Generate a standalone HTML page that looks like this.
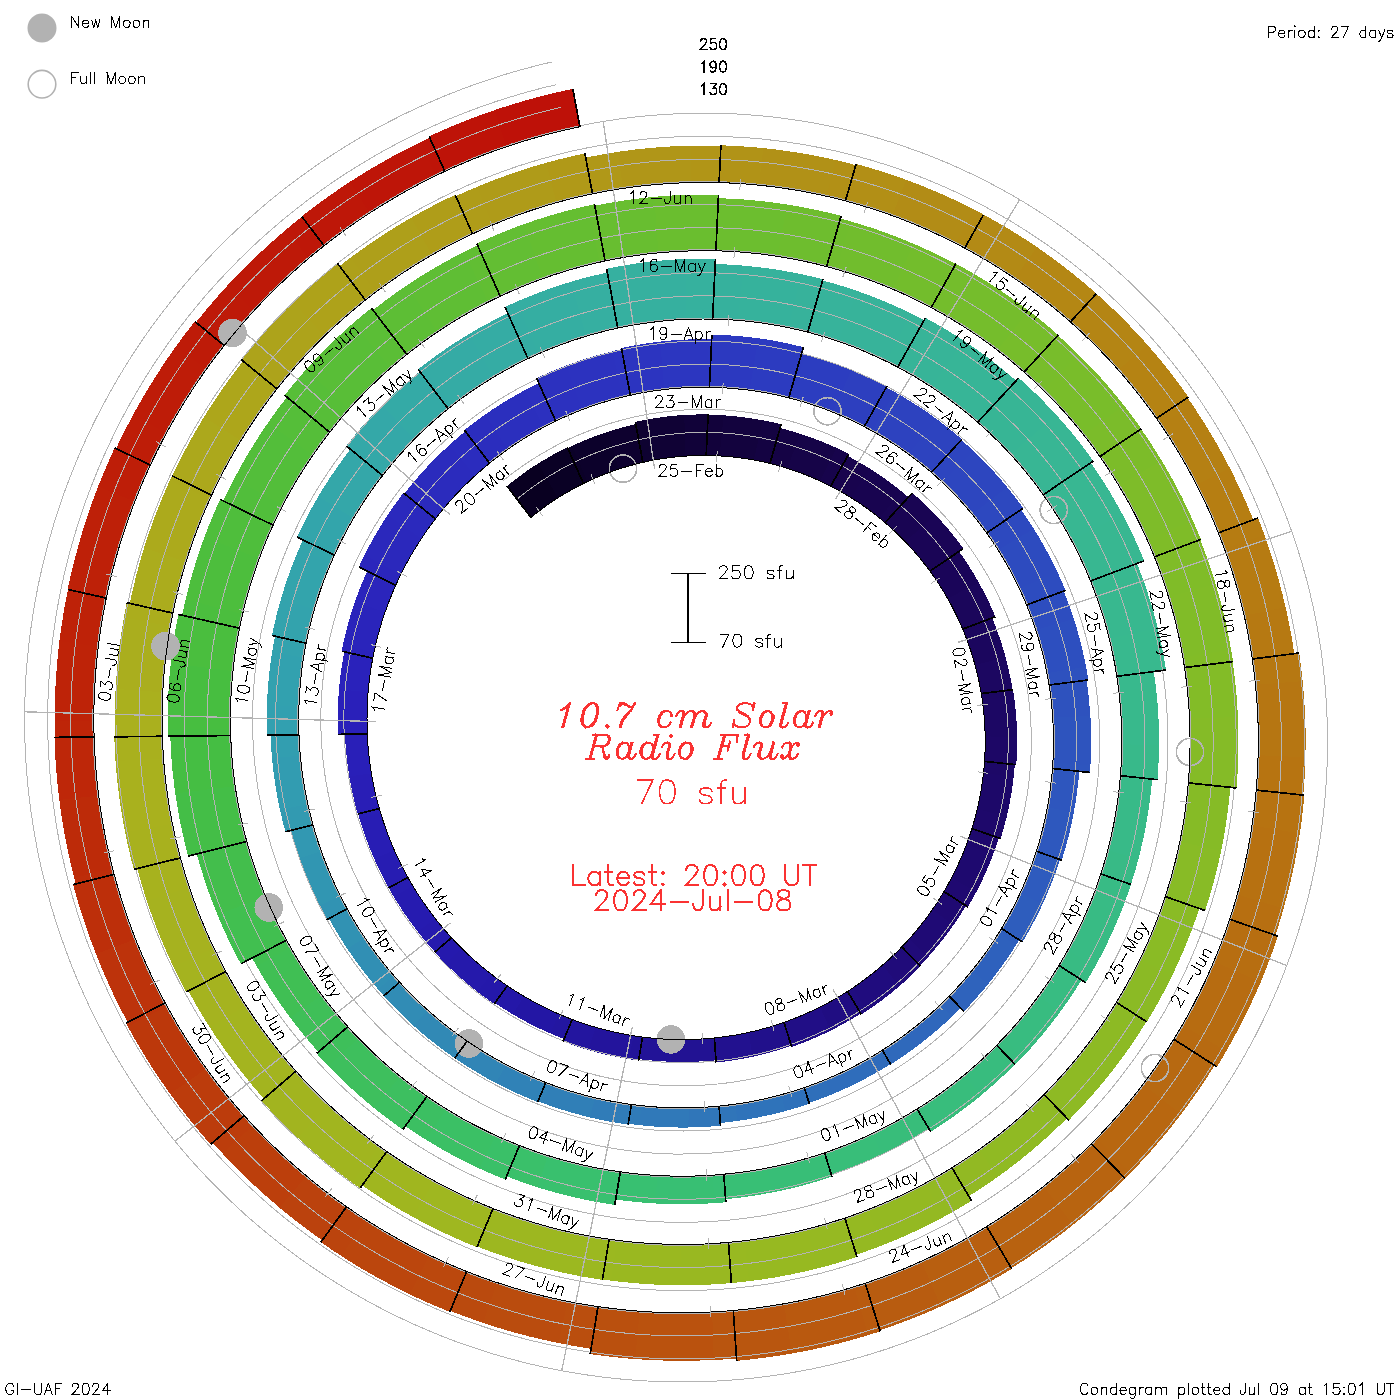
<!DOCTYPE html>
<html><head><meta charset="utf-8"><title>10.7 cm Solar Radio Flux Condegram</title>
<style>
html,body{margin:0;padding:0;background:#fff;}
body{width:1400px;height:1400px;overflow:hidden;font-family:"Liberation Sans",sans-serif;}
svg{display:block;}
text{font-family:"Liberation Sans",sans-serif;}
</style></head><body>
<svg width="1400" height="1400" viewBox="0 0 1400 1400">
<rect width="1400" height="1400" fill="#fff"/>
<g shape-rendering="crispEdges">
<polygon points="531.0,517.5 536.3,513.2 541.7,509.1 547.2,505.1 552.8,501.2 558.5,497.5 538.7,463.2 532.1,467.4 525.6,471.8 519.3,476.4 513.1,481.1 506.9,486.0" fill="#090021"/>
<polygon points="558.0,497.8 562.9,494.8 568.0,491.8 573.1,488.9 578.2,486.2 583.4,483.5 567.3,447.3 561.3,450.3 555.4,453.4 549.6,456.7 543.8,460.1 538.1,463.6" fill="#0a0125"/>
<polygon points="583.4,483.5 585.7,482.4 588.0,481.3 572.9,445.5 570.2,446.8 567.6,448.0" fill="#0b0128"/>
<polygon points="587.4,481.6 593.7,478.7 600.0,476.0 606.4,473.5 612.8,471.1 619.4,468.9 608.8,431.5 601.4,434.0 593.9,436.7 586.6,439.6 579.4,442.6 572.2,445.8" fill="#0c012b"/>
<polygon points="618.8,469.1 624.7,467.2 630.7,465.5 636.8,463.9 642.9,462.4 635.7,424.2 628.7,425.8 621.8,427.6 615.0,429.6 608.1,431.7" fill="#0e012f"/>
<polygon points="642.9,462.4 647.5,461.4 652.2,460.4 646.1,419.7 640.7,420.8 635.3,421.9" fill="#0e0231"/>
<polygon points="651.6,460.5 658.4,459.3 665.3,458.2 672.2,457.3 679.1,456.6 686.1,456.1 685.0,414.9 677.0,415.5 669.1,416.3 661.1,417.3 653.2,418.5 645.4,419.9" fill="#100235"/>
<polygon points="685.4,456.1 692.3,455.7 699.2,455.5 706.2,455.5 708.1,414.4 700.2,414.4 692.2,414.6 684.3,415.0" fill="#110239"/>
<polygon points="706.2,455.5 713.3,455.6 720.3,456.0 724.4,415.4 716.2,415.0 708.1,414.8" fill="#12023b"/>
<polygon points="719.7,455.9 726.7,456.4 733.7,457.1 740.6,457.9 747.6,459.0 754.5,460.2 763.6,420.4 755.6,419.0 747.6,417.8 739.7,416.8 731.6,415.9 723.6,415.3" fill="#13033e"/>
<polygon points="753.9,460.0 759.3,461.1 764.6,462.2 769.9,463.5 781.2,424.3 775.1,422.8 769.0,421.5 762.8,420.3" fill="#140342"/>
<polygon points="769.9,463.5 776.0,465.1 782.1,466.8 788.1,468.6 800.7,433.9 793.9,431.8 787.0,429.8 780.1,428.0" fill="#150345"/>
<polygon points="787.5,468.4 794.2,470.6 800.9,473.0 807.5,475.6 814.0,478.3 820.5,481.2 837.3,448.3 830.0,445.0 822.6,441.9 815.1,439.0 807.6,436.2 800.0,433.7" fill="#160448"/>
<polygon points="819.9,480.9 825.3,483.5 830.7,486.2 848.8,454.0 842.8,450.9 836.6,448.0" fill="#17044c"/>
<polygon points="830.7,486.2 835.9,488.9 841.1,491.8 846.2,494.8 851.2,497.9 870.7,469.2 865.1,465.7 859.3,462.4 853.5,459.1 847.7,456.0" fill="#18044e"/>
<polygon points="850.7,497.5 856.7,501.4 862.6,505.4 868.5,509.5 874.2,513.8 879.8,518.3 902.7,492.3 896.4,487.3 890.0,482.4 883.5,477.7 876.8,473.2 870.1,468.8" fill="#180450"/>
<polygon points="879.3,517.9 882.2,520.2 885.0,522.6 908.5,497.2 905.3,494.5 902.1,491.8" fill="#190552"/>
<polygon points="885.0,522.6 890.4,527.3 895.6,532.2 900.7,537.1 905.7,542.2 936.0,515.4 930.3,509.6 924.5,503.9 918.5,498.3 912.4,492.9" fill="#190553"/>
<polygon points="905.3,541.7 910.2,547.0 915.0,552.4 919.7,557.9 924.2,563.6 928.6,569.3 961.9,546.5 957.0,539.9 951.8,533.4 946.5,527.1 941.1,520.9 935.5,514.9" fill="#1a0556"/>
<polygon points="928.2,568.8 929.1,569.9 929.9,571.1 963.4,548.5 962.5,547.2 961.5,545.9" fill="#1a0557"/>
<polygon points="929.9,571.1 933.8,576.5 937.5,582.0 941.2,587.7 944.6,593.4 948.0,599.2 979.1,583.2 975.4,576.6 971.5,570.2 967.5,563.9 963.3,557.6 958.9,551.5" fill="#1a0559"/>
<polygon points="947.7,598.6 951.0,604.5 954.1,610.6 957.1,616.7 959.9,622.8 962.7,629.1 995.4,616.7 992.4,609.7 989.2,602.8 985.9,595.9 982.4,589.2 978.8,582.5" fill="#1b065b"/>
<polygon points="962.7,629.1 963.1,630.2 963.6,631.4 993.2,620.5 992.7,619.3 992.2,618.0" fill="#1b065d"/>
<polygon points="963.4,630.8 966.1,637.6 968.6,644.4 971.0,651.4 973.1,658.4 975.1,665.5 1005.9,658.4 1003.7,650.5 1001.3,642.7 998.7,635.0 995.9,627.4 993.0,619.9" fill="#1b065e"/>
<polygon points="975.0,664.8 976.8,671.9 978.5,679.1 980.0,686.4 981.3,693.6 1012.6,689.6 1011.2,681.6 1009.5,673.5 1007.7,665.6 1005.7,657.6" fill="#1c0761"/>
<polygon points="981.3,693.6 981.9,697.2 982.4,700.8 1014.2,697.6 1013.6,693.6 1013.0,689.6" fill="#1c0762"/>
<polygon points="982.3,700.2 983.2,707.5 984.0,714.9 984.6,722.2 985.0,729.6 985.2,737.0 1017.1,737.7 1016.9,729.5 1016.5,721.3 1015.9,713.1 1015.1,705.0 1014.1,696.8" fill="#1c0764"/>
<polygon points="985.2,736.4 985.2,742.6 985.1,748.9 984.9,755.1 984.5,761.4 1016.3,764.7 1016.7,757.8 1017.0,750.9 1017.1,743.9 1017.1,737.0" fill="#1d0766"/>
<polygon points="984.5,761.4 984.1,767.4 983.5,773.5 1013.5,777.9 1014.2,771.2 1014.8,764.6" fill="#1d0867"/>
<polygon points="983.5,772.8 982.6,780.2 981.6,787.6 980.3,794.9 978.8,802.3 977.2,809.5 1006.5,817.7 1008.3,809.7 1009.9,801.6 1011.4,793.5 1012.6,785.3 1013.6,777.2" fill="#1d0869"/>
<polygon points="977.3,808.9 975.7,815.5 973.9,822.0 972.0,828.6 1000.6,838.6 1002.8,831.5 1004.8,824.2 1006.6,817.0" fill="#1e086b"/>
<polygon points="972.0,828.6 969.3,836.7 966.4,844.7 992.7,855.7 995.9,846.9 998.8,838.0" fill="#1e086d"/>
<polygon points="966.6,844.1 963.9,851.1 961.0,858.1 958.0,864.9 954.7,871.7 951.3,878.5 976.0,892.6 979.8,885.3 983.3,877.8 986.7,870.3 989.9,862.7 992.9,855.0" fill="#1e096f"/>
<polygon points="951.6,877.9 947.9,884.8 944.0,891.6 967.9,907.0 972.2,899.5 976.3,892.0" fill="#1f0971"/>
<polygon points="944.0,891.6 940.1,897.9 936.1,904.1 932.0,910.2 952.9,925.9 957.4,919.3 961.8,912.6 966.0,905.7" fill="#1f0972"/>
<polygon points="932.4,909.6 928.0,915.8 923.4,921.9 918.7,927.8 913.8,933.7 908.8,939.4 927.6,957.6 933.0,951.4 938.4,945.1 943.5,938.6 948.5,932.0 953.3,925.3" fill="#1f0a75"/>
<polygon points="909.2,938.9 905.6,942.9 901.8,946.9 920.0,965.7 924.1,961.4 928.1,957.1" fill="#200b78"/>
<polygon points="901.8,946.9 897.0,951.7 892.1,956.5 887.1,961.1 882.0,965.6 898.9,986.6 904.5,981.7 909.9,976.7 915.3,971.5 920.5,966.3" fill="#200b7a"/>
<polygon points="882.5,965.2 876.7,970.1 870.7,974.9 864.6,979.6 858.4,984.1 852.0,988.4 866.2,1011.4 873.1,1006.6 879.9,1001.8 886.5,996.7 893.1,991.5 899.4,986.1" fill="#200c7e"/>
<polygon points="852.6,988.0 850.1,989.7 847.6,991.4 861.3,1014.5 864.1,1012.7 866.8,1010.9" fill="#200d80"/>
<polygon points="847.6,991.4 840.7,995.6 833.7,999.7 826.6,1003.7 819.3,1007.4 830.0,1030.9 837.9,1026.8 845.6,1022.6 853.2,1018.2 860.7,1013.5" fill="#200d82"/>
<polygon points="820.0,1007.1 813.0,1010.5 806.0,1013.7 798.9,1016.7 791.7,1019.6 784.4,1022.2 792.1,1046.8 800.0,1043.9 807.8,1040.9 815.5,1037.6 823.2,1034.2 830.7,1030.5" fill="#210e86"/>
<polygon points="785.0,1022.0 784.5,1022.2 784.0,1022.4 791.7,1047.0 792.2,1046.8 792.8,1046.6" fill="#210f89"/>
<polygon points="784.0,1022.4 776.8,1024.8 769.6,1027.0 762.4,1029.0 755.0,1030.9 747.7,1032.6 752.0,1056.9 760.0,1055.0 767.9,1053.0 775.8,1050.8 783.6,1048.4 791.3,1045.9" fill="#21108b"/>
<polygon points="748.4,1032.5 741.6,1033.9 734.9,1035.1 728.1,1036.2 721.3,1037.2 714.4,1038.0 716.1,1062.5 723.5,1061.7 730.9,1060.7 738.2,1059.5 745.5,1058.2 752.8,1056.7" fill="#22118f"/>
<polygon points="714.4,1038.0 712.1,1038.2 709.8,1038.4 711.0,1060.7 713.5,1060.5 715.9,1060.2" fill="#221191"/>
<polygon points="710.5,1038.3 702.7,1039.0 694.9,1039.4 687.0,1039.6 679.2,1039.6 671.3,1039.4 669.7,1061.7 678.2,1061.9 686.6,1061.9 695.0,1061.7 703.4,1061.3 711.8,1060.6" fill="#221293"/>
<polygon points="672.0,1039.5 664.6,1039.1 657.3,1038.6 649.9,1037.9 642.5,1037.1 638.9,1059.1 646.8,1060.0 654.7,1060.8 662.6,1061.4 670.5,1061.7" fill="#221397"/>
<polygon points="642.5,1037.1 637.7,1036.4 632.8,1035.7 628.2,1059.1 633.4,1059.9 638.6,1060.6" fill="#221399"/>
<polygon points="633.6,1035.8 625.8,1034.4 618.0,1032.9 610.3,1031.2 602.6,1029.2 595.0,1027.1 587.5,1049.7 595.7,1052.1 604.0,1054.2 612.3,1056.0 620.6,1057.7 629.0,1059.2" fill="#23149c"/>
<polygon points="595.7,1027.3 587.8,1024.9 580.0,1022.3 572.2,1019.5 563.0,1041.5 571.3,1044.5 579.8,1047.4 588.2,1050.0" fill="#23159f"/>
<polygon points="572.2,1019.5 565.2,1016.7 558.3,1013.8 549.2,1032.9 556.6,1036.0 564.0,1039.0" fill="#2316a1"/>
<polygon points="559.0,1014.1 551.7,1010.9 544.5,1007.4 537.4,1003.8 530.4,1000.0 523.4,996.0 512.0,1013.9 519.4,1018.1 526.9,1022.2 534.5,1026.1 542.2,1029.8 549.9,1033.2" fill="#2316a4"/>
<polygon points="524.1,996.4 518.4,993.0 512.8,989.5 507.3,985.8 494.9,1002.9 500.8,1006.8 506.7,1010.6 512.7,1014.3" fill="#2417a8"/>
<polygon points="507.3,985.8 501.8,982.0 496.3,978.0 490.9,973.9 476.7,991.1 482.4,995.5 488.3,999.7 494.2,1003.9" fill="#2418aa"/>
<polygon points="491.5,974.4 485.2,969.4 479.0,964.2 473.0,958.9 467.0,953.5 461.3,947.8 445.0,963.1 451.1,969.1 457.5,975.0 463.9,980.7 470.5,986.2 477.3,991.6" fill="#2519ab"/>
<polygon points="461.8,948.4 456.6,943.1 451.5,937.7 434.6,952.3 440.0,958.0 445.5,963.7" fill="#2519ad"/>
<polygon points="451.5,937.7 445.8,931.4 440.3,924.8 435.0,918.2 417.2,931.0 422.9,938.2 428.8,945.2 434.9,952.0" fill="#261aae"/>
<polygon points="435.4,918.7 430.5,912.3 425.7,905.7 421.1,899.0 416.7,892.2 412.5,885.3 393.3,895.9 397.8,903.3 402.5,910.6 407.4,917.7 412.5,924.8 417.7,931.7" fill="#261bb0"/>
<polygon points="412.8,885.9 410.4,881.8 408.0,877.6 388.5,887.7 391.1,892.1 393.7,896.6" fill="#271cb1"/>
<polygon points="408.0,877.6 404.3,870.8 400.8,863.8 397.4,856.8 394.1,849.7 373.8,857.8 377.2,865.4 380.8,872.9 384.6,880.3 388.5,887.7" fill="#271cb2"/>
<polygon points="394.5,850.4 391.2,842.9 388.2,835.3 385.4,827.6 382.8,819.8 380.3,812.0 359.1,817.5 361.7,825.9 364.5,834.2 367.5,842.4 370.7,850.5 374.1,858.6" fill="#281db4"/>
<polygon points="380.6,812.7 379.9,810.6 379.3,808.5 358.0,813.8 358.7,816.0 359.4,818.3" fill="#281eb5"/>
<polygon points="379.3,808.5 377.4,801.4 375.6,794.3 374.0,787.1 372.6,779.9 371.3,772.7 349.2,775.6 350.5,783.3 352.1,791.0 353.8,798.7 355.6,806.3 357.7,813.9" fill="#291eb6"/>
<polygon points="371.4,773.4 370.2,765.6 369.2,757.8 368.4,749.9 367.7,742.0 367.3,734.0 345.0,734.3 345.4,742.8 346.1,751.2 347.0,759.6 348.0,768.0 349.3,776.4" fill="#291fb8"/>
<polygon points="367.3,734.0 367.2,733.2 367.2,732.4 338.0,732.6 338.0,733.5 338.0,734.4" fill="#2a20b9"/>
<polygon points="367.2,733.2 367.0,724.9 367.0,716.6 367.1,708.3 367.5,700.0 368.1,691.7 339.1,688.3 338.4,697.3 338.0,706.3 337.8,715.3 337.8,724.4 338.0,733.4" fill="#2a20ba"/>
<polygon points="368.1,692.5 368.7,685.6 369.5,678.7 370.5,671.9 371.5,665.1 372.8,658.2 344.2,651.8 342.9,659.2 341.7,666.7 340.6,674.1 339.8,681.6 339.0,689.1" fill="#2a22bb"/>
<polygon points="372.8,658.2 373.4,654.8 374.2,651.3 343.2,643.6 342.4,647.4 341.6,651.2" fill="#2a23bb"/>
<polygon points="374.0,652.1 375.8,643.9 377.9,635.8 380.1,627.8 382.6,619.8 385.2,611.8 355.4,600.4 352.5,609.1 349.8,617.8 347.3,626.7 345.0,635.5 343.0,644.5" fill="#2a24bb"/>
<polygon points="385.0,612.6 387.4,605.6 390.1,598.8 392.9,591.9 395.8,585.2 367.1,571.2 363.9,578.6 360.8,586.0 357.9,593.6 355.1,601.2" fill="#2b25bc"/>
<polygon points="395.8,585.2 398.4,579.5 401.1,573.9 364.9,554.4 361.8,560.7 358.8,567.1" fill="#2b26bc"/>
<polygon points="400.8,574.6 404.6,567.1 408.6,559.6 412.8,552.3 417.2,545.1 421.8,538.0 388.2,514.2 383.0,522.2 378.1,530.3 373.3,538.5 368.8,546.8 364.5,555.2" fill="#2b28bc"/>
<polygon points="421.3,538.7 425.8,532.0 430.5,525.4 435.4,518.9 403.5,492.8 398.1,500.1 392.8,507.4 387.7,514.9" fill="#2b29bd"/>
<polygon points="435.4,518.9 441.0,511.8 446.8,504.9 417.3,477.9 410.7,485.6 404.4,493.5" fill="#2b2abd"/>
<polygon points="446.3,505.5 451.8,499.1 457.6,492.9 463.5,486.8 469.6,480.8 475.8,475.0 449.9,444.5 442.9,451.0 436.1,457.6 429.4,464.4 423.0,471.4 416.7,478.5" fill="#2b2bbd"/>
<polygon points="475.2,475.5 482.3,469.2 489.6,463.2 465.3,431.3 457.2,438.1 449.2,445.1" fill="#2b2cbe"/>
<polygon points="489.6,463.2 495.8,458.2 502.1,453.5 508.5,448.8 485.7,414.1 478.5,419.3 471.4,424.6 464.4,430.1" fill="#2b2dbe"/>
<polygon points="507.9,449.3 514.9,444.5 522.1,439.8 529.4,435.3 536.8,431.0 544.3,426.9 526.0,389.6 517.6,394.2 509.2,399.0 501.0,404.0 492.9,409.2 485.0,414.6" fill="#2b2fbe"/>
<polygon points="543.6,427.2 549.6,424.1 555.7,421.1 538.8,383.1 532.0,386.5 525.2,390.0" fill="#2c30bf"/>
<polygon points="555.7,421.1 562.3,418.0 569.1,415.0 575.9,412.2 582.7,409.5 567.5,365.1 559.7,368.1 551.9,371.3 544.2,374.7 536.6,378.2" fill="#2c31bf"/>
<polygon points="582.0,409.7 590.1,406.8 598.3,404.0 606.5,401.4 614.8,399.1 623.2,396.9 613.6,351.0 604.0,353.4 594.6,356.0 585.2,358.9 575.9,362.0 566.6,365.4" fill="#2c32bf"/>
<polygon points="622.4,397.1 626.3,396.2 630.3,395.3 621.6,349.1 617.1,350.1 612.7,351.2" fill="#2c33c0"/>
<polygon points="630.3,395.3 638.9,393.5 647.6,391.9 656.3,390.6 665.1,389.5 661.1,341.5 651.1,342.8 641.2,344.3 631.3,346.0 621.4,348.0" fill="#2c34c0"/>
<polygon points="664.3,389.5 672.9,388.6 681.6,388.0 690.3,387.5 699.0,387.3 707.7,387.3 709.7,339.2 699.8,339.2 689.9,339.4 680.0,339.9 670.1,340.6 660.2,341.6" fill="#2c36c0"/>
<polygon points="706.9,387.2 708.2,387.3 709.4,387.3 711.7,339.2 710.3,339.2 708.8,339.2" fill="#2c37c0"/>
<polygon points="709.4,387.3 717.6,387.5 725.8,387.9 734.1,388.6 742.3,389.4 750.5,390.4 759.2,338.4 749.8,337.2 740.3,336.2 730.9,335.5 721.4,334.9 711.9,334.6" fill="#2c39c0"/>
<polygon points="749.7,390.3 757.5,391.4 765.4,392.8 773.2,394.3 781.0,396.0 788.8,397.8 803.4,347.2 794.4,345.0 785.5,343.0 776.4,341.2 767.4,339.6 758.3,338.3" fill="#2c3bc0"/>
<polygon points="788.8,397.8 790.7,398.3 792.6,398.8 806.0,354.3 803.9,353.7 801.7,353.1" fill="#2c3cc0"/>
<polygon points="791.9,398.6 800.3,401.0 808.8,403.5 817.1,406.3 825.4,409.3 833.6,412.5 852.4,369.9 843.1,366.3 833.7,362.8 824.3,359.7 814.7,356.7 805.1,354.0" fill="#2c3dc0"/>
<polygon points="832.9,412.2 840.8,415.5 848.7,419.1 856.5,422.8 864.2,426.7 887.0,386.1 878.3,381.6 869.5,377.4 860.6,373.4 851.6,369.6" fill="#2d3fbf"/>
<polygon points="864.2,426.7 868.5,428.9 872.7,431.3 895.9,392.7 891.1,390.0 886.3,387.4" fill="#2d40bf"/>
<polygon points="872.0,430.9 879.7,435.3 887.3,439.9 894.8,444.7 902.1,449.7 909.3,454.8 937.1,419.4 929.0,413.5 920.7,407.9 912.3,402.5 903.7,397.2 895.1,392.2" fill="#2d42bf"/>
<polygon points="908.7,454.4 914.5,458.7 920.2,463.2 925.8,467.7 931.4,472.4 961.9,439.4 955.7,434.0 949.3,428.9 942.9,423.8 936.4,418.9" fill="#2d43bf"/>
<polygon points="931.4,472.4 937.2,477.6 942.9,482.9 974.3,451.7 967.9,445.8 961.4,439.9" fill="#2d45bf"/>
<polygon points="942.3,482.3 948.7,488.5 954.9,494.9 961.0,501.4 967.0,508.1 972.8,515.0 1007.8,488.0 1001.3,480.2 994.7,472.7 987.8,465.3 980.8,458.1 973.6,451.1" fill="#2d46bf"/>
<polygon points="972.2,514.3 977.1,520.4 981.9,526.6 986.6,532.9 1023.3,508.2 1018.1,501.1 1012.7,494.1 1007.2,487.3" fill="#2d48bf"/>
<polygon points="986.6,532.9 990.7,538.8 994.7,544.7 998.5,550.7 1034.3,529.6 1030.0,522.9 1025.6,516.3 1021.0,509.7" fill="#2d49bf"/>
<polygon points="998.1,550.0 1002.8,557.7 1007.3,565.4 1011.7,573.3 1015.8,581.4 1019.7,589.5 1057.9,573.0 1053.5,563.9 1048.9,555.0 1044.1,546.1 1039.1,537.4 1033.8,528.8" fill="#2d4bbf"/>
<polygon points="1019.4,588.7 1023.1,596.8 1026.6,605.0 1065.5,590.4 1061.6,581.2 1057.5,572.2" fill="#2d4cbf"/>
<polygon points="1026.6,605.0 1029.9,613.5 1033.1,622.1 1036.0,630.8 1074.1,619.7 1070.9,610.1 1067.4,600.5 1063.7,591.1" fill="#2d4dbf"/>
<polygon points="1035.8,630.0 1038.5,638.6 1041.0,647.4 1043.2,656.1 1045.3,665.0 1047.1,673.9 1086.2,667.7 1084.2,657.8 1082.0,647.9 1079.5,638.1 1076.8,628.4 1073.8,618.8" fill="#2d4fbf"/>
<polygon points="1046.9,673.1 1048.0,679.0 1049.0,685.0 1088.3,680.0 1087.3,673.3 1086.1,666.8" fill="#2e51be"/>
<polygon points="1049.0,685.0 1050.3,693.3 1051.3,701.6 1052.1,709.9 1052.7,718.3 1090.4,717.0 1089.7,707.8 1088.9,698.5 1087.8,689.3 1086.4,680.2" fill="#2e52be"/>
<polygon points="1052.7,717.4 1053.2,726.6 1053.4,735.7 1053.5,744.9 1053.3,754.0 1052.8,763.2 1090.4,766.6 1090.9,756.5 1091.1,746.4 1091.1,736.2 1090.9,726.1 1090.4,716.1" fill="#2e54be"/>
<polygon points="1052.9,762.3 1052.7,765.4 1052.5,768.5 1089.9,772.5 1090.2,769.1 1090.4,765.6" fill="#2e55be"/>
<polygon points="1052.5,768.5 1051.8,776.4 1050.9,784.3 1049.9,792.2 1048.7,800.0 1047.3,807.9 1073.6,813.6 1075.1,805.2 1076.4,796.8 1077.5,788.3 1078.5,779.9 1079.2,771.4" fill="#2e56be"/>
<polygon points="1047.5,807.0 1045.7,816.1 1043.7,825.1 1041.4,834.0 1038.9,842.9 1036.2,851.7 1061.6,860.7 1064.5,851.2 1067.2,841.7 1069.7,832.1 1071.8,822.4 1073.8,812.7" fill="#2e58be"/>
<polygon points="1036.5,850.9 1036.4,851.1 1036.4,851.2 1061.8,860.2 1061.8,860.0 1061.9,859.8" fill="#2e59be"/>
<polygon points="1036.4,851.2 1033.5,859.9 1030.4,868.6 1027.0,877.1 1023.5,885.6 1019.7,894.0 1042.1,905.2 1046.1,896.2 1049.9,887.2 1053.5,878.0 1056.9,868.8 1060.0,859.5" fill="#2e5bbe"/>
<polygon points="1020.1,893.2 1016.7,900.4 1013.1,907.6 1009.4,914.6 1005.5,921.6 1001.4,928.5 1022.5,942.0 1026.8,934.6 1031.0,927.2 1035.0,919.7 1038.8,912.1 1042.5,904.4" fill="#2e5dbd"/>
<polygon points="1001.4,928.5 999.7,931.3 998.0,934.0 1015.6,945.8 1017.4,942.9 1019.2,939.9" fill="#2e5fbd"/>
<polygon points="998.5,933.3 993.4,941.2 988.2,948.9 982.8,956.5 977.2,963.9 971.4,971.2 987.4,985.1 993.5,977.3 999.5,969.5 1005.2,961.5 1010.8,953.3 1016.1,945.0" fill="#2e61bd"/>
<polygon points="971.9,970.6 966.5,977.1 960.9,983.6 955.1,989.9 949.2,996.1 963.9,1011.3 970.2,1004.8 976.2,998.1 982.2,991.3 988.0,984.4" fill="#2f63bc"/>
<polygon points="949.2,996.1 944.8,1000.5 940.2,1004.9 951.3,1017.2 956.0,1012.6 960.7,1008.0" fill="#2f65bc"/>
<polygon points="940.9,1004.3 934.0,1010.7 927.0,1017.0 919.8,1023.0 912.5,1028.9 905.0,1034.6 914.5,1048.2 922.3,1042.2 930.0,1036.1 937.5,1029.8 944.8,1023.3 952.0,1016.6" fill="#2f67bc"/>
<polygon points="905.7,1034.1 898.1,1039.6 890.3,1045.0 882.3,1050.1 890.8,1064.4 899.1,1059.0 907.2,1053.4 915.2,1047.6" fill="#2f69bb"/>
<polygon points="882.3,1050.1 874.4,1055.1 866.2,1059.8 873.7,1074.1 882.2,1069.2 890.6,1064.0" fill="#2f6bbb"/>
<polygon points="867.0,1059.3 858.7,1063.9 850.3,1068.2 841.8,1072.4 833.2,1076.3 824.5,1080.0 830.1,1095.1 839.2,1091.3 848.2,1087.2 857.1,1082.9 865.9,1078.4 874.5,1073.6" fill="#2f6dbb"/>
<polygon points="825.3,1079.7 818.3,1082.4 811.3,1085.1 804.3,1087.6 809.1,1103.0 816.4,1100.4 823.7,1097.7 831.0,1094.8" fill="#2f6fba"/>
<polygon points="804.3,1087.6 796.4,1090.2 788.4,1092.6 780.4,1094.9 784.3,1111.4 792.7,1109.0 801.0,1106.5 809.3,1103.7" fill="#2f71ba"/>
<polygon points="781.2,1094.7 772.0,1097.1 762.7,1099.2 753.4,1101.1 744.0,1102.8 734.6,1104.3 736.4,1121.1 746.3,1119.6 756.1,1117.8 765.8,1115.8 775.5,1113.6 785.2,1111.1" fill="#2f73ba"/>
<polygon points="735.4,1104.1 727.3,1105.2 719.1,1106.1 720.3,1123.0 728.8,1122.1 737.3,1121.0" fill="#3075b9"/>
<polygon points="719.1,1106.1 708.7,1107.0 698.3,1107.6 687.8,1107.9 687.5,1127.5 698.5,1127.2 709.5,1126.6 720.5,1125.7" fill="#3076b9"/>
<polygon points="688.7,1107.8 679.1,1107.9 669.5,1107.7 659.9,1107.2 650.3,1106.5 640.8,1105.6 638.1,1125.0 648.1,1126.0 658.2,1126.8 668.3,1127.3 678.4,1127.5 688.4,1127.5" fill="#3079b9"/>
<polygon points="641.7,1105.7 636.5,1105.1 631.4,1104.5 628.2,1123.8 633.6,1124.5 639.0,1125.1" fill="#307bb8"/>
<polygon points="631.4,1104.5 622.0,1103.1 612.7,1101.4 603.5,1099.6 594.2,1097.5 588.9,1117.2 598.7,1119.4 608.4,1121.4 618.2,1123.1 628.1,1124.6" fill="#307cb8"/>
<polygon points="595.1,1097.7 585.7,1095.4 576.4,1092.8 567.2,1090.0 558.0,1086.9 548.9,1083.6 541.2,1102.5 550.8,1106.0 560.4,1109.2 570.2,1112.2 580.0,1114.9 589.8,1117.4" fill="#307fb7"/>
<polygon points="549.7,1083.9 547.8,1083.2 545.8,1082.5 538.0,1101.3 540.0,1102.1 542.1,1102.8" fill="#3081b7"/>
<polygon points="545.8,1082.5 537.6,1079.2 529.5,1075.7 521.4,1072.1 513.4,1068.2 505.5,1064.2 495.1,1082.6 503.5,1086.9 511.9,1091.0 520.4,1094.8 529.0,1098.5 537.7,1102.0" fill="#3082b7"/>
<polygon points="506.3,1064.6 498.2,1060.3 490.3,1055.7 482.5,1051.0 474.8,1046.1 467.2,1041.1 454.7,1058.2 462.7,1063.5 470.9,1068.7 479.1,1073.7 487.5,1078.5 495.9,1083.0" fill="#3185b6"/>
<polygon points="467.2,1041.1 465.9,1040.2 464.7,1039.4 452.1,1056.4 453.4,1057.3 454.7,1058.2" fill="#3187b6"/>
<polygon points="465.4,1039.9 457.5,1034.2 449.7,1028.3 442.0,1022.3 434.5,1016.0 427.2,1009.6 412.6,1024.9 420.3,1031.7 428.2,1038.3 436.3,1044.7 444.5,1050.9 452.9,1056.9" fill="#3189b5"/>
<polygon points="427.8,1010.2 420.5,1003.5 413.4,996.6 406.5,989.5 399.7,982.2 383.6,996.0 390.8,1003.7 398.1,1011.1 405.6,1018.4 413.3,1025.5" fill="#318cb5"/>
<polygon points="399.7,982.2 396.6,978.7 393.5,975.2 377.4,988.4 380.7,992.1 383.9,995.7" fill="#318db4"/>
<polygon points="394.1,975.9 387.8,968.4 381.6,960.7 375.6,952.9 369.9,944.9 364.3,936.8 346.7,947.9 352.5,956.4 358.6,964.8 364.9,973.1 371.4,981.2 378.0,989.1" fill="#318fb4"/>
<polygon points="364.8,937.6 360.2,930.6 355.7,923.4 351.5,916.2 347.3,908.9 328.9,918.4 333.2,926.1 337.7,933.8 342.4,941.3 347.2,948.7" fill="#3192b3"/>
<polygon points="347.3,908.9 343.6,902.0 340.0,894.9 318.7,904.9 322.5,912.3 326.5,919.7" fill="#3193b3"/>
<polygon points="340.4,895.8 336.1,886.9 331.9,877.9 328.1,868.7 324.4,859.5 321.0,850.2 298.7,857.4 302.3,867.3 306.1,877.1 310.2,886.7 314.6,896.3 319.1,905.7" fill="#3196b2"/>
<polygon points="321.3,851.1 318.3,842.4 315.6,833.7 313.0,825.0 290.3,830.6 293.0,839.9 295.9,849.2 299.0,858.3" fill="#3298b2"/>
<polygon points="313.0,825.0 310.2,814.2 307.7,803.3 279.7,808.6 282.4,820.3 285.4,831.8" fill="#329ab1"/>
<polygon points="307.9,804.2 305.9,794.5 304.1,784.6 302.6,774.8 301.3,764.9 300.3,755.0 271.9,756.7 272.9,767.4 274.3,778.0 275.9,788.6 277.8,799.1 279.9,809.6" fill="#329cb1"/>
<polygon points="300.4,755.9 299.5,745.3 299.0,734.8 270.5,735.1 271.1,746.4 271.9,757.7" fill="#329eb0"/>
<polygon points="299.0,734.8 298.7,725.2 298.7,715.5 298.9,705.9 267.1,703.9 266.8,714.3 266.8,724.7 267.0,735.1" fill="#32a0b0"/>
<polygon points="298.9,706.8 299.3,696.8 300.1,686.8 301.0,676.8 302.2,666.8 303.7,656.8 272.3,650.9 270.7,661.7 269.4,672.4 268.3,683.2 267.5,694.1 267.0,704.9" fill="#32a1af"/>
<polygon points="303.6,657.8 304.8,650.5 306.1,643.2 275.0,636.2 273.5,644.0 272.2,651.9" fill="#33a2ae"/>
<polygon points="306.1,643.2 308.0,634.5 310.0,625.8 312.2,617.2 314.6,608.6 281.3,597.9 278.6,607.2 276.2,616.6 274.0,626.0 272.0,635.5" fill="#33a3ad"/>
<polygon points="314.3,609.5 317.3,599.9 320.4,590.3 323.9,580.8 327.5,571.3 331.4,562.0 299.7,547.2 295.4,557.3 291.4,567.6 287.7,577.9 284.2,588.4 281.0,598.9" fill="#33a4ac"/>
<polygon points="331.1,562.8 332.7,559.0 334.4,555.2 303.0,539.8 301.1,544.0 299.3,548.1" fill="#33a5ab"/>
<polygon points="334.4,555.2 338.9,545.6 343.7,536.2 348.7,526.8 354.0,517.6 318.8,495.5 313.0,505.7 307.4,516.0 302.1,526.4 297.1,537.0" fill="#33a5ab"/>
<polygon points="353.5,518.4 358.8,509.7 364.3,501.2 370.0,492.7 375.9,484.4 382.0,476.3 349.9,450.0 343.1,459.0 336.5,468.1 330.2,477.4 324.1,486.8 318.3,496.4" fill="#34a7a9"/>
<polygon points="381.5,477.0 382.0,476.3 382.6,475.6 350.5,449.2 349.8,450.0 349.2,450.8" fill="#34a8a8"/>
<polygon points="382.6,475.6 388.7,467.9 395.0,460.4 401.5,453.0 408.2,445.7 415.1,438.6 382.7,404.7 375.0,412.5 367.5,420.6 360.2,428.8 353.2,437.2 346.3,445.8" fill="#34a8a8"/>
<polygon points="414.4,439.3 420.9,432.9 427.5,426.7 434.3,420.6 441.2,414.6 448.2,408.8 419.8,371.5 411.9,377.9 404.2,384.5 396.6,391.3 389.2,398.3 382.0,405.4" fill="#34aaa6"/>
<polygon points="448.2,408.8 450.4,407.0 452.7,405.3 423.2,365.4 420.6,367.3 418.1,369.3" fill="#35aaa6"/>
<polygon points="451.9,405.9 460.1,399.6 468.4,393.6 476.9,387.7 485.5,382.1 494.3,376.7 470.0,333.5 460.1,339.5 450.4,345.8 440.9,352.3 431.5,359.0 422.3,366.0" fill="#35aba5"/>
<polygon points="493.5,377.2 501.9,372.3 510.5,367.6 519.2,363.0 528.0,358.7 507.8,313.3 497.9,318.2 488.2,323.2 478.5,328.5 469.0,334.0" fill="#35aca4"/>
<polygon points="528.0,358.7 533.6,356.1 539.3,353.5 517.9,301.2 511.4,304.0 505.0,307.0" fill="#35ada3"/>
<polygon points="538.4,353.9 547.9,349.8 557.5,346.0 567.2,342.4 577.0,339.1 586.9,336.0 572.2,281.4 560.9,284.9 549.8,288.6 538.7,292.7 527.7,297.0 516.9,301.6" fill="#35aea2"/>
<polygon points="586.0,336.3 596.5,333.3 607.0,330.6 617.7,328.1 607.3,272.6 595.1,275.3 583.1,278.3 571.2,281.7" fill="#36afa1"/>
<polygon points="617.7,328.1 627.1,326.2 636.6,324.5 628.2,264.7 617.4,266.6 606.6,268.8" fill="#36b0a0"/>
<polygon points="635.6,324.7 645.9,323.1 656.2,321.8 666.6,320.7 677.0,319.9 687.4,319.3 686.6,258.9 674.6,259.5 662.7,260.4 650.8,261.6 638.9,263.1 627.1,264.9" fill="#36b09f"/>
<polygon points="686.4,319.3 695.2,319.1 703.9,319.0 712.6,319.1 715.5,258.7 705.5,258.6 695.5,258.7 685.5,258.9" fill="#36b19e"/>
<polygon points="712.6,319.1 721.3,319.3 730.0,319.8 738.7,320.4 744.7,265.7 734.9,265.0 725.1,264.4 715.2,264.1" fill="#36b19d"/>
<polygon points="737.7,320.3 748.1,321.3 758.5,322.6 768.9,324.1 779.3,325.9 789.6,327.9 802.4,274.4 790.7,272.1 779.0,270.0 767.3,268.3 755.5,266.8 743.7,265.7" fill="#36b29c"/>
<polygon points="788.6,327.7 798.2,329.9 807.7,332.2 822.9,279.3 812.1,276.6 801.3,274.2" fill="#37b29b"/>
<polygon points="807.7,332.2 818.3,335.1 828.8,338.3 839.3,341.8 858.3,291.3 846.5,287.4 834.6,283.8 822.6,280.4" fill="#37b39b"/>
<polygon points="838.4,341.4 848.3,345.0 858.2,348.8 867.9,352.9 877.5,357.2 887.1,361.7 912.2,314.1 901.4,308.9 890.5,304.0 879.5,299.4 868.4,295.0 857.2,291.0" fill="#37b39a"/>
<polygon points="886.2,361.3 892.0,364.2 897.7,367.2 924.1,320.2 917.7,316.8 911.2,313.6" fill="#37b499"/>
<polygon points="897.7,367.2 906.5,371.9 915.2,376.9 923.7,382.1 932.2,387.6 964.5,341.2 954.9,335.0 945.2,329.0 935.4,323.3 925.4,317.9" fill="#37b498"/>
<polygon points="931.4,387.0 940.2,393.0 948.8,399.1 957.3,405.5 965.6,412.1 973.8,418.9 1011.7,376.9 1002.4,369.1 993.0,361.6 983.4,354.3 973.6,347.3 963.6,340.6" fill="#37b597"/>
<polygon points="973.1,418.3 975.4,420.3 977.7,422.3 1016.1,380.7 1013.5,378.4 1010.8,376.2" fill="#37b596"/>
<polygon points="977.7,422.3 984.7,428.6 991.6,435.0 998.3,441.6 1004.9,448.4 1011.4,455.3 1057.1,415.8 1049.7,407.9 1042.2,400.1 1034.5,392.5 1026.7,385.1 1018.7,377.9" fill="#37b595"/>
<polygon points="1010.7,454.6 1017.6,462.3 1024.3,470.2 1030.8,478.2 1037.1,486.4 1043.2,494.8 1093.3,461.0 1086.4,451.5 1079.2,442.0 1071.8,432.8 1064.1,423.8 1056.3,415.0" fill="#38b694"/>
<polygon points="1043.2,494.8 1043.7,495.5 1044.2,496.2 1091.9,464.4 1091.3,463.6 1090.8,462.8" fill="#38b693"/>
<polygon points="1043.7,495.4 1049.7,504.2 1055.6,513.2 1061.2,522.3 1066.6,531.6 1071.8,541.0 1123.1,515.4 1117.2,504.7 1111.1,494.1 1104.8,483.7 1098.1,473.5 1091.3,463.5" fill="#38b792"/>
<polygon points="1071.4,540.2 1075.5,548.1 1079.5,556.2 1083.4,564.4 1087.0,572.6 1090.5,581.0 1144.2,560.8 1140.2,551.3 1136.1,541.9 1131.8,532.6 1127.3,523.5 1122.6,514.4" fill="#38b791"/>
<polygon points="1090.5,581.0 1092.1,585.0 1093.7,589.1 1140.5,572.6 1138.7,568.0 1137.0,563.5" fill="#38b890"/>
<polygon points="1093.3,588.2 1097.1,598.3 1100.6,608.5 1103.8,618.8 1106.8,629.2 1109.5,639.6 1158.0,629.1 1155.0,617.4 1151.7,605.8 1148.1,594.2 1144.3,582.8 1140.1,571.5" fill="#38b88f"/>
<polygon points="1109.2,638.7 1111.4,648.0 1113.4,657.4 1115.2,666.8 1116.8,676.3 1166.0,670.0 1164.3,659.4 1162.3,648.9 1160.1,638.4 1157.7,628.0" fill="#38b98e"/>
<polygon points="1116.8,676.3 1117.9,684.1 1118.9,691.9 1156.1,688.6 1155.0,680.1 1153.8,671.6" fill="#38b98d"/>
<polygon points="1118.8,690.9 1119.9,701.7 1120.8,712.6 1121.4,723.4 1121.7,734.3 1121.7,745.2 1159.0,746.4 1159.0,734.6 1158.7,722.8 1158.1,711.0 1157.2,699.2 1155.9,687.5" fill="#38b98c"/>
<polygon points="1121.7,744.2 1121.5,754.7 1121.1,765.2 1120.4,775.7 1157.5,779.7 1158.3,768.2 1158.8,756.8 1159.0,745.4" fill="#38b98a"/>
<polygon points="1120.4,775.7 1119.3,787.1 1117.9,798.5 1149.5,803.5 1151.0,791.3 1152.1,779.1" fill="#38ba89"/>
<polygon points="1118.1,797.5 1116.5,808.3 1114.7,819.1 1112.5,829.8 1110.2,840.5 1107.5,851.1 1138.2,860.0 1141.0,848.6 1143.6,837.2 1145.9,825.7 1147.9,814.1 1149.6,802.5" fill="#38ba88"/>
<polygon points="1107.8,850.1 1104.5,862.1 1100.8,873.9 1130.9,884.5 1134.9,871.8 1138.4,859.0" fill="#38ba86"/>
<polygon points="1100.8,873.9 1097.6,883.4 1094.2,892.8 1090.6,902.2 1119.9,914.8 1123.8,904.8 1127.5,894.7 1130.9,884.5" fill="#38bb85"/>
<polygon points="1090.9,901.2 1086.7,911.4 1082.2,921.4 1077.5,931.4 1072.5,941.2 1067.3,950.9 1094.8,967.1 1100.5,956.7 1105.8,946.2 1110.9,935.5 1115.7,924.7 1120.3,913.8" fill="#38bb84"/>
<polygon points="1067.8,950.0 1063.4,957.8 1058.9,965.4 1085.8,982.7 1090.6,974.5 1095.4,966.2" fill="#38bb83"/>
<polygon points="1058.9,965.4 1053.9,973.3 1048.8,981.2 1043.6,988.9 1038.1,996.5 1059.4,1012.9 1065.2,1004.9 1070.9,996.7 1076.3,988.4 1081.5,980.0" fill="#38bc82"/>
<polygon points="1038.7,995.7 1032.1,1004.5 1025.2,1013.2 1018.2,1021.7 1010.9,1030.1 1003.4,1038.2 1022.5,1057.2 1030.5,1048.6 1038.2,1039.7 1045.7,1030.7 1053.0,1021.5 1060.1,1012.1" fill="#38bc80"/>
<polygon points="1004.1,1037.5 1000.4,1041.4 996.6,1045.2 1015.3,1064.6 1019.3,1060.5 1023.2,1056.4" fill="#38bc7f"/>
<polygon points="996.6,1045.2 988.7,1053.1 980.5,1060.8 972.1,1068.2 963.6,1075.5 979.9,1096.4 989.0,1088.7 997.9,1080.8 1006.6,1072.7 1015.0,1064.3" fill="#38bc7e"/>
<polygon points="964.4,1074.8 955.7,1081.8 946.9,1088.6 937.8,1095.1 928.7,1101.4 919.3,1107.5 933.0,1130.3 942.9,1123.9 952.6,1117.2 962.2,1110.2 971.6,1103.1 980.8,1095.7" fill="#38bd7c"/>
<polygon points="920.2,1107.0 918.7,1108.0 917.1,1108.9 930.7,1131.8 932.3,1130.7 933.9,1129.7" fill="#38bd7b"/>
<polygon points="917.1,1108.9 908.2,1114.3 899.2,1119.6 890.0,1124.6 880.7,1129.4 871.3,1134.0 880.6,1155.1 890.5,1150.3 900.3,1145.2 910.0,1140.0 919.5,1134.5 928.9,1128.8" fill="#38bd7a"/>
<polygon points="872.2,1133.5 862.9,1137.8 853.4,1141.9 843.9,1145.7 834.3,1149.4 824.6,1152.8 831.4,1174.8 841.7,1171.2 851.8,1167.4 861.8,1163.4 871.8,1159.1 881.6,1154.6" fill="#38be79"/>
<polygon points="824.6,1152.8 822.4,1153.5 820.2,1154.2 827.4,1178.2 829.7,1177.4 832.0,1176.7" fill="#38be78"/>
<polygon points="821.2,1153.9 810.4,1157.3 799.6,1160.4 788.8,1163.2 777.8,1165.8 766.8,1168.1 770.9,1192.7 782.6,1190.3 794.2,1187.7 805.7,1184.7 817.1,1181.4 828.4,1177.9" fill="#38be77"/>
<polygon points="767.8,1167.9 756.9,1169.9 745.9,1171.6 734.9,1173.1 723.8,1174.2 725.6,1199.2 737.2,1198.0 748.9,1196.4 760.5,1194.6 772.0,1192.5" fill="#38bf75"/>
<polygon points="723.8,1174.2 717.9,1174.8 711.9,1175.2 713.1,1203.2 719.4,1202.8 725.8,1202.3" fill="#38bf74"/>
<polygon points="712.9,1175.1 701.7,1175.8 690.4,1176.1 679.1,1176.2 667.7,1175.9 656.4,1175.4 654.1,1203.4 666.1,1204.0 678.2,1204.2 690.2,1204.2 702.2,1203.8 714.2,1203.2" fill="#38bf73"/>
<polygon points="657.5,1175.5 648.1,1174.9 638.8,1174.1 629.5,1173.0 620.3,1171.8 615.7,1199.6 625.5,1200.8 635.4,1201.9 645.3,1202.8 655.2,1203.5" fill="#38c071"/>
<polygon points="620.3,1171.8 610.7,1170.4 601.2,1168.7 594.3,1201.5 604.5,1203.3 614.8,1204.9" fill="#38c070"/>
<polygon points="602.2,1168.9 591.0,1166.7 579.9,1164.3 568.9,1161.5 557.9,1158.5 547.0,1155.2 536.1,1186.9 547.8,1190.4 559.6,1193.7 571.5,1196.7 583.4,1199.3 595.4,1201.7" fill="#39c06e"/>
<polygon points="548.0,1155.5 538.4,1152.4 528.9,1149.0 519.5,1145.5 506.5,1176.3 516.7,1180.2 526.9,1183.8 537.2,1187.2" fill="#3ac06a"/>
<polygon points="519.5,1145.5 507.0,1140.4 494.8,1135.0 478.5,1168.1 491.8,1174.0 505.2,1179.5" fill="#3ac068"/>
<polygon points="495.7,1135.4 485.4,1130.5 475.2,1125.4 465.1,1119.9 455.1,1114.3 445.3,1108.3 425.1,1139.2 435.7,1145.6 446.4,1151.8 457.3,1157.7 468.4,1163.3 479.5,1168.6" fill="#3bc065"/>
<polygon points="446.2,1108.9 436.5,1102.7 427.0,1096.3 405.2,1126.1 415.5,1133.1 426.0,1139.8" fill="#3cbf62"/>
<polygon points="427.0,1096.3 417.6,1089.6 408.4,1082.8 399.4,1075.7 372.8,1107.0 382.6,1114.8 392.6,1122.3 402.7,1129.6" fill="#3dbf60"/>
<polygon points="400.3,1076.3 391.4,1069.0 382.7,1061.4 374.2,1053.6 365.9,1045.6 357.8,1037.4 327.5,1065.2 336.3,1074.2 345.3,1082.9 354.6,1091.4 364.0,1099.7 373.7,1107.7" fill="#3ebf5d"/>
<polygon points="358.6,1038.2 353.2,1032.5 347.9,1026.7 316.6,1053.5 322.4,1059.8 328.3,1066.0" fill="#3ebf5a"/>
<polygon points="347.9,1026.7 340.9,1018.8 334.2,1010.7 327.6,1002.5 321.2,994.2 289.5,1016.6 296.4,1025.7 303.5,1034.6 310.9,1043.4 318.4,1052.0" fill="#3fbf58"/>
<polygon points="321.8,995.0 315.0,985.7 308.4,976.1 302.1,966.4 296.0,956.6 290.1,946.6 255.9,964.9 262.2,975.8 268.8,986.5 275.7,997.0 282.8,1007.4 290.2,1017.6" fill="#40bf54"/>
<polygon points="290.7,947.5 288.6,943.9 286.6,940.2 252.1,958.0 254.3,962.0 256.5,965.9" fill="#41bf52"/>
<polygon points="286.6,940.2 281.9,931.4 277.5,922.6 273.2,913.6 269.1,904.5 265.2,895.3 217.1,913.8 221.4,924.1 225.9,934.2 230.7,944.2 235.6,954.1 240.8,963.9" fill="#41bf50"/>
<polygon points="265.6,896.3 261.2,885.5 257.2,874.6 253.4,863.5 249.9,852.4 246.7,841.2 196.7,853.6 200.2,866.1 204.1,878.5 208.2,890.8 212.7,902.9 217.5,914.9" fill="#43be4c"/>
<polygon points="247.0,842.2 246.9,841.8 246.8,841.4 196.7,853.9 196.8,854.3 197.0,854.8" fill="#43be49"/>
<polygon points="246.8,841.4 243.9,830.3 241.2,819.1 238.9,807.8 236.8,796.5 235.1,785.1 175.1,792.2 177.1,805.1 179.3,817.9 182.0,830.7 184.9,843.4 188.1,856.0" fill="#44be47"/>
<polygon points="235.2,786.1 233.9,776.1 232.7,766.0 231.8,755.8 231.1,745.7 230.7,735.5 170.3,736.2 170.8,747.7 171.5,759.1 172.5,770.6 173.8,782.0 175.2,793.4" fill="#45be43"/>
<polygon points="230.7,735.5 230.6,731.6 230.5,727.7 167.8,727.3 167.8,731.8 168.0,736.2" fill="#46be41"/>
<polygon points="230.5,728.8 230.4,717.1 230.6,705.3 231.1,693.6 232.0,681.8 233.1,670.1 170.9,661.9 169.6,675.2 168.6,688.6 168.0,701.9 167.7,715.2 167.8,728.6" fill="#47be40"/>
<polygon points="232.9,671.2 234.2,660.4 235.7,649.6 237.5,638.9 239.5,628.2 178.3,614.4 176.0,626.5 174.0,638.7 172.2,650.9 170.8,663.1" fill="#4abe3e"/>
<polygon points="239.5,628.2 241.1,620.6 242.8,613.1 185.9,598.2 183.9,606.7 182.1,615.2" fill="#4bbe3e"/>
<polygon points="242.6,614.1 245.4,602.7 248.5,591.3 251.9,579.9 255.6,568.7 259.6,557.5 205.0,535.7 200.4,548.3 196.2,560.9 192.4,573.7 188.8,586.5 185.6,599.4" fill="#4dbe3d"/>
<polygon points="259.3,558.6 263.6,547.3 268.2,536.2 273.1,525.2 220.2,499.4 214.6,511.7 209.4,524.2 204.5,536.9" fill="#4fbe3c"/>
<polygon points="273.1,525.2 278.0,514.7 283.3,504.4 234.8,477.6 228.9,489.2 223.3,500.9" fill="#51be3b"/>
<polygon points="282.8,505.3 288.4,494.9 294.3,484.5 300.4,474.3 306.8,464.3 313.5,454.4 268.7,421.8 261.2,432.9 254.0,444.1 247.1,455.4 240.5,467.0 234.2,478.7" fill="#53be3a"/>
<polygon points="312.8,455.3 318.3,447.5 324.0,439.8 329.8,432.3 287.0,397.1 280.4,405.6 274.1,414.1 268.0,422.8" fill="#55be39"/>
<polygon points="329.8,432.3 336.2,424.2 342.9,416.3 349.7,408.5 307.0,368.5 299.4,377.2 291.9,386.1 284.6,395.2" fill="#57be38"/>
<polygon points="349.0,409.3 357.0,400.5 365.3,391.8 373.8,383.4 382.6,375.2 391.5,367.3 354.1,322.3 344.1,331.2 334.2,340.4 324.7,349.8 315.3,359.5 306.2,369.4" fill="#59be37"/>
<polygon points="390.7,368.0 398.7,361.1 406.8,354.5 371.4,308.0 362.2,315.4 353.2,323.1" fill="#5bbe36"/>
<polygon points="406.8,354.5 417.1,346.5 427.5,338.9 438.2,331.5 408.2,284.5 396.2,292.7 384.5,301.2 373.0,310.1" fill="#5dbe35"/>
<polygon points="437.3,332.1 447.4,325.5 457.6,319.1 468.0,313.0 478.5,307.2 489.2,301.7 465.2,251.3 453.3,257.5 441.5,264.0 429.9,270.7 418.4,277.8 407.2,285.1" fill="#5fbe34"/>
<polygon points="488.2,302.2 494.2,299.2 500.2,296.3 477.6,245.3 470.8,248.5 464.1,251.8" fill="#61be33"/>
<polygon points="500.2,296.3 510.9,291.4 521.7,286.8 532.6,282.4 543.6,278.4 525.5,223.6 513.1,228.1 500.9,233.0 488.8,238.1 476.8,243.5" fill="#63be33"/>
<polygon points="542.6,278.7 554.0,274.8 565.5,271.2 577.2,267.8 588.9,264.7 600.7,262.0 589.5,205.3 576.3,208.4 563.1,211.8 550.1,215.5 537.1,219.6 524.3,224.0" fill="#65be31"/>
<polygon points="599.6,262.2 602.3,261.6 605.1,261.0 594.5,204.3 591.4,204.9 588.3,205.6" fill="#67be31"/>
<polygon points="605.1,261.0 615.9,258.9 626.7,257.0 637.6,255.3 648.5,253.9 659.5,252.8 655.5,196.7 643.3,198.0 631.1,199.5 618.9,201.3 606.8,203.4 594.7,205.8" fill="#68be30"/>
<polygon points="658.4,252.9 669.8,251.9 681.3,251.2 692.8,250.8 704.3,250.7 715.9,250.8 718.5,194.7 705.7,194.5 692.8,194.6 679.9,195.1 667.1,195.8 654.3,196.8" fill="#6abe2f"/>
<polygon points="715.9,250.8 717.5,250.9 719.2,250.9 722.0,198.3 720.2,198.2 718.4,198.2" fill="#6bbe2f"/>
<polygon points="718.0,250.9 730.2,251.4 742.4,252.2 754.6,253.3 766.7,254.8 778.8,256.5 788.1,204.7 774.7,202.7 761.3,201.1 747.8,199.8 734.3,198.8 720.8,198.3" fill="#6cbe2f"/>
<polygon points="777.7,256.4 790.0,258.4 802.2,260.8 814.4,263.5 826.6,266.6 841.1,215.9 827.7,212.5 814.2,209.5 800.6,206.8 786.9,204.5" fill="#6ebd2e"/>
<polygon points="826.6,266.6 832.0,268.0 837.4,269.6 852.3,221.8 846.4,220.1 840.4,218.5" fill="#70bd2d"/>
<polygon points="836.3,269.2 848.1,272.8 859.7,276.6 871.3,280.7 882.7,285.1 894.1,289.8 914.8,244.3 902.3,239.1 889.7,234.2 876.9,229.6 864.1,225.4 851.1,221.5" fill="#71bd2d"/>
<polygon points="893.1,289.4 902.7,293.6 912.3,298.1 921.8,302.8 931.2,307.6 955.7,264.1 945.4,258.6 934.9,253.5 924.4,248.5 913.7,243.8" fill="#73bd2c"/>
<polygon points="931.2,307.6 939.6,312.2 948.0,317.0 974.4,274.1 965.2,268.8 955.9,263.7" fill="#74bd2c"/>
<polygon points="947.0,316.5 957.6,322.8 968.0,329.4 978.2,336.3 988.3,343.4 998.2,350.8 1029.8,311.5 1018.9,303.4 1007.8,295.4 996.5,287.8 985.0,280.5 973.4,273.5" fill="#75bd2c"/>
<polygon points="997.3,350.1 1006.4,357.2 1015.3,364.5 1024.0,372.1 1058.2,335.0 1048.6,326.7 1038.8,318.6 1028.8,310.8" fill="#77bd2b"/>
<polygon points="1024.0,372.1 1034.1,381.3 1044.0,390.7 1079.9,355.9 1069.1,345.5 1057.9,335.3" fill="#78bd2b"/>
<polygon points="1043.2,389.9 1051.9,398.7 1060.4,407.8 1068.7,417.0 1076.7,426.5 1084.6,436.1 1124.5,406.1 1115.9,395.4 1107.1,384.9 1098.0,374.7 1088.6,364.8 1079.0,355.0" fill="#79bd2a"/>
<polygon points="1083.9,435.2 1092.0,445.8 1099.9,456.6 1141.3,428.7 1132.7,416.8 1123.8,405.1" fill="#7bbc2a"/>
<polygon points="1099.9,456.6 1106.6,466.4 1113.0,476.3 1119.3,486.3 1162.3,461.7 1155.5,450.6 1148.4,439.7 1141.0,428.9" fill="#7cbc29"/>
<polygon points="1118.7,485.4 1125.0,496.1 1131.1,507.0 1136.8,518.1 1142.3,529.3 1147.5,540.6 1193.3,521.5 1187.6,509.0 1181.6,496.6 1175.3,484.5 1168.6,472.4 1161.7,460.6" fill="#7ebc29"/>
<polygon points="1147.1,539.6 1150.8,548.2 1154.4,556.9 1200.9,539.4 1196.9,529.9 1192.8,520.4" fill="#7fbc28"/>
<polygon points="1154.4,556.9 1158.4,567.1 1162.1,577.4 1165.6,587.7 1168.9,598.2 1216.0,585.1 1212.4,573.6 1208.6,562.2 1204.5,550.9 1200.2,539.7" fill="#80bc28"/>
<polygon points="1168.6,597.1 1172.1,609.1 1175.3,621.3 1178.2,633.5 1180.7,645.8 1183.0,658.1 1231.3,651.0 1228.9,637.4 1226.1,623.9 1222.9,610.5 1219.4,597.1 1215.6,583.9" fill="#81bc28"/>
<polygon points="1182.8,657.0 1183.7,662.3 1184.5,667.6 1233.0,661.5 1232.1,655.6 1231.1,649.7" fill="#82bc27"/>
<polygon points="1184.5,667.6 1186.3,680.5 1187.7,693.5 1188.8,706.5 1189.6,719.5 1238.0,718.4 1237.2,704.1 1236.1,689.9 1234.5,675.7 1232.6,661.5" fill="#83bc27"/>
<polygon points="1189.5,718.3 1189.9,730.9 1190.0,743.5 1189.8,756.2 1189.3,768.8 1188.4,781.4 1236.6,786.3 1237.6,772.5 1238.2,758.7 1238.5,744.8 1238.4,731.0 1238.0,717.2" fill="#85bb27"/>
<polygon points="1188.5,780.2 1188.4,781.6 1188.3,782.9 1236.5,788.0 1236.6,786.5 1236.7,785.1" fill="#86bb26"/>
<polygon points="1188.3,782.9 1187.1,795.0 1185.7,807.0 1183.9,819.0 1181.9,830.9 1179.6,842.8 1220.8,852.3 1223.4,839.4 1225.6,826.5 1227.5,813.5 1229.1,800.4 1230.4,787.4" fill="#86bb26"/>
<polygon points="1179.8,841.7 1177.4,852.8 1174.7,863.8 1171.8,874.8 1168.7,885.7 1165.2,896.5 1205.2,910.6 1208.9,898.8 1212.3,887.0 1215.5,875.1 1218.4,863.1 1221.1,851.1" fill="#88bb26"/>
<polygon points="1165.2,896.5 1164.2,899.7 1163.1,902.8 1197.1,915.3 1198.2,911.9 1199.4,908.5" fill="#89bb25"/>
<polygon points="1163.5,901.7 1159.3,913.7 1154.7,925.6 1149.9,937.3 1144.7,949.0 1139.3,960.5 1171.4,977.1 1177.3,964.7 1182.8,952.3 1188.0,939.7 1192.9,926.9 1197.5,914.1" fill="#8abb25"/>
<polygon points="1139.8,959.4 1134.3,970.4 1128.6,981.2 1122.6,991.8 1116.4,1002.3 1146.8,1021.9 1153.5,1010.6 1160.0,999.2 1166.1,987.6 1172.0,975.9" fill="#8bba25"/>
<polygon points="1116.4,1002.3 1112.4,1008.6 1108.4,1014.9 1137.9,1035.1 1142.2,1028.4 1146.5,1021.6" fill="#8cba25"/>
<polygon points="1109.0,1013.9 1101.9,1024.5 1094.6,1035.0 1086.9,1045.2 1079.0,1055.3 1070.9,1065.2 1097.6,1088.9 1106.4,1078.3 1114.9,1067.6 1123.1,1056.6 1131.0,1045.4 1138.6,1034.1" fill="#8dba24"/>
<polygon points="1071.6,1064.3 1062.7,1074.6 1053.5,1084.6 1044.0,1094.4 1068.9,1120.2 1079.0,1109.7 1088.9,1098.9 1098.5,1087.9" fill="#8eba24"/>
<polygon points="1044.0,1094.4 1035.7,1102.6 1027.3,1110.5 1049.1,1135.4 1058.1,1126.9 1067.0,1118.2" fill="#8fba24"/>
<polygon points="1028.1,1109.7 1018.6,1118.3 1008.8,1126.7 998.8,1134.8 988.6,1142.6 978.2,1150.2 996.8,1177.6 1007.9,1169.5 1018.8,1161.1 1029.4,1152.5 1039.8,1143.6 1050.0,1134.5" fill="#90ba23"/>
<polygon points="979.2,1149.5 970.2,1155.8 961.2,1161.8 951.9,1167.7 968.8,1196.2 978.6,1189.9 988.3,1183.5 997.8,1176.8" fill="#92b923"/>
<polygon points="951.9,1167.7 942.9,1173.2 933.8,1178.5 924.5,1183.6 942.0,1217.8 952.0,1212.3 961.8,1206.7 971.5,1200.8" fill="#93b923"/>
<polygon points="925.5,1183.0 914.1,1189.0 902.5,1194.7 890.8,1200.1 878.9,1205.2 866.9,1210.1 880.0,1246.2 892.9,1241.1 905.7,1235.6 918.3,1229.8 930.8,1223.7 943.1,1217.2" fill="#94b922"/>
<polygon points="868.0,1209.6 856.5,1214.0 844.9,1218.0 856.3,1254.7 868.8,1250.4 881.2,1245.8" fill="#95b922"/>
<polygon points="844.9,1218.0 832.1,1222.1 819.3,1225.8 806.3,1229.2 815.3,1269.0 829.3,1265.4 843.2,1261.3 857.0,1256.9" fill="#96b922"/>
<polygon points="807.4,1229.0 794.8,1232.0 782.1,1234.7 769.3,1237.0 756.5,1239.1 743.6,1240.8 747.6,1281.4 761.5,1279.5 775.4,1277.4 789.2,1274.8 802.9,1271.9 816.6,1268.7" fill="#97b921"/>
<polygon points="744.8,1240.6 736.7,1241.6 728.5,1242.4 731.4,1283.1 740.1,1282.2 748.9,1281.2" fill="#98b921"/>
<polygon points="728.5,1242.4 716.4,1243.3 704.2,1244.0 692.0,1244.4 679.8,1244.5 678.7,1285.2 691.9,1285.1 705.1,1284.8 718.2,1284.1 731.4,1283.1" fill="#99b821"/>
<polygon points="681.0,1244.5 667.9,1244.3 654.9,1243.7 641.8,1242.9 628.8,1241.7 615.8,1240.1 609.7,1280.5 623.7,1282.1 637.8,1283.4 651.8,1284.4 665.9,1285.0 680.0,1285.2" fill="#9ab820"/>
<polygon points="617.0,1240.3 613.1,1239.8 609.1,1239.2 602.5,1279.5 606.7,1280.1 611.0,1280.6" fill="#9bb820"/>
<polygon points="609.1,1239.2 597.8,1237.5 586.5,1235.5 575.2,1233.2 563.9,1230.7 552.8,1227.9 541.6,1267.5 553.6,1270.5 565.8,1273.3 577.9,1275.7 590.2,1277.9 602.4,1279.8" fill="#9cb820"/>
<polygon points="553.9,1228.2 541.6,1224.9 529.3,1221.2 517.2,1217.3 505.1,1213.0 493.1,1208.5 477.2,1246.5 490.1,1251.4 503.2,1256.0 516.3,1260.3 529.5,1264.2 542.8,1267.8" fill="#9db720"/>
<polygon points="493.1,1208.5 492.3,1208.2 491.5,1207.9 475.2,1246.5 476.1,1246.8 476.9,1247.2" fill="#9eb720"/>
<polygon points="492.7,1208.3 480.5,1203.3 468.4,1198.0 456.5,1192.4 444.8,1186.5 433.1,1180.3 412.1,1216.6 424.7,1223.3 437.4,1229.7 450.3,1235.8 463.3,1241.6 476.4,1247.0" fill="#9fb720"/>
<polygon points="434.2,1180.9 424.5,1175.4 414.9,1169.7 405.4,1163.9 396.0,1157.8 386.8,1151.5 362.1,1185.4 372.1,1192.2 382.2,1198.8 392.4,1205.2 402.8,1211.3 413.3,1217.2" fill="#a0b61f"/>
<polygon points="386.8,1151.5 382.6,1148.6 378.5,1145.6 351.0,1181.8 355.5,1185.0 360.1,1188.2" fill="#a0b61f"/>
<polygon points="379.4,1146.3 368.8,1138.4 358.4,1130.3 348.2,1121.9 338.2,1113.2 328.4,1104.3 296.7,1136.7 307.3,1146.5 318.2,1155.9 329.2,1165.1 340.6,1174.0 352.1,1182.5" fill="#a1b51f"/>
<polygon points="329.3,1105.1 320.7,1096.9 312.3,1088.5 304.0,1079.9 296.0,1071.1 261.6,1100.7 270.3,1110.3 279.2,1119.6 288.3,1128.7 297.6,1137.6" fill="#a2b41f"/>
<polygon points="296.0,1071.1 289.8,1064.1 283.7,1056.9 250.6,1083.3 257.2,1091.0 263.9,1098.7" fill="#a3b41f"/>
<polygon points="284.5,1057.8 276.1,1047.5 268.0,1037.0 260.1,1026.3 252.5,1015.3 245.2,1004.2 209.1,1026.3 217.0,1038.3 225.2,1050.1 233.7,1061.7 242.4,1073.1 251.5,1084.3" fill="#a4b41f"/>
<polygon points="245.9,1005.2 238.9,994.2 232.3,982.9 225.9,971.5 188.3,990.9 195.2,1003.3 202.3,1015.4 209.8,1027.4" fill="#a5b31f"/>
<polygon points="225.9,971.5 219.5,959.4 213.4,947.0 172.8,965.4 179.3,978.8 186.3,992.0" fill="#a5b31f"/>
<polygon points="214.0,948.1 208.3,936.0 203.0,923.7 198.0,911.3 193.3,898.8 189.0,886.1 146.3,899.3 151.0,913.0 156.1,926.6 161.5,940.1 167.3,953.4 173.3,966.6" fill="#a6b21f"/>
<polygon points="189.4,887.3 184.7,872.7 180.5,857.9 137.2,868.7 141.7,884.7 146.7,900.6" fill="#a7b21e"/>
<polygon points="180.5,857.9 177.4,846.2 174.7,834.4 172.2,822.5 124.8,830.9 127.5,843.8 130.5,856.7 133.8,869.5" fill="#a8b11e"/>
<polygon points="172.4,823.8 170.0,810.6 167.8,797.3 166.0,784.0 164.6,770.6 163.5,757.2 115.4,759.6 116.6,774.2 118.2,788.8 120.1,803.4 122.4,817.8 125.1,832.2" fill="#a9b11e"/>
<polygon points="163.5,758.4 162.8,747.4 162.4,736.3 114.3,736.8 114.8,748.9 115.5,761.0" fill="#a9b01e"/>
<polygon points="162.4,736.3 162.1,725.0 162.2,713.7 162.4,702.4 162.9,691.1 115.7,687.6 115.1,699.9 114.9,712.2 114.8,724.5 115.1,736.8" fill="#aab01e"/>
<polygon points="162.8,692.3 163.7,678.9 164.9,665.4 166.4,652.0 168.3,638.6 170.6,625.3 124.2,615.9 121.7,630.4 119.6,645.0 117.9,659.6 116.6,674.3 115.6,688.9" fill="#aaae1e"/>
<polygon points="170.3,626.5 171.6,619.8 172.9,613.1 126.7,602.7 125.3,610.0 123.9,617.2" fill="#abad1d"/>
<polygon points="172.9,613.1 175.8,599.9 179.0,586.8 182.5,573.7 186.4,560.7 144.4,546.7 140.2,560.7 136.4,574.9 132.9,589.1 129.7,603.4" fill="#abac1d"/>
<polygon points="186.0,561.9 190.2,549.0 194.7,536.2 199.6,523.5 204.7,511.0 210.2,498.5 170.3,479.4 164.4,492.8 158.8,506.4 153.5,520.1 148.6,534.0 144.0,548.0" fill="#acaa1c"/>
<polygon points="209.7,499.6 210.7,497.4 211.7,495.2 172.0,475.8 170.8,478.2 169.7,480.6" fill="#aca91c"/>
<polygon points="211.7,495.2 217.2,483.8 222.9,472.6 228.9,461.4 235.1,450.4 241.6,439.6 204.7,415.8 197.7,427.6 190.9,439.4 184.4,451.5 178.2,463.6 172.3,476.0" fill="#aca81c"/>
<polygon points="241.0,440.7 247.7,430.0 254.6,419.5 261.8,409.1 269.3,398.9 277.0,388.9 243.1,361.1 234.7,371.9 226.7,382.9 218.9,394.1 211.3,405.5 204.0,417.0" fill="#ada61b"/>
<polygon points="277.0,388.9 278.6,386.9 280.2,384.9 244.8,355.3 243.0,357.4 241.3,359.6" fill="#ada51b"/>
<polygon points="279.4,385.9 288.1,375.3 297.0,364.9 306.2,354.8 315.7,344.9 325.4,335.3 294.0,301.5 283.4,311.9 273.1,322.7 263.1,333.6 253.4,344.9 243.9,356.3" fill="#ada31b"/>
<polygon points="324.5,336.1 334.4,326.8 344.5,317.6 354.9,308.8 365.4,300.1 337.5,263.4 326.0,272.8 314.7,282.4 303.7,292.3 293.0,302.4" fill="#aea21a"/>
<polygon points="365.4,300.1 371.0,295.8 376.6,291.6 351.6,256.9 345.5,261.5 339.6,266.2" fill="#aea01a"/>
<polygon points="375.6,292.3 386.6,284.2 397.9,276.3 409.4,268.7 421.0,261.4 432.9,254.4 412.4,217.0 399.6,224.5 387.0,232.3 374.6,240.5 362.4,249.0 350.5,257.7" fill="#ae9f1a"/>
<polygon points="431.8,255.1 441.8,249.5 451.9,244.0 462.1,238.8 472.5,233.9 455.2,194.8 444.0,200.2 432.9,205.8 422.0,211.6 411.2,217.7" fill="#af9d19"/>
<polygon points="472.5,233.9 483.0,229.1 493.5,224.5 478.4,186.3 467.0,191.1 455.8,196.2" fill="#af9c19"/>
<polygon points="492.4,225.0 505.2,219.8 518.1,215.0 531.1,210.4 544.3,206.2 557.6,202.4 547.4,162.5 533.1,166.6 518.9,171.1 504.9,176.0 490.9,181.2 477.2,186.8" fill="#af9b19"/>
<polygon points="556.4,202.7 568.3,199.5 580.4,196.5 592.5,193.9 584.9,153.4 571.9,156.3 558.9,159.4 546.0,162.8" fill="#b09918"/>
<polygon points="592.5,193.9 608.2,190.8 624.1,188.3 619.4,151.6 602.5,154.4 585.7,157.6" fill="#b09818"/>
<polygon points="622.8,188.5 636.6,186.6 650.4,185.0 664.2,183.8 678.1,183.0 692.0,182.5 691.9,145.6 677.1,146.1 662.2,147.0 647.5,148.2 632.7,149.8 618.1,151.8" fill="#b09618"/>
<polygon points="690.7,182.6 704.9,182.4 719.1,182.6 720.8,145.7 705.7,145.5 690.5,145.6" fill="#b19517"/>
<polygon points="719.1,182.6 732.8,183.2 746.5,184.0 760.2,185.3 764.8,148.2 750.1,146.9 735.5,145.9 720.9,145.3" fill="#b19317"/>
<polygon points="758.9,185.2 772.8,186.7 786.6,188.6 800.4,190.9 814.1,193.5 827.7,196.5 836.9,160.3 822.3,157.1 807.6,154.3 792.9,151.9 778.2,149.8 763.4,148.1" fill="#b19117"/>
<polygon points="826.5,196.2 836.0,198.5 845.4,200.9 855.8,165.1 845.7,162.5 835.5,160.0" fill="#b29016"/>
<polygon points="845.4,200.9 857.6,204.3 869.6,208.0 881.6,211.9 893.5,216.1 907.5,180.3 894.8,175.7 882.0,171.5 869.1,167.6 856.1,164.0" fill="#b28f16"/>
<polygon points="892.3,215.7 905.4,220.6 918.4,225.9 931.2,231.6 943.9,237.5 956.5,243.8 974.8,210.0 961.4,203.2 947.8,196.8 934.1,190.8 920.2,185.1 906.2,179.8" fill="#b28c16"/>
<polygon points="955.4,243.2 960.0,245.6 964.7,248.1 983.6,214.6 978.6,211.9 973.6,209.3" fill="#b38b15"/>
<polygon points="964.7,248.1 975.2,253.9 985.5,259.9 995.7,266.1 1005.8,272.5 1015.7,279.2 1038.1,247.9 1027.5,240.7 1016.7,233.9 1005.8,227.2 994.8,220.8 983.6,214.6" fill="#b38a15"/>
<polygon points="1014.6,278.4 1026.2,286.5 1037.5,294.9 1048.6,303.6 1059.5,312.5 1070.2,321.7 1096.3,293.5 1084.9,283.6 1073.2,274.0 1061.4,264.7 1049.3,255.8 1036.9,247.1" fill="#b48714"/>
<polygon points="1069.2,320.9 1069.8,321.4 1070.4,321.9 1096.4,293.6 1095.8,293.1 1095.2,292.5" fill="#b48614"/>
<polygon points="1070.4,321.9 1080.6,331.2 1090.6,340.7 1100.3,350.5 1109.8,360.6 1119.1,370.9 1148.5,346.0 1138.6,335.0 1128.4,324.3 1118.0,313.8 1107.4,303.6 1096.4,293.6" fill="#b48514"/>
<polygon points="1118.2,369.9 1126.3,379.3 1134.2,388.8 1141.8,398.5 1149.3,408.4 1156.5,418.5 1188.4,397.0 1180.7,386.2 1172.8,375.6 1164.6,365.2 1156.2,355.0 1147.6,345.0" fill="#b58313"/>
<polygon points="1156.5,418.5 1159.1,422.1 1161.6,425.8 1192.9,405.5 1190.2,401.5 1187.5,397.6" fill="#b58113"/>
<polygon points="1160.8,424.7 1168.7,436.6 1176.2,448.6 1183.5,460.8 1190.4,473.2 1197.0,485.8 1230.6,469.5 1223.5,456.0 1216.2,442.8 1208.5,429.8 1200.4,416.9 1192.1,404.3" fill="#b58013"/>
<polygon points="1196.4,484.6 1202.3,496.5 1208.0,508.5 1213.3,520.6 1218.3,532.9 1253.3,519.7 1247.9,506.6 1242.2,493.7 1236.2,480.9 1230.0,468.2" fill="#b67e12"/>
<polygon points="1218.3,532.9 1221.6,541.3 1224.8,549.8 1264.9,536.2 1261.5,527.0 1258.0,518.0" fill="#b67c12"/>
<polygon points="1224.3,548.6 1229.1,562.0 1233.4,575.6 1237.4,589.3 1241.1,603.1 1244.4,617.0 1285.9,608.5 1282.3,593.5 1278.4,578.7 1274.1,564.0 1269.4,549.4 1264.4,534.9" fill="#b67b12"/>
<polygon points="1244.2,615.7 1247.2,630.1 1249.9,644.5 1252.3,659.0 1294.3,653.6 1291.8,638.0 1288.9,622.5 1285.6,607.1" fill="#b67912"/>
<polygon points="1252.3,659.0 1254.1,672.6 1255.6,686.2 1302.8,682.5 1301.2,667.7 1299.2,653.0" fill="#b67812"/>
<polygon points="1255.5,684.9 1256.7,699.2 1257.6,713.5 1258.2,727.8 1258.3,742.2 1258.1,756.5 1305.4,758.7 1305.6,743.1 1305.5,727.6 1304.9,712.1 1304.0,696.6 1302.7,681.1" fill="#b67612"/>
<polygon points="1258.2,755.2 1257.7,766.8 1257.1,778.5 1256.2,790.1 1303.3,795.1 1304.3,782.5 1305.0,769.9 1305.4,757.3" fill="#b77411"/>
<polygon points="1256.2,790.1 1255.0,802.3 1253.6,814.5 1251.8,826.7 1299.6,834.9 1301.5,821.7 1303.1,808.5 1304.4,795.2" fill="#b77311"/>
<polygon points="1252.0,825.4 1249.7,839.6 1247.0,853.8 1244.0,867.8 1240.6,881.8 1236.9,895.8 1283.2,909.9 1287.3,894.8 1291.0,879.6 1294.4,864.3 1297.3,848.9 1299.8,833.5" fill="#b77111"/>
<polygon points="1237.2,894.5 1233.6,906.9 1229.7,919.2 1275.4,935.3 1279.7,921.9 1283.6,908.5" fill="#b76f11"/>
<polygon points="1229.7,919.2 1224.6,933.8 1219.2,948.3 1213.4,962.6 1260.1,983.4 1266.5,967.8 1272.4,952.1 1277.9,936.2" fill="#b76e11"/>
<polygon points="1213.9,961.4 1208.1,974.6 1202.0,987.7 1195.5,1000.7 1188.8,1013.5 1181.7,1026.1 1225.4,1052.6 1233.2,1038.8 1240.6,1024.9 1247.7,1010.8 1254.3,996.5 1260.7,982.1" fill="#b76c11"/>
<polygon points="1182.3,1024.9 1178.1,1032.1 1173.8,1039.2 1216.9,1066.9 1221.6,1059.1 1226.2,1051.3" fill="#b76a11"/>
<polygon points="1173.8,1039.2 1166.4,1051.0 1158.6,1062.6 1150.6,1074.1 1142.2,1085.3 1180.3,1115.4 1189.3,1103.2 1198.1,1090.8 1206.5,1078.2 1214.6,1065.4" fill="#b76911"/>
<polygon points="1143.0,1084.3 1134.1,1095.7 1124.9,1107.0 1115.4,1118.0 1105.7,1128.8 1095.6,1139.3 1129.6,1173.9 1140.5,1162.5 1151.2,1150.8 1161.5,1138.8 1171.5,1126.7 1181.1,1114.2" fill="#b86710"/>
<polygon points="1096.6,1138.4 1094.0,1141.0 1091.4,1143.6 1125.1,1178.5 1127.9,1175.7 1130.6,1172.8" fill="#b86610"/>
<polygon points="1091.4,1143.6 1082.1,1152.7 1072.5,1161.7 1062.7,1170.4 1052.7,1178.9 1042.5,1187.2 1072.0,1225.7 1083.0,1216.8 1093.9,1207.5 1104.5,1198.1 1114.9,1188.4 1125.1,1178.5" fill="#b86410"/>
<polygon points="1043.6,1186.4 1032.6,1194.9 1021.4,1203.2 1010.1,1211.3 998.5,1219.0 986.7,1226.5 1011.4,1268.2 1024.2,1260.1 1036.7,1251.7 1049.1,1243.0 1061.2,1234.1 1073.1,1224.8" fill="#b86210"/>
<polygon points="986.7,1226.5 985.3,1227.4 983.8,1228.3 1008.6,1270.8 1010.2,1269.8 1011.8,1268.8" fill="#b86110"/>
<polygon points="984.9,1227.6 972.4,1235.0 959.6,1242.2 946.7,1249.1 933.5,1255.6 920.2,1261.8 939.6,1307.0 954.0,1300.3 968.3,1293.3 982.3,1285.9 996.2,1278.1 1009.9,1270.0" fill="#b85f10"/>
<polygon points="921.5,1261.2 907.6,1267.2 893.6,1272.9 879.5,1278.3 865.2,1283.2 879.8,1330.2 895.3,1324.9 910.7,1319.1 925.9,1313.0 940.9,1306.4" fill="#b85c10"/>
<polygon points="865.2,1283.2 859.0,1285.2 852.9,1287.1 866.8,1335.6 873.5,1333.5 880.2,1331.3" fill="#b95b0f"/>
<polygon points="854.2,1286.7 840.1,1290.9 825.9,1294.7 811.6,1298.2 797.2,1301.3 782.7,1304.0 790.5,1353.8 806.2,1350.9 821.8,1347.5 837.4,1343.8 852.8,1339.7 868.2,1335.2" fill="#b9590f"/>
<polygon points="784.0,1303.8 771.4,1305.9 758.7,1307.7 746.0,1309.2 733.3,1310.5 736.7,1360.8 750.6,1359.4 764.4,1357.8 778.2,1355.8 791.9,1353.6" fill="#b9560f"/>
<polygon points="733.3,1310.5 722.0,1311.4 710.8,1312.0 712.3,1360.1 724.4,1359.4 736.6,1358.5" fill="#b9550f"/>
<polygon points="712.2,1312.0 697.4,1312.5 682.6,1312.7 667.8,1312.6 653.1,1312.0 638.3,1311.1 633.8,1359.0 649.8,1360.0 665.8,1360.6 681.8,1360.8 697.8,1360.6 713.7,1360.0" fill="#ba520e"/>
<polygon points="639.7,1311.2 625.7,1310.0 611.9,1308.5 598.0,1306.6 590.2,1354.1 605.2,1356.1 620.2,1357.8 635.2,1359.1" fill="#ba500e"/>
<polygon points="598.0,1306.6 582.1,1304.1 566.3,1301.1 557.1,1342.8 574.0,1346.0 591.0,1348.8" fill="#ba4e0e"/>
<polygon points="567.7,1301.4 553.1,1298.3 538.7,1294.8 524.4,1291.0 510.1,1286.8 496.0,1282.2 481.6,1322.4 496.8,1327.3 512.1,1331.9 527.4,1336.0 542.9,1339.7 558.5,1343.1" fill="#ba4c0e"/>
<polygon points="497.3,1282.6 481.9,1277.3 466.7,1271.5 450.2,1310.9 466.5,1317.1 483.0,1322.9" fill="#ba4a0e"/>
<polygon points="466.7,1271.5 453.8,1266.2 441.0,1260.6 428.4,1254.6 408.6,1293.8 422.2,1300.2 435.9,1306.2 449.8,1311.9" fill="#bb480d"/>
<polygon points="429.6,1255.2 416.2,1248.6 403.0,1241.7 390.0,1234.4 377.2,1226.8 364.5,1218.8 340.1,1255.2 353.6,1263.8 367.4,1272.0 381.4,1279.8 395.6,1287.3 409.9,1294.4" fill="#bb460d"/>
<polygon points="365.7,1219.6 356.1,1213.2 346.6,1206.7 320.8,1242.2 331.0,1249.2 341.3,1256.0" fill="#bb440d"/>
<polygon points="346.6,1206.7 336.1,1199.2 325.7,1191.4 315.5,1183.4 305.5,1175.2 278.2,1206.6 288.9,1215.4 299.8,1223.9 310.9,1232.2 322.1,1240.3" fill="#bb420d"/>
<polygon points="306.6,1176.1 295.2,1166.4 284.1,1156.3 273.2,1146.0 262.6,1135.4 252.3,1124.5 221.3,1152.2 232.4,1163.9 243.7,1175.2 255.3,1186.3 267.2,1197.1 279.4,1207.5" fill="#bc3f0c"/>
<polygon points="253.2,1125.6 248.7,1120.6 244.2,1115.6 212.6,1142.7 217.5,1148.0 222.3,1153.3" fill="#bc3d0c"/>
<polygon points="244.2,1115.6 234.1,1104.0 224.3,1092.1 214.8,1079.9 205.6,1067.5 169.3,1092.7 179.1,1106.0 189.3,1119.1 199.8,1131.9 210.6,1144.4" fill="#bc3c0c"/>
<polygon points="206.5,1068.6 197.8,1056.3 189.5,1043.8 181.4,1031.1 173.7,1018.1 166.4,1005.0 127.1,1025.4 135.0,1039.5 143.3,1053.5 151.9,1067.2 160.8,1080.6 170.1,1093.9" fill="#bc380b"/>
<polygon points="167.0,1006.2 166.1,1004.5 165.2,1002.9 125.9,1023.1 126.9,1024.9 127.8,1026.7" fill="#bd350b"/>
<polygon points="165.2,1002.9 158.6,990.2 152.2,977.3 146.2,964.3 140.5,951.2 135.1,937.9 95.4,952.6 101.2,966.9 107.3,981.0 113.7,994.9 120.5,1008.7 127.6,1022.3" fill="#bd330b"/>
<polygon points="135.6,939.2 130.7,926.4 126.1,913.6 121.9,900.6 117.9,887.5 114.2,874.4 73.1,884.6 77.0,898.7 81.3,912.7 85.9,926.6 90.8,940.3 96.0,954.0" fill="#bd2f0a"/>
<polygon points="114.2,874.4 113.2,870.8 112.3,867.3 73.8,876.3 74.7,880.1 75.7,883.9" fill="#bd2d0a"/>
<polygon points="112.7,868.6 109.1,853.9 105.9,839.1 103.0,824.2 100.6,809.2 98.5,794.2 59.1,798.4 61.3,814.4 63.9,830.4 66.9,846.3 70.3,862.1 74.1,877.8" fill="#bd2b09"/>
<polygon points="98.7,795.6 97.0,781.0 95.7,766.4 94.7,751.7 94.1,737.0 54.5,737.4 55.1,753.1 56.1,768.7 57.5,784.3 59.3,799.9" fill="#be2709"/>
<polygon points="94.1,737.0 93.9,728.4 93.8,719.8 54.6,719.1 54.7,728.3 54.8,737.4" fill="#be2508"/>
<polygon points="93.8,721.2 94.0,706.0 94.5,690.8 95.5,675.6 96.8,660.4 98.5,645.3 59.6,639.7 57.8,655.8 56.4,672.0 55.4,688.2 54.8,704.4 54.6,720.6" fill="#be2308"/>
<polygon points="98.3,646.6 99.9,634.5 101.8,622.3 103.9,610.2 106.3,598.1 68.0,589.5 65.4,602.3 63.2,615.2 61.2,628.2 59.4,641.2" fill="#be2208"/>
<polygon points="106.3,598.1 109.2,584.9 112.3,571.7 74.1,561.2 70.7,575.3 67.6,589.4" fill="#be2108"/>
<polygon points="112.0,573.1 115.9,558.3 120.2,543.6 124.9,529.0 129.9,514.6 135.3,500.3 98.7,485.1 92.9,500.4 87.5,515.8 82.5,531.3 78.0,547.0 73.8,562.7" fill="#be2008"/>
<polygon points="134.8,501.6 139.7,489.4 144.9,477.2 150.3,465.2 114.7,447.8 108.9,460.6 103.4,473.5 98.1,486.5" fill="#be1e08"/>
<polygon points="150.3,465.2 155.7,454.1 161.3,443.0 167.1,432.1 133.9,413.3 127.8,424.9 121.8,436.7 116.1,448.5" fill="#be1d08"/>
<polygon points="166.4,433.3 173.9,419.9 181.7,406.7 189.8,393.7 198.3,380.8 207.1,368.2 176.6,345.5 167.2,358.9 158.2,372.5 149.5,386.3 141.2,400.4 133.2,414.6" fill="#be1c08"/>
<polygon points="206.3,369.4 215.1,357.4 224.2,345.6 194.8,321.4 185.1,334.0 175.7,346.7" fill="#be1b08"/>
<polygon points="224.2,345.6 234.1,333.4 244.4,321.4 254.9,309.7 228.5,284.4 217.3,296.8 206.5,309.5 195.9,322.4" fill="#be1a08"/>
<polygon points="253.9,310.8 264.5,299.6 275.4,288.6 286.6,278.0 298.0,267.6 309.7,257.5 286.7,229.1 274.3,239.8 262.2,250.8 250.3,262.1 238.8,273.7 227.5,285.5" fill="#be1908"/>
<polygon points="308.6,258.4 316.3,252.1 324.1,245.8 301.9,216.7 293.7,223.3 285.5,230.1" fill="#be1708"/>
<polygon points="324.1,245.8 335.4,237.1 347.0,228.6 358.8,220.3 370.7,212.4 351.2,181.0 338.5,189.5 326.0,198.2 313.7,207.2 301.7,216.4" fill="#be1708"/>
<polygon points="369.5,213.2 382.6,204.9 395.9,196.9 409.4,189.3 423.1,182.1 437.0,175.1 421.5,141.6 406.8,148.9 392.3,156.6 377.9,164.7 363.8,173.1 349.9,181.9" fill="#be1508"/>
<polygon points="435.7,175.7 440.2,173.6 444.8,171.4 429.8,137.7 425.0,140.0 420.2,142.2" fill="#be1408"/>
<polygon points="444.8,171.4 457.1,165.9 469.5,160.6 482.1,155.5 494.8,150.8 507.6,146.3 495.9,109.7 482.3,114.4 468.8,119.4 455.5,124.8 442.2,130.4 429.1,136.3" fill="#be1308"/>
<polygon points="506.2,146.8 520.7,142.0 535.4,137.7 550.1,133.7 565.0,130.0 579.9,126.7 572.8,88.9 556.9,92.4 541.2,96.2 525.5,100.5 509.9,105.1 494.5,110.1" fill="#be1108"/>
<polyline points="517.0,499.1 522.3,494.9 527.6,490.8 533.1,486.8 538.7,482.9 544.4,479.2 550.1,475.5 556.0,472.1 561.9,468.7 568.0,465.5 574.0,462.4 580.2,459.5 586.5,456.7 592.8,454.1 599.2,451.6 605.6,449.2 612.1,447.0 618.7,445.0 625.3,443.1 631.9,441.3 638.6,439.7 645.4,438.3 652.1,437.0 658.9,435.9 665.8,434.9 672.7,434.1 679.5,433.4 686.5,432.9 693.4,432.6 700.3,432.4 707.3,432.4 714.2,432.6 721.2,432.9 728.1,433.4 735.0,434.0 742.0,434.8 748.9,435.8 755.8,436.9 762.7,438.2 769.5,439.7 776.3,441.3 783.1,443.1 789.8,445.0 796.6,447.1 803.2,449.3 809.8,451.7 816.4,454.3 822.9,457.0 829.3,459.9 835.7,462.9 842.0,466.1 848.3,469.4 854.4,472.9 860.5,476.5 866.5,480.2 872.4,484.1 878.3,488.2 884.0,492.3 889.7,496.6 895.2,501.1 900.7,505.7 906.0,510.4 911.3,515.2 916.4,520.2 921.4,525.3 926.4,530.5 931.1,535.8 935.8,541.2 940.3,546.8 944.8,552.4 949.1,558.2 953.2,564.0 957.2,570.0 961.1,576.1 964.8,582.2 968.4,588.5 971.9,594.8 975.2,601.2 978.4,607.7 981.4,614.3 984.3,621.0 987.0,627.7 989.5,634.5 991.9,641.3 994.2,648.2 996.2,655.2 998.2,662.2 999.9,669.3 1001.5,676.4 1002.9,683.5 1004.2,690.7 1005.3,697.9 1006.2,705.2 1007.0,712.5 1007.5,719.8 1008.0,727.1 1008.2,734.4 1008.3,741.7 1008.2,749.1 1007.9,756.4 1007.5,763.8 1006.9,771.1 1006.1,778.5 1005.2,785.8 1004.0,793.1 1002.7,800.3 1001.3,807.6 999.6,814.8 997.8,822.0 995.9,829.1 993.7,836.2 991.4,843.3 989.0,850.3 986.3,857.2 983.5,864.1 980.6,871.0 977.4,877.7 974.2,884.4 970.7,891.0 967.1,897.6 963.4,904.1 959.5,910.4 955.4,916.7 951.2,922.9 946.9,929.0 942.4,935.1 937.7,941.0 933.0,946.8 928.1,952.5 923.0,958.0 917.8,963.5 912.5,968.9 907.1,974.1 901.5,979.2 895.8,984.2 890.0,989.0 884.1,993.7 878.1,998.3 871.9,1002.8 865.7,1007.1 859.3,1011.2 852.9,1015.2 846.3,1019.1 839.7,1022.8 832.9,1026.4 826.1,1029.8 819.2,1033.0 812.2,1036.1 805.2,1039.0 798.0,1041.8 790.9,1044.4 783.6,1046.8 776.3,1049.1 768.9,1051.2 761.5,1053.1 754.0,1054.9 746.5,1056.4 738.9,1057.8 731.3,1059.1 723.7,1060.1 716.0,1061.0 708.3,1061.7 700.6,1062.2 692.9,1062.5 685.2,1062.7 677.4,1062.7 669.7,1062.5 661.9,1062.1 654.2,1061.5 646.5,1060.8 638.8,1059.8 631.1,1058.7 623.4,1057.5 615.7,1056.0 608.1,1054.3 600.5,1052.5 593.0,1050.5 585.5,1048.3 578.0,1046.0 570.6,1043.5 563.3,1040.8 556.0,1037.9 548.8,1034.8 541.6,1031.6 534.5,1028.2 527.5,1024.7 520.6,1021.0 513.8,1017.1 507.0,1013.1 500.3,1008.9 493.8,1004.5 487.3,1000.0 480.9,995.3 474.6,990.5 468.5,985.5 462.4,980.4 456.5,975.2 450.7,969.8 445.0,964.2 439.5,958.6 434.0,952.8 428.7,946.8 423.6,940.8 418.5,934.6 413.7,928.3 408.9,921.9 404.3,915.4 399.9,908.7 395.6,902.0 391.5,895.1 387.5,888.2 383.7,881.1 380.0,874.0 376.6,866.8 373.2,859.5 370.1,852.1 367.1,844.6 364.3,837.1 361.7,829.5 359.2,821.8 356.9,814.1 354.8,806.3 352.9,798.4 351.2,790.5 349.6,782.6 348.2,774.6 347.1,766.6 346.1,758.6 345.2,750.5 344.6,742.4 344.2,734.3 343.9,726.2 343.9,718.0 344.0,709.9 344.3,701.8 344.8,693.6 345.6,685.5 346.4,677.4 347.5,669.3 348.8,661.2 350.3,653.2 351.9,645.1 353.7,637.2 355.8,629.2 358.0,621.3 360.4,613.4 362.9,605.6 365.7,597.9 368.6,590.2 371.8,582.6 375.1,575.1 378.5,567.6 382.2,560.2 386.0,552.9 390.0,545.6 394.2,538.5 398.5,531.4 403.0,524.5 407.7,517.7 412.5,510.9 417.5,504.3 422.7,497.8 428.0,491.4 433.4,485.1 439.0,478.9 444.8,472.9 450.7,467.0 456.7,461.2 462.9,455.6 469.2,450.1 475.6,444.8 482.2,439.6 488.8,434.6 495.6,429.7 502.6,425.0 509.6,420.4 516.7,416.0 524.0,411.7 531.3,407.7 538.8,403.8 546.3,400.0 553.9,396.5 561.7,393.1 569.5,389.9 577.3,386.8 585.3,384.0 593.3,381.3 601.4,378.9 609.6,376.6 617.8,374.5 626.0,372.6 634.3,370.9 642.7,369.3 651.1,368.0 659.5,366.9 667.9,365.9 676.4,365.2 684.9,364.7 693.4,364.3 702.0,364.2 710.5,364.2 719.0,364.5 727.6,364.9 736.1,365.6 744.6,366.4 753.1,367.5 761.6,368.7 770.0,370.1 778.5,371.8 786.8,373.6 795.2,375.7 803.5,377.9 811.8,380.3 820.0,382.9 828.1,385.7 836.2,388.7 844.2,391.9 852.2,395.3 860.0,398.9 867.8,402.6 875.5,406.6 883.1,410.7 890.7,415.0 898.1,419.4 905.4,424.1 912.6,428.9 919.7,433.9 926.7,439.0 933.6,444.4 940.4,449.8 947.0,455.5 953.5,461.3 959.9,467.2 966.1,473.3 972.2,479.6 978.2,486.0 984.0,492.5 989.7,499.2 995.2,506.0 1000.5,513.0 1005.7,520.0 1010.7,527.2 1015.6,534.5 1020.3,542.0 1024.8,549.5 1029.1,557.2 1033.3,564.9 1037.3,572.8 1041.1,580.7 1044.7,588.8 1048.2,596.9 1051.4,605.1 1054.5,613.4 1057.4,621.8 1060.0,630.2 1062.5,638.7 1064.8,647.3 1066.9,655.9 1068.8,664.6 1070.5,673.3 1071.9,682.1 1073.2,690.9 1074.3,699.7 1075.1,708.5 1075.8,717.4 1076.3,726.3 1076.5,735.3 1076.5,744.2 1076.4,753.1 1076.0,762.1 1075.4,771.0 1074.6,779.9 1073.6,788.8 1072.4,797.7 1071.0,806.5 1069.4,815.4 1067.5,824.2 1065.5,832.9 1063.3,841.6 1060.8,850.3 1058.2,858.9 1055.3,867.4 1052.3,875.9 1049.0,884.3 1045.6,892.7 1041.9,900.9 1038.1,909.1 1034.1,917.2 1029.8,925.2 1025.4,933.2 1020.8,941.0 1016.1,948.7 1011.1,956.3 1006.0,963.8 1000.7,971.1 995.2,978.4 989.5,985.5 983.7,992.5 977.7,999.4 971.5,1006.1 965.2,1012.7 958.8,1019.1 952.1,1025.4 945.4,1031.6 938.5,1037.5 931.4,1043.4 924.2,1049.0 916.9,1054.5 909.4,1059.9 901.8,1065.0 894.1,1070.0 886.3,1074.8 878.3,1079.4 870.3,1083.9 862.1,1088.1 853.8,1092.2 845.5,1096.1 837.0,1099.7 828.5,1103.2 819.9,1106.5 811.1,1109.6 802.4,1112.5 793.5,1115.2 784.6,1117.7 775.6,1119.9 766.6,1122.0 757.5,1123.8 748.3,1125.5 739.2,1126.9 730.0,1128.1 720.7,1129.1 711.4,1129.9 702.1,1130.5 692.8,1130.8 683.5,1131.0 674.2,1130.9 664.9,1130.6 655.5,1130.1 646.2,1129.3 636.9,1128.4 627.6,1127.2 618.4,1125.8 609.1,1124.2 599.9,1122.4 590.8,1120.4 581.7,1118.2 572.6,1115.7 563.6,1113.0 554.6,1110.2 545.7,1107.1 536.9,1103.8 528.2,1100.3 519.5,1096.5 510.9,1092.6 502.4,1088.5 494.0,1084.2 485.7,1079.7 477.5,1075.0 469.4,1070.1 461.4,1065.0 453.6,1059.7 445.8,1054.3 438.2,1048.6 430.7,1042.8 423.3,1036.8 416.1,1030.6 409.0,1024.3 402.1,1017.7 395.3,1011.1 388.7,1004.2 382.2,997.2 375.9,990.1 369.7,982.8 363.7,975.4 357.9,967.8 352.3,960.0 346.8,952.2 341.5,944.2 336.4,936.1 331.5,927.8 326.8,919.5 322.3,911.0 317.9,902.5 313.8,893.8 309.9,885.0 306.2,876.1 302.6,867.2 299.3,858.1 296.2,849.0 293.3,839.8 290.6,830.5 288.2,821.2 285.9,811.8 283.9,802.3 282.1,792.8 280.5,783.3 279.1,773.7 278.0,764.1 277.1,754.4 276.4,744.7 275.9,735.0 275.6,725.3 275.6,715.6 275.8,705.9 276.3,696.1 276.9,686.4 277.8,676.7 278.9,667.0 280.3,657.4 281.8,647.7 283.6,638.1 285.6,628.6 287.9,619.0 290.3,609.6 293.0,600.1 295.9,590.8 299.0,581.5 302.4,572.3 305.9,563.1 309.7,554.0 313.7,545.1 317.9,536.2 322.3,527.4 326.9,518.7 331.7,510.1 336.7,501.6 341.9,493.2 347.3,485.0 353.0,476.8 358.7,468.8 364.7,460.9 370.9,453.2 377.3,445.6 383.8,438.2 390.5,430.9 397.4,423.7 404.4,416.7 411.6,409.9 419.0,403.3 426.5,396.8 434.2,390.5 442.0,384.3 450.0,378.4 458.1,372.6 466.4,367.0 474.8,361.6 483.3,356.4 492.0,351.4 500.7,346.6 509.6,342.0 518.6,337.6 527.7,333.4 536.9,329.4 546.2,325.7 555.5,322.1 565.0,318.8 574.5,315.7 584.2,312.8 593.9,310.1 603.6,307.7 613.4,305.4 623.3,303.5 633.2,301.7 643.2,300.2 653.2,298.9 663.2,297.8 673.3,297.0 683.4,296.4 693.5,296.0 703.6,295.9 713.7,296.0 723.8,296.3 734.0,296.9 744.1,297.7 754.2,298.8 764.2,300.1 774.3,301.6 784.3,303.4 794.3,305.3 804.2,307.6 814.1,310.0 823.9,312.7 833.7,315.6 843.4,318.8 853.0,322.1 862.6,325.7 872.0,329.6 881.4,333.6 890.7,337.9 899.9,342.3 909.0,347.0 918.0,351.9 926.9,357.1 935.7,362.4 944.3,367.9 952.8,373.7 961.2,379.6 969.5,385.7 977.6,392.1 985.5,398.6 993.4,405.3 1001.0,412.2 1008.5,419.3 1015.9,426.5 1023.0,433.9 1030.0,441.5 1036.9,449.3 1043.5,457.2 1050.0,465.3 1056.3,473.5 1062.4,481.9 1068.3,490.4 1074.0,499.1 1079.5,507.9 1084.8,516.8 1089.8,525.8 1094.7,535.0 1099.4,544.3 1103.9,553.7 1108.1,563.2 1112.1,572.8 1115.9,582.5 1119.5,592.3 1122.8,602.2 1125.9,612.2 1128.8,622.2 1131.5,632.3 1133.9,642.5 1136.0,652.8 1138.0,663.0 1139.7,673.4 1141.1,683.8 1142.4,694.2 1143.3,704.6 1144.1,715.1 1144.6,725.6 1144.8,736.1 1144.8,746.6 1144.6,757.1 1144.1,767.7 1143.3,778.2 1142.4,788.7 1141.1,799.1 1139.7,809.6 1137.9,820.0 1136.0,830.4 1133.8,840.7 1131.3,851.0 1128.7,861.3 1125.7,871.4 1122.6,881.5 1119.2,891.6 1115.6,901.5 1111.7,911.4 1107.6,921.2 1103.3,930.9 1098.7,940.5 1094.0,950.0 1089.0,959.4 1083.7,968.7 1078.3,977.9 1072.7,986.9 1066.8,995.8 1060.7,1004.6 1054.4,1013.2 1048.0,1021.7 1041.3,1030.1 1034.4,1038.2 1027.3,1046.3 1020.1,1054.1 1012.6,1061.9 1005.0,1069.4 997.2,1076.7 989.2,1083.9 981.1,1090.9 972.8,1097.7 964.3,1104.3 955.7,1110.7 946.9,1117.0 938.0,1123.0 928.9,1128.8 919.7,1134.4 910.3,1139.8 900.9,1144.9 891.3,1149.9 881.6,1154.6 871.8,1159.1 861.8,1163.4 851.8,1167.4 841.7,1171.2 831.4,1174.8 821.1,1178.2 810.8,1181.3 800.3,1184.1 789.8,1186.7 779.2,1189.1 768.5,1191.2 757.8,1193.1 747.0,1194.8 736.3,1196.1 725.4,1197.3 714.6,1198.1 703.7,1198.8 692.8,1199.1 681.9,1199.3 671.0,1199.1 660.0,1198.7 649.1,1198.1 638.2,1197.2 627.4,1196.0 616.5,1194.6 605.7,1193.0 594.9,1191.0 584.1,1188.9 573.4,1186.5 562.8,1183.8 552.2,1180.9 541.7,1177.7 531.2,1174.3 520.8,1170.7 510.6,1166.8 500.4,1162.6 490.2,1158.3 480.2,1153.6 470.3,1148.8 460.5,1143.7 450.8,1138.4 441.3,1132.9 431.8,1127.1 422.5,1121.1 413.4,1114.9 404.4,1108.5 395.5,1101.9 386.8,1095.1 378.2,1088.0 369.8,1080.8 361.5,1073.4 353.5,1065.7 345.6,1057.9 337.9,1049.9 330.3,1041.7 323.0,1033.3 315.9,1024.8 308.9,1016.1 302.2,1007.2 295.6,998.2 289.3,989.0 283.2,979.7 277.3,970.2 271.6,960.6 266.1,950.8 260.9,940.9 255.9,930.9 251.1,920.8 246.5,910.5 242.2,900.2 238.2,889.7 234.3,879.2 230.8,868.5 227.4,857.8 224.4,847.0 221.5,836.1 218.9,825.2 216.6,814.1 214.6,803.1 212.7,791.9 211.2,780.8 209.9,769.6 208.9,758.3 208.1,747.1 207.6,735.8 207.4,724.5 207.4,713.2 207.7,701.8 208.2,690.5 209.0,679.2 210.1,668.0 211.4,656.7 213.0,645.5 214.9,634.3 217.0,623.1 219.4,612.0 222.0,600.9 224.9,589.9 228.1,579.0 231.5,568.1 235.2,557.3 239.1,546.6 243.2,536.0 247.7,525.5 252.3,515.1 257.2,504.8 262.4,494.6 267.8,484.5 273.4,474.5 279.3,464.7 285.3,455.0 291.7,445.4 298.2,436.0 305.0,426.7 311.9,417.6 319.1,408.7 326.5,399.9 334.1,391.3 342.0,382.8 350.0,374.6 358.2,366.5 366.6,358.6 375.1,350.9 383.9,343.4 392.8,336.1 401.9,329.0 411.2,322.2 420.7,315.5 430.3,309.1 440.0,302.8 449.9,296.8 459.9,291.1 470.1,285.5 480.4,280.2 490.9,275.2 501.4,270.4 512.1,265.8 522.8,261.5 533.7,257.4 544.7,253.6 555.8,250.0 566.9,246.7 578.2,243.6 589.5,240.8 600.8,238.3 612.3,236.1 623.8,234.1 635.3,232.3 646.9,230.9 658.5,229.7 670.2,228.7 681.8,228.1 693.5,227.7 705.2,227.6 717.0,227.8 728.7,228.2 740.4,228.9 752.1,229.9 763.7,231.2 775.4,232.7 787.0,234.5 798.5,236.6 810.1,238.9 821.5,241.5 833.0,244.4 844.3,247.5 855.6,250.9 866.8,254.6 877.9,258.5 888.9,262.7 899.9,267.2 910.7,271.9 921.4,276.9 932.0,282.1 942.5,287.5 952.9,293.2 963.1,299.2 973.2,305.4 983.2,311.8 993.0,318.4 1002.7,325.3 1012.2,332.4 1021.5,339.8 1030.7,347.3 1039.7,355.1 1048.5,363.1 1057.1,371.3 1065.6,379.7 1073.8,388.3 1081.9,397.1 1089.7,406.0 1097.4,415.2 1104.8,424.5 1112.0,434.0 1119.0,443.7 1125.8,453.6 1132.3,463.6 1138.6,473.8 1144.7,484.1 1150.5,494.5 1156.1,505.1 1161.5,515.9 1166.6,526.7 1171.4,537.7 1176.0,548.8 1180.4,560.0 1184.4,571.3 1188.3,582.7 1191.8,594.2 1195.1,605.8 1198.1,617.4 1200.8,629.2 1203.3,641.0 1205.5,652.8 1207.4,664.7 1209.1,676.7 1210.4,688.7 1211.5,700.7 1212.3,712.8 1212.9,724.9 1213.1,737.0 1213.1,749.1 1212.7,761.2 1212.1,773.3 1211.3,785.4 1210.1,797.4 1208.6,809.5 1206.9,821.5 1204.9,833.5 1202.6,845.4 1200.0,857.3 1197.2,869.1 1194.1,880.9 1190.7,892.6 1187.0,904.2 1183.1,915.7 1178.9,927.2 1174.4,938.5 1169.7,949.8 1164.7,960.9 1159.4,971.9 1153.9,982.9 1148.1,993.6 1142.1,1004.3 1135.8,1014.8 1129.3,1025.1 1122.5,1035.4 1115.5,1045.4 1108.2,1055.3 1100.8,1065.0 1093.1,1074.6 1085.1,1084.0 1077.0,1093.2 1068.6,1102.2 1060.0,1111.0 1051.3,1119.6 1042.3,1128.1 1033.1,1136.3 1023.7,1144.3 1014.2,1152.0 1004.4,1159.6 994.5,1166.9 984.4,1174.0 974.1,1180.9 963.7,1187.6 953.1,1193.9 942.4,1200.1 931.5,1206.0 920.5,1211.6 909.3,1217.0 898.0,1222.2 886.6,1227.0 875.1,1231.6 863.5,1236.0 851.7,1240.0 839.9,1243.8 828.0,1247.4 816.0,1250.6 803.9,1253.6 791.8,1256.2 779.5,1258.6 767.3,1260.8 754.9,1262.6 742.6,1264.1 730.1,1265.4 717.7,1266.4 705.2,1267.0 692.7,1267.4 680.2,1267.5 667.7,1267.3 655.2,1266.9 642.7,1266.1 630.3,1265.0 617.8,1263.7 605.4,1262.0 593.0,1260.1 580.6,1257.8 568.3,1255.3 556.1,1252.5 543.9,1249.4 531.8,1246.1 519.8,1242.4 507.8,1238.5 496.0,1234.3 484.2,1229.8 472.5,1225.0 461.0,1220.0 449.5,1214.7 438.2,1209.1 427.0,1203.2 416.0,1197.1 405.0,1190.8 394.3,1184.2 383.7,1177.3 373.2,1170.2 362.9,1162.8 352.8,1155.2 342.8,1147.4 333.0,1139.3 323.5,1131.0 314.1,1122.4 304.9,1113.7 295.9,1104.7 287.1,1095.6 278.5,1086.2 270.1,1076.6 262.0,1066.8 254.1,1056.8 246.4,1046.7 239.0,1036.3 231.8,1025.8 224.8,1015.1 218.1,1004.3 211.6,993.3 205.4,982.1 199.5,970.8 193.8,959.4 188.3,947.8 183.2,936.1 178.3,924.2 173.7,912.3 169.4,900.2 165.3,888.1 161.6,875.8 158.1,863.5 154.9,851.0 152.0,838.5 149.4,826.0 147.0,813.3 145.0,800.6 143.3,787.9 141.8,775.1 140.7,762.2 139.8,749.4 139.3,736.5 139.1,723.6 139.1,710.7 139.5,697.8 140.1,684.9 141.1,672.0 142.3,659.2 143.9,646.3 145.8,633.5 147.9,620.8 150.4,608.1 153.1,595.4 156.2,582.8 159.5,570.3 163.1,557.8 167.1,545.5 171.3,533.2 175.8,521.0 180.6,508.9 185.6,496.9 191.0,485.1 196.6,473.4 202.5,461.7 208.7,450.3 215.1,438.9 221.8,427.8 228.8,416.7 236.0,405.9 243.4,395.2 251.2,384.6 259.1,374.3 267.4,364.1 275.8,354.1 284.5,344.4 293.4,334.8 302.6,325.4 311.9,316.2 321.5,307.3 331.3,298.6 341.3,290.1 351.5,281.8 361.8,273.8 372.4,266.0 383.2,258.4 394.1,251.1 405.2,244.1 416.5,237.3 427.9,230.7 439.5,224.5 451.2,218.5 463.1,212.8 475.1,207.3 487.3,202.2 499.5,197.3 511.9,192.7 524.4,188.4 537.0,184.3 549.7,180.6 562.5,177.2 575.3,174.0 588.3,171.2 601.3,168.7 614.3,166.4 627.4,164.5 640.6,162.9 653.8,161.5 667.0,160.5 680.3,159.8 693.6,159.4 706.9,159.3 720.2,159.5 733.5,160.1 746.8,160.9 760.0,162.1 773.3,163.5 786.5,165.3 799.7,167.4 812.8,169.8 825.9,172.4 838.9,175.4 851.8,178.7 864.7,182.3 877.5,186.2 890.2,190.4 902.8,194.9 915.3,199.7 927.7,204.8 940.0,210.2 952.1,215.8 964.1,221.8 976.0,228.0 987.8,234.5 999.4,241.3 1010.8,248.3 1022.1,255.6 1033.2,263.2 1044.1,271.1 1054.9,279.2 1065.5,287.5 1075.8,296.1 1086.0,304.9 1096.0,314.0 1105.7,323.3 1115.3,332.8 1124.6,342.6 1133.7,352.6 1142.6,362.8 1151.2,373.2 1159.6,383.8 1167.8,394.6 1175.7,405.6 1183.3,416.8 1190.7,428.1 1197.8,439.7 1204.7,451.4 1211.2,463.2 1217.5,475.2 1223.6,487.4 1229.3,499.7 1234.8,512.2 1240.0,524.7 1244.8,537.4 1249.4,550.2 1253.7,563.2 1257.7,576.2 1261.4,589.3 1264.8,602.5 1267.8,615.8 1270.6,629.1 1273.0,642.6 1275.2,656.1 1277.0,669.6 1278.5,683.2 1279.7,696.8 1280.6,710.4 1281.1,724.1 1281.4,737.8 1281.3,751.5 1280.9,765.2 1280.2,778.9 1279.2,792.6 1277.8,806.2 1276.2,819.8 1274.2,833.4 1271.9,847.0 1269.2,860.4 1266.3,873.9 1263.1,887.2 1259.5,900.5 1255.6,913.7 1251.5,926.9 1247.0,939.9 1242.2,952.8 1237.1,965.6 1231.7,978.3 1226.0,990.9 1220.0,1003.4 1213.8,1015.7 1207.2,1027.8 1200.4,1039.8 1193.2,1051.7 1185.8,1063.4 1178.2,1074.9 1170.2,1086.2 1162.0,1097.4 1153.6,1108.4 1144.8,1119.2 1135.9,1129.7 1126.6,1140.1 1117.2,1150.3 1107.4,1160.2 1097.5,1169.9 1087.3,1179.4 1077.0,1188.6 1066.3,1197.6 1055.5,1206.4 1044.5,1214.9 1033.3,1223.1 1021.9,1231.1 1010.3,1238.9 998.5,1246.3 986.5,1253.5 974.4,1260.4 962.1,1267.0 949.6,1273.4 937.0,1279.4 924.3,1285.2 911.4,1290.7 898.4,1295.8 885.3,1300.7 872.0,1305.3 858.7,1309.5 845.2,1313.4 831.7,1317.1 818.1,1320.4 804.3,1323.4 790.6,1326.1 776.7,1328.4 762.8,1330.4 748.8,1332.2 734.8,1333.5 720.8,1334.6 706.8,1335.3 692.7,1335.7 678.6,1335.8 664.5,1335.6 650.4,1335.0 636.3,1334.1 622.3,1332.8 608.2,1331.3 594.2,1329.4 580.3,1327.2 566.4,1324.6 552.5,1321.8 538.7,1318.6 525.0,1315.1 511.4,1311.2 497.9,1307.1 484.4,1302.6 471.1,1297.9 457.8,1292.8 444.7,1287.4 431.7,1281.7 418.8,1275.7 406.1,1269.4 393.5,1262.8 381.1,1255.9 368.8,1248.7 356.7,1241.2 344.8,1233.4 333.0,1225.4 321.4,1217.1 310.1,1208.5 298.9,1199.6 287.9,1190.5 277.1,1181.2 266.6,1171.5 256.2,1161.7 246.2,1151.6 236.3,1141.2 226.7,1130.6 217.3,1119.8 208.2,1108.8 199.3,1097.6 190.7,1086.1 182.3,1074.5 174.2,1062.6 166.4,1050.6 158.9,1038.4 151.7,1026.0 144.7,1013.4 138.0,1000.7 131.7,987.8 125.6,974.8 119.8,961.6 114.4,948.3 109.2,934.9 104.4,921.3 99.9,907.6 95.7,893.8 91.8,879.9 88.2,866.0 85.0,851.9 82.1,837.8 79.5,823.5 77.2,809.3 75.3,795.0 73.7,780.6 72.5,766.2 71.6,751.7 71.0,737.3 70.8,722.8 70.9,708.3 71.3,693.8 72.1,679.3 73.2,664.9 74.6,650.4 76.4,636.0 78.5,621.6 81.0,607.3 83.7,593.0 86.9,578.8 90.3,564.7 94.1,550.6 98.2,536.7 102.6,522.8 107.4,509.0 112.5,495.4 117.9,481.8 123.6,468.4 129.6,455.1 135.9,441.9 142.6,428.9 149.5,416.1 156.8,403.4 164.3,390.9 172.2,378.5 180.3,366.3 188.7,354.3 197.4,342.5 206.3,331.0 215.6,319.6 225.1,308.4 234.9,297.4 244.9,286.7 255.1,276.2 265.7,266.0 276.4,256.0 287.4,246.2 298.6,236.7 310.1,227.4 321.7,218.5 333.6,209.8 345.7,201.3 358.0,193.2 370.4,185.3 383.1,177.7 395.9,170.4 408.9,163.4 422.1,156.7 435.4,150.4 448.9,144.3 462.5,138.5 476.2,133.1 490.1,127.9 504.1,123.1 518.2,118.7 532.4,114.5 546.8,110.7 561.2,107.2" fill="none" stroke="#b4b4b4" stroke-width="1"/>
<polyline points="503.0,480.8 508.7,476.2 514.5,471.8 520.5,467.5 526.5,463.3 532.6,459.3 538.9,455.4 545.2,451.7 551.6,448.1 558.1,444.6 564.7,441.3 571.3,438.2 578.1,435.2 584.9,432.4 591.8,429.7 598.7,427.2 605.8,424.8 612.8,422.6 620.0,420.6 627.1,418.7 634.4,417.0 641.6,415.5 648.9,414.1 656.3,412.9 663.7,411.9 671.1,411.1 678.5,410.4 685.9,409.9 693.4,409.5 700.9,409.4 708.4,409.4 715.8,409.6 723.3,409.9 730.8,410.5 738.3,411.2 745.7,412.1 753.2,413.1 760.6,414.4 768.0,415.8 775.4,417.4 782.7,419.1 790.0,421.0 797.3,423.1 804.5,425.4 811.6,427.8 818.7,430.5 825.8,433.2 832.8,436.2 839.7,439.3 846.6,442.5 853.3,446.0 860.0,449.5 866.7,453.3 873.2,457.2 879.7,461.2 886.0,465.5 892.3,469.8 898.5,474.3 904.5,479.0 910.5,483.8 916.4,488.7 922.1,493.8 927.7,499.0 933.2,504.3 938.6,509.8 943.9,515.4 949.0,521.2 954.0,527.0 958.9,533.0 963.6,539.1 968.2,545.3 972.6,551.6 976.9,558.0 981.1,564.5 985.1,571.2 989.0,577.9 992.7,584.7 996.2,591.6 999.6,598.6 1002.8,605.7 1005.9,612.8 1008.8,620.0 1011.5,627.3 1014.0,634.7 1016.4,642.1 1018.6,649.6 1020.7,657.2 1022.5,664.7 1024.2,672.4 1025.7,680.1 1027.1,687.8 1028.2,695.5 1029.2,703.3 1030.0,711.1 1030.6,719.0 1031.0,726.8 1031.3,734.7 1031.4,742.6 1031.2,750.5 1030.9,758.3 1030.4,766.2 1029.8,774.1 1028.9,781.9 1027.9,789.8 1026.7,797.6 1025.3,805.4 1023.7,813.2 1021.9,820.9 1019.9,828.6 1017.8,836.3 1015.5,843.9 1013.0,851.4 1010.3,858.9 1007.5,866.4 1004.5,873.8 1001.3,881.1 997.9,888.3 994.4,895.5 990.7,902.6 986.8,909.6 982.8,916.5 978.6,923.4 974.2,930.1 969.7,936.7 965.0,943.3 960.2,949.7 955.2,956.0 950.1,962.2 944.8,968.3 939.4,974.3 933.8,980.1 928.1,985.9 922.3,991.4 916.3,996.9 910.2,1002.2 904.0,1007.4 897.7,1012.4 891.2,1017.3 884.6,1022.1 877.9,1026.7 871.1,1031.1 864.2,1035.4 857.1,1039.5 850.0,1043.4 842.8,1047.2 835.5,1050.9 828.1,1054.3 820.6,1057.6 813.1,1060.7 805.4,1063.7 797.7,1066.4 789.9,1069.0 782.1,1071.4 774.2,1073.6 766.2,1075.7 758.2,1077.5 750.2,1079.2 742.1,1080.7 734.0,1082.0 725.8,1083.1 717.6,1084.0 709.4,1084.7 701.1,1085.3 692.9,1085.6 684.6,1085.8 676.3,1085.7 668.0,1085.5 659.8,1085.1 651.5,1084.4 643.2,1083.6 635.0,1082.6 626.8,1081.4 618.6,1080.0 610.4,1078.4 602.3,1076.7 594.2,1074.7 586.1,1072.5 578.1,1070.2 570.1,1067.7 562.2,1065.0 554.4,1062.1 546.6,1059.0 538.9,1055.7 531.3,1052.2 523.7,1048.6 516.2,1044.8 508.8,1040.8 501.5,1036.7 494.3,1032.3 487.2,1027.8 480.2,1023.2 473.3,1018.3 466.5,1013.3 459.8,1008.2 453.2,1002.9 446.8,997.4 440.5,991.8 434.3,986.0 428.2,980.1 422.3,974.0 416.5,967.8 410.9,961.5 405.4,955.0 400.0,948.4 394.8,941.6 389.8,934.8 384.9,927.8 380.2,920.7 375.6,913.5 371.2,906.2 367.0,898.8 362.9,891.2 359.1,883.6 355.3,875.9 351.8,868.1 348.5,860.2 345.3,852.2 342.3,844.2 339.5,836.1 336.9,827.9 334.5,819.6 332.3,811.3 330.3,802.9 328.4,794.5 326.8,786.1 325.3,777.5 324.1,769.0 323.0,760.4 322.2,751.8 321.6,743.2 321.1,734.5 320.9,725.9 320.8,717.2 321.0,708.5 321.3,699.9 321.9,691.2 322.7,682.5 323.6,673.9 324.8,665.3 326.2,656.7 327.7,648.1 329.5,639.5 331.5,631.0 333.6,622.6 336.0,614.2 338.6,605.8 341.3,597.5 344.3,589.2 347.4,581.1 350.8,573.0 354.3,564.9 358.0,557.0 361.9,549.1 366.0,541.3 370.3,533.6 374.8,526.0 379.4,518.5 384.2,511.1 389.2,503.9 394.4,496.7 399.7,489.6 405.2,482.7 410.8,475.9 416.6,469.2 422.6,462.7 428.8,456.3 435.0,450.0 441.5,443.9 448.0,437.9 454.8,432.1 461.6,426.4 468.6,420.9 475.7,415.6 483.0,410.4 490.3,405.4 497.8,400.5 505.4,395.8 513.2,391.3 521.0,387.0 528.9,382.9 536.9,378.9 545.1,375.2 553.3,371.6 561.6,368.2 570.0,365.0 578.4,362.0 587.0,359.1 595.6,356.5 604.3,354.1 613.0,351.9 621.8,349.9 630.6,348.1 639.5,346.5 648.4,345.1 657.4,343.9 666.3,342.9 675.4,342.1 684.4,341.6 693.5,341.2 702.5,341.1 711.6,341.2 720.7,341.4 729.7,341.9 738.8,342.6 747.8,343.6 756.9,344.7 765.9,346.0 774.9,347.6 783.8,349.3 792.7,351.3 801.6,353.5 810.4,355.9 819.2,358.5 827.9,361.2 836.5,364.2 845.1,367.4 853.6,370.8 862.0,374.5 870.4,378.3 878.7,382.2 886.8,386.4 894.9,390.8 902.9,395.4 910.8,400.2 918.6,405.1 926.2,410.2 933.8,415.5 941.2,421.0 948.5,426.7 955.6,432.5 962.7,438.5 969.6,444.7 976.3,451.0 982.9,457.5 989.4,464.2 995.7,471.0 1001.9,477.9 1007.9,485.0 1013.7,492.3 1019.4,499.6 1024.8,507.1 1030.2,514.8 1035.3,522.6 1040.3,530.4 1045.1,538.5 1049.7,546.6 1054.1,554.8 1058.3,563.2 1062.3,571.6 1066.2,580.1 1069.8,588.8 1073.2,597.5 1076.5,606.3 1079.5,615.2 1082.3,624.1 1084.9,633.1 1087.3,642.2 1089.5,651.4 1091.5,660.6 1093.3,669.8 1094.8,679.1 1096.2,688.5 1097.3,697.8 1098.2,707.2 1098.9,716.6 1099.3,726.1 1099.6,735.5 1099.6,745.0 1099.4,754.5 1099.0,763.9 1098.4,773.4 1097.5,782.9 1096.4,792.3 1095.1,801.7 1093.6,811.1 1091.9,820.4 1089.9,829.8 1087.8,839.0 1085.4,848.3 1082.8,857.4 1079.9,866.5 1076.9,875.6 1073.7,884.6 1070.2,893.5 1066.5,902.3 1062.7,911.1 1058.6,919.7 1054.3,928.3 1049.8,936.8 1045.1,945.2 1040.3,953.4 1035.2,961.6 1029.9,969.6 1024.5,977.6 1018.8,985.4 1013.0,993.0 1007.0,1000.6 1000.8,1008.0 994.5,1015.2 987.9,1022.3 981.3,1029.3 974.4,1036.1 967.4,1042.8 960.2,1049.3 952.9,1055.6 945.4,1061.7 937.8,1067.7 930.0,1073.5 922.1,1079.2 914.0,1084.6 905.9,1089.9 897.6,1094.9 889.2,1099.8 880.6,1104.5 872.0,1109.0 863.2,1113.3 854.4,1117.4 845.4,1121.3 836.4,1124.9 827.2,1128.4 818.0,1131.6 808.7,1134.7 799.3,1137.5 789.9,1140.1 780.4,1142.5 770.8,1144.7 761.2,1146.6 751.5,1148.3 741.8,1149.8 732.1,1151.1 722.3,1152.2 712.5,1153.0 702.7,1153.6 692.8,1153.9 683.0,1154.0 673.1,1154.0 663.2,1153.6 653.4,1153.1 643.5,1152.3 633.7,1151.3 623.9,1150.0 614.1,1148.5 604.3,1146.8 594.6,1144.9 584.9,1142.7 575.3,1140.3 565.7,1137.7 556.2,1134.9 546.7,1131.8 537.3,1128.6 528.0,1125.1 518.8,1121.3 509.6,1117.4 500.6,1113.3 491.6,1108.9 482.7,1104.3 473.9,1099.5 465.3,1094.6 456.7,1089.4 448.3,1084.0 440.0,1078.4 431.8,1072.6 423.8,1066.6 415.8,1060.5 408.1,1054.1 400.5,1047.6 393.0,1040.9 385.7,1034.0 378.5,1026.9 371.5,1019.7 364.7,1012.3 358.0,1004.7 351.5,997.0 345.2,989.1 339.1,981.1 333.1,972.9 327.4,964.6 321.8,956.2 316.4,947.6 311.3,938.9 306.3,930.1 301.5,921.1 297.0,912.1 292.6,902.9 288.5,893.6 284.6,884.3 280.8,874.8 277.4,865.2 274.1,855.6 271.1,845.9 268.2,836.1 265.6,826.2 263.3,816.3 261.2,806.3 259.3,796.3 257.6,786.2 256.2,776.1 255.0,765.9 254.0,755.7 253.3,745.5 252.8,735.3 252.6,725.0 252.6,714.8 252.8,704.5 253.3,694.2 254.0,684.0 254.9,673.8 256.1,663.5 257.5,653.3 259.2,643.2 261.1,633.0 263.2,623.0 265.6,612.9 268.2,602.9 271.1,593.0 274.1,583.1 277.5,573.3 281.0,563.6 284.8,554.0 288.7,544.4 293.0,534.9 297.4,525.6 302.0,516.3 306.9,507.1 312.0,498.0 317.3,489.1 322.8,480.3 328.5,471.6 334.4,463.0 340.6,454.6 346.9,446.3 353.4,438.2 360.1,430.2 367.0,422.3 374.1,414.6 381.3,407.1 388.8,399.8 396.4,392.6 404.2,385.6 412.1,378.7 420.2,372.1 428.5,365.6 436.9,359.4 445.5,353.3 454.2,347.4 463.0,341.7 472.0,336.3 481.1,331.0 490.4,326.0 499.7,321.1 509.2,316.5 518.8,312.1 528.5,307.9 538.3,304.0 548.2,300.2 558.1,296.7 568.2,293.5 578.3,290.4 588.6,287.6 598.8,285.1 609.2,282.8 619.6,280.7 630.0,278.8 640.5,277.2 651.1,275.9 661.6,274.8 672.2,273.9 682.9,273.3 693.5,272.9 704.2,272.8 714.8,272.9 725.5,273.3 736.1,273.9 746.8,274.8 757.4,275.9 768.0,277.3 778.6,278.9 789.1,280.8 799.6,282.9 810.1,285.2 820.5,287.8 830.8,290.7 841.1,293.8 851.3,297.1 861.4,300.6 871.5,304.4 881.4,308.5 891.3,312.7 901.1,317.2 910.8,322.0 920.3,326.9 929.8,332.1 939.1,337.5 948.4,343.1 957.5,349.0 966.4,355.0 975.2,361.3 983.9,367.7 992.4,374.4 1000.8,381.3 1009.0,388.3 1017.1,395.6 1024.9,403.0 1032.7,410.7 1040.2,418.5 1047.6,426.5 1054.7,434.7 1061.7,443.0 1068.5,451.5 1075.1,460.2 1081.5,469.0 1087.7,478.0 1093.7,487.1 1099.5,496.3 1105.0,505.7 1110.4,515.3 1115.5,524.9 1120.4,534.7 1125.1,544.6 1129.5,554.6 1133.7,564.7 1137.7,574.9 1141.4,585.2 1144.9,595.6 1148.2,606.1 1151.2,616.7 1154.0,627.3 1156.5,638.0 1158.8,648.8 1160.8,659.6 1162.6,670.5 1164.1,681.4 1165.4,692.3 1166.4,703.3 1167.1,714.3 1167.6,725.3 1167.9,736.4 1167.9,747.4 1167.6,758.5 1167.1,769.6 1166.3,780.6 1165.2,791.6 1163.9,802.6 1162.4,813.6 1160.6,824.6 1158.5,835.5 1156.2,846.3 1153.6,857.1 1150.8,867.9 1147.7,878.6 1144.4,889.2 1140.8,899.7 1137.0,910.2 1132.9,920.6 1128.6,930.9 1124.0,941.1 1119.2,951.2 1114.2,961.1 1108.9,971.0 1103.5,980.7 1097.7,990.3 1091.8,999.8 1085.6,1009.2 1079.2,1018.4 1072.6,1027.5 1065.8,1036.4 1058.8,1045.1 1051.6,1053.7 1044.1,1062.1 1036.5,1070.4 1028.7,1078.5 1020.6,1086.4 1012.4,1094.1 1004.1,1101.6 995.5,1108.9 986.8,1116.1 977.9,1123.0 968.8,1129.7 959.6,1136.2 950.2,1142.6 940.7,1148.6 931.0,1154.5 921.2,1160.1 911.2,1165.6 901.2,1170.7 891.0,1175.7 880.6,1180.4 870.2,1184.9 859.7,1189.1 849.0,1193.1 838.3,1196.9 827.5,1200.4 816.6,1203.6 805.6,1206.6 794.5,1209.3 783.4,1211.8 772.2,1214.0 761.0,1216.0 749.7,1217.7 738.4,1219.1 727.0,1220.3 715.6,1221.2 704.2,1221.8 692.8,1222.2 681.3,1222.3 669.9,1222.2 658.4,1221.8 647.0,1221.1 635.5,1220.1 624.1,1218.9 612.7,1217.4 601.4,1215.6 590.1,1213.6 578.8,1211.3 567.6,1208.8 556.4,1206.0 545.3,1202.9 534.3,1199.6 523.3,1196.0 512.4,1192.2 501.6,1188.1 490.9,1183.7 480.3,1179.1 469.9,1174.3 459.5,1169.2 449.2,1163.8 439.1,1158.3 429.0,1152.4 419.1,1146.4 409.4,1140.1 399.8,1133.6 390.3,1126.9 381.0,1119.9 371.9,1112.7 362.9,1105.4 354.1,1097.8 345.5,1089.9 337.0,1081.9 328.8,1073.7 320.7,1065.3 312.8,1056.7 305.1,1048.0 297.7,1039.0 290.4,1029.9 283.3,1020.6 276.5,1011.1 269.8,1001.4 263.4,991.7 257.3,981.7 251.3,971.6 245.6,961.4 240.1,951.0 234.9,940.5 229.9,929.9 225.1,919.2 220.6,908.3 216.4,897.4 212.4,886.3 208.6,875.1 205.2,863.9 202.0,852.6 199.0,841.2 196.3,829.7 193.9,818.1 191.7,806.5 189.8,794.9 188.2,783.2 186.9,771.4 185.8,759.7 185.0,747.8 184.5,736.0 184.3,724.2 184.3,712.3 184.6,700.5 185.2,688.6 186.1,676.8 187.2,665.0 188.6,653.2 190.3,641.4 192.2,629.7 194.5,618.0 197.0,606.4 199.8,594.8 202.8,583.3 206.1,571.8 209.7,560.5 213.6,549.2 217.7,538.0 222.1,526.9 226.7,515.8 231.6,504.9 236.7,494.1 242.1,483.5 247.8,472.9 253.7,462.5 259.8,452.2 266.2,442.0 272.8,432.0 279.7,422.2 286.8,412.5 294.1,403.0 301.6,393.6 309.4,384.4 317.4,375.4 325.5,366.6 333.9,357.9 342.5,349.5 351.3,341.3 360.3,333.2 369.5,325.4 378.9,317.8 388.4,310.4 398.1,303.2 408.0,296.2 418.0,289.5 428.2,283.0 438.6,276.7 449.1,270.7 459.8,264.9 470.6,259.4 481.5,254.1 492.5,249.1 503.7,244.3 515.0,239.8 526.4,235.5 537.8,231.5 549.4,227.8 561.1,224.4 572.9,221.2 584.7,218.3 596.6,215.6 608.6,213.3 620.6,211.2 632.7,209.4 644.8,207.9 656.9,206.6 669.1,205.7 681.3,205.0 693.6,204.6 705.8,204.5 718.0,204.7 730.3,205.2 742.5,205.9 754.8,207.0 767.0,208.3 779.1,209.9 791.3,211.8 803.4,214.0 815.4,216.4 827.4,219.2 839.3,222.2 851.2,225.5 863.0,229.1 874.7,232.9 886.3,237.0 897.8,241.4 909.3,246.1 920.6,251.0 931.8,256.2 942.9,261.7 953.9,267.4 964.7,273.4 975.4,279.6 985.9,286.1 996.3,292.8 1006.6,299.8 1016.7,307.0 1026.6,314.4 1036.4,322.1 1045.9,330.0 1055.3,338.2 1064.5,346.5 1073.6,355.1 1082.4,363.9 1091.0,372.8 1099.4,382.0 1107.6,391.4 1115.6,401.0 1123.3,410.8 1130.9,420.7 1138.2,430.8 1145.2,441.1 1152.0,451.6 1158.6,462.2 1165.0,473.0 1171.1,484.0 1176.9,495.0 1182.5,506.2 1187.8,517.6 1192.8,529.1 1197.6,540.7 1202.2,552.4 1206.4,564.2 1210.4,576.1 1214.1,588.1 1217.5,600.2 1220.6,612.4 1223.5,624.6 1226.0,637.0 1228.3,649.3 1230.3,661.8 1232.0,674.3 1233.4,686.8 1234.6,699.4 1235.4,712.0 1235.9,724.6 1236.2,737.2 1236.1,749.9 1235.8,762.5 1235.1,775.2 1234.2,787.8 1233.0,800.4 1231.5,813.0 1229.6,825.5 1227.5,838.0 1225.1,850.5 1222.4,862.9 1219.5,875.3 1216.2,887.5 1212.6,899.7 1208.8,911.9 1204.7,923.9 1200.3,935.8 1195.6,947.7 1190.6,959.4 1185.4,971.1 1179.9,982.6 1174.1,993.9 1168.1,1005.2 1161.8,1016.3 1155.2,1027.3 1148.4,1038.1 1141.3,1048.7 1134.0,1059.2 1126.4,1069.5 1118.6,1079.7 1110.6,1089.7 1102.3,1099.4 1093.8,1109.0 1085.0,1118.4 1076.1,1127.6 1066.9,1136.6 1057.5,1145.4 1047.9,1154.0 1038.1,1162.3 1028.1,1170.4 1018.0,1178.3 1007.6,1185.9 997.1,1193.3 986.3,1200.5 975.4,1207.4 964.4,1214.1 953.2,1220.5 941.8,1226.6 930.3,1232.5 918.7,1238.1 906.9,1243.5 895.0,1248.5 883.0,1253.3 870.8,1257.8 858.6,1262.1 846.3,1266.0 833.8,1269.7 821.3,1273.1 808.7,1276.1 796.0,1278.9 783.3,1281.4 770.4,1283.6 757.6,1285.5 744.7,1287.1 731.7,1288.4 718.7,1289.4 705.7,1290.1 692.7,1290.5 679.7,1290.6 666.6,1290.4 653.6,1289.9 640.6,1289.1 627.6,1287.9 614.6,1286.5 601.6,1284.8 588.7,1282.7 575.8,1280.4 563.0,1277.8 550.2,1274.9 537.5,1271.6 524.9,1268.1 512.4,1264.3 499.9,1260.2 487.5,1255.8 475.3,1251.1 463.1,1246.1 451.1,1240.8 439.2,1235.3 427.4,1229.5 415.7,1223.4 404.2,1217.0 392.8,1210.3 381.6,1203.4 370.5,1196.3 359.6,1188.8 348.9,1181.1 338.3,1173.2 328.0,1165.0 317.8,1156.6 307.8,1147.9 298.0,1139.0 288.4,1129.9 279.1,1120.6 269.9,1111.0 261.0,1101.2 252.3,1091.2 243.8,1081.0 235.6,1070.6 227.6,1060.0 219.8,1049.2 212.3,1038.3 205.1,1027.1 198.1,1015.8 191.4,1004.3 184.9,992.7 178.7,980.9 172.8,969.0 167.1,956.9 161.8,944.7 156.7,932.4 151.9,919.9 147.4,907.4 143.2,894.7 139.3,881.9 135.7,869.0 132.3,856.1 129.3,843.0 126.6,829.9 124.2,816.8 122.1,803.5 120.3,790.3 118.8,776.9 117.6,763.6 116.8,750.2 116.2,736.8 116.0,723.3 116.0,709.9 116.4,696.5 117.1,683.0 118.1,669.6 119.5,656.2 121.1,642.8 123.0,629.5 125.3,616.2 127.9,603.0 130.7,589.8 133.9,576.7 137.4,563.6 141.2,550.7 145.3,537.8 149.7,525.0 154.4,512.3 159.4,499.8 164.7,487.3 170.2,475.0 176.1,462.7 182.2,450.7 188.7,438.7 195.4,426.9 202.4,415.3 209.6,403.8 217.1,392.5 224.9,381.4 233.0,370.4 241.3,359.6 249.9,349.1 258.7,338.7 267.7,328.5 277.0,318.5 286.5,308.8 296.3,299.2 306.3,289.9 316.5,280.9 326.9,272.0 337.5,263.4 348.3,255.1 359.3,247.0 370.5,239.1 381.9,231.5 393.5,224.2 405.2,217.1 417.1,210.4 429.2,203.8 441.4,197.6 453.7,191.7 466.3,186.0 478.9,180.6 491.7,175.6 504.5,170.8 517.5,166.3 530.7,162.1 543.9,158.3 557.2,154.7 570.5,151.4 584.0,148.5 597.5,145.9 611.1,143.6 624.8,141.6 638.5,139.9 652.2,138.5 666.0,137.5 679.8,136.7 693.6,136.3 707.4,136.3 721.3,136.5 735.1,137.1 748.9,137.9 762.7,139.1 776.5,140.7 790.3,142.5 804.0,144.7 817.6,147.2 831.2,150.0 844.7,153.1 858.2,156.6 871.6,160.3 884.9,164.4 898.1,168.8 911.2,173.4 924.2,178.4 937.1,183.7 949.9,189.3 962.5,195.2 975.0,201.4 987.4,207.9 999.6,214.7 1011.6,221.7 1023.5,229.1 1035.2,236.7 1046.8,244.6 1058.2,252.7 1069.3,261.1 1080.3,269.8 1091.1,278.8 1101.7,288.0 1112.0,297.4 1122.2,307.1 1132.1,317.0 1141.8,327.2 1151.2,337.6 1160.5,348.2 1169.4,359.0 1178.1,370.0 1186.6,381.3 1194.8,392.7 1202.7,404.3 1210.4,416.1 1217.8,428.1 1224.9,440.3 1231.8,452.6 1238.3,465.1 1244.6,477.8 1250.5,490.6 1256.2,503.5 1261.6,516.6 1266.6,529.8 1271.4,543.1 1275.8,556.6 1280.0,570.1 1283.8,583.7 1287.3,597.5 1290.5,611.3 1293.3,625.2 1295.9,639.1 1298.1,653.1 1300.0,667.2 1301.5,681.3 1302.8,695.5 1303.7,709.7 1304.2,723.9 1304.5,738.1 1304.4,752.3 1304.0,766.6 1303.2,780.8 1302.1,795.0 1300.7,809.2 1299.0,823.3 1296.9,837.4 1294.5,851.5 1291.8,865.5 1288.7,879.5 1285.3,893.4 1281.6,907.2 1277.6,920.9 1273.2,934.5 1268.6,948.1 1263.6,961.5 1258.3,974.8 1252.7,988.0 1246.8,1001.0 1240.5,1014.0 1234.0,1026.8 1227.2,1039.4 1220.1,1051.9 1212.7,1064.2 1205.0,1076.3 1197.0,1088.3 1188.7,1100.0 1180.2,1111.6 1171.4,1123.0 1162.3,1134.2 1153.0,1145.2 1143.4,1156.0 1133.6,1166.5 1123.5,1176.8 1113.1,1186.9 1102.6,1196.7 1091.8,1206.3 1080.8,1215.7 1069.5,1224.7 1058.1,1233.6 1046.4,1242.1 1034.5,1250.4 1022.5,1258.5 1010.2,1266.2 997.8,1273.6 985.2,1280.8 972.4,1287.7 959.5,1294.3 946.4,1300.5 933.2,1306.5 919.8,1312.2 906.3,1317.5 892.7,1322.6 878.9,1327.3 865.0,1331.7 851.1,1335.8 837.0,1339.5 822.8,1343.0 808.6,1346.1 794.3,1348.8 779.9,1351.3 765.5,1353.4 751.0,1355.1 736.4,1356.6 721.9,1357.7 707.3,1358.4 692.7,1358.8 678.0,1358.9 663.4,1358.6 648.8,1358.0 634.2,1357.1 619.6,1355.8 605.0,1354.1 590.5,1352.2 576.0,1349.9 561.6,1347.2 547.2,1344.2 532.9,1340.9 518.7,1337.3 504.5,1333.3 490.5,1329.0 476.5,1324.3 462.6,1319.4 448.9,1314.1 435.3,1308.5 421.8,1302.5 408.5,1296.3 395.2,1289.7 382.2,1282.9 369.3,1275.7 356.6,1268.2 344.0,1260.5 331.6,1252.4 319.4,1244.1 307.4,1235.4 295.6,1226.5 284.0,1217.3 272.6,1207.9 261.5,1198.1 250.5,1188.1 239.8,1177.9 229.3,1167.4 219.1,1156.7 209.1,1145.7 199.4,1134.5 189.9,1123.0 180.7,1111.4 171.8,1099.5 163.2,1087.4 154.8,1075.1 146.7,1062.6 138.9,1049.9 131.4,1037.1 124.2,1024.0 117.3,1010.8 110.7,997.4 104.4,983.9 98.4,970.2 92.8,956.4 87.4,942.5 82.4,928.4 77.8,914.2 73.4,899.9 69.4,885.5 65.7,871.0 62.4,856.4 59.3,841.8 56.7,827.0 54.4,812.2 52.4,797.3 50.7,782.4 49.5,767.5 48.5,752.5 47.9,737.5 47.7,722.5 47.8,707.5 48.2,692.4 49.1,677.4 50.2,662.4 51.7,647.4 53.6,632.5 55.8,617.6 58.3,602.8 61.2,588.0 64.5,573.2 68.1,558.6 72.0,544.0 76.3,529.5 80.9,515.1 85.8,500.9 91.1,486.7 96.7,472.7 102.6,458.7 108.9,445.0 115.4,431.3 122.3,417.8 129.5,404.5 137.1,391.4 144.9,378.4 153.0,365.6 161.5,353.0 170.2,340.5 179.2,328.3 188.5,316.3 198.1,304.5 207.9,292.9 218.1,281.6 228.5,270.5 239.1,259.6 250.0,249.0 261.2,238.6 272.6,228.5 284.2,218.7 296.1,209.1 308.2,199.8 320.5,190.8 333.0,182.0 345.7,173.6 358.7,165.4 371.8,157.6 385.1,150.0 398.6,142.8 412.2,135.9 426.0,129.3 440.0,123.0 454.1,117.0 468.4,111.4 482.7,106.1 497.2,101.1 511.9,96.5 526.6,92.2 541.5,88.2 556.4,84.6" fill="none" stroke="#b4b4b4" stroke-width="1"/>
<polyline points="489.0,462.4 495.1,457.5 501.4,452.8 507.8,448.2 514.3,443.7 520.9,439.4 527.6,435.3 534.4,431.3 541.2,427.4 548.2,423.8 555.3,420.2 562.5,416.9 569.7,413.7 577.0,410.7 584.4,407.8 591.9,405.1 599.4,402.6 607.0,400.3 614.6,398.1 622.4,396.1 630.1,394.3 637.9,392.7 645.7,391.3 653.6,390.0 661.5,388.9 669.5,388.0 677.4,387.3 685.4,386.8 693.4,386.4 701.4,386.3 709.4,386.3 717.5,386.5 725.5,387.0 733.5,387.5 741.5,388.3 749.5,389.3 757.5,390.5 765.4,391.8 773.3,393.3 781.2,395.0 789.1,396.9 796.9,399.0 804.7,401.3 812.4,403.7 820.0,406.4 827.6,409.2 835.2,412.1 842.7,415.3 850.1,418.6 857.4,422.2 864.7,425.8 871.8,429.7 878.9,433.7 885.9,437.9 892.8,442.3 899.6,446.8 906.3,451.5 912.9,456.3 919.4,461.3 925.8,466.5 932.0,471.7 938.1,477.2 944.2,482.8 950.0,488.5 955.8,494.4 961.4,500.4 966.9,506.5 972.2,512.8 977.4,519.2 982.4,525.7 987.3,532.4 992.1,539.2 996.7,546.0 1001.1,553.0 1005.4,560.1 1009.5,567.3 1013.4,574.6 1017.2,582.0 1020.8,589.5 1024.2,597.0 1027.5,604.7 1030.5,612.4 1033.4,620.2 1036.2,628.1 1038.7,636.0 1041.0,644.0 1043.2,652.1 1045.2,660.2 1047.0,668.4 1048.6,676.6 1050.0,684.9 1051.2,693.1 1052.2,701.5 1053.1,709.8 1053.7,718.2 1054.1,726.6 1054.4,735.0 1054.4,743.4 1054.3,751.8 1053.9,760.2 1053.4,768.6 1052.7,777.1 1051.7,785.4 1050.6,793.8 1049.3,802.2 1047.8,810.5 1046.1,818.8 1044.2,827.0 1042.1,835.2 1039.8,843.4 1037.3,851.5 1034.6,859.6 1031.7,867.6 1028.7,875.5 1025.5,883.4 1022.0,891.2 1018.4,899.0 1014.6,906.6 1010.7,914.2 1006.5,921.6 1002.2,929.0 997.7,936.3 993.1,943.5 988.2,950.5 983.2,957.5 978.1,964.3 972.7,971.1 967.2,977.7 961.6,984.2 955.8,990.5 949.9,996.8 943.8,1002.8 937.5,1008.8 931.2,1014.6 924.6,1020.2 918.0,1025.8 911.2,1031.1 904.3,1036.3 897.3,1041.4 890.1,1046.2 882.8,1051.0 875.4,1055.5 868.0,1059.9 860.4,1064.1 852.7,1068.1 844.9,1072.0 837.0,1075.6 829.0,1079.1 820.9,1082.4 812.8,1085.5 804.6,1088.5 796.3,1091.2 787.9,1093.8 779.5,1096.1 771.0,1098.3 762.5,1100.2 753.9,1102.0 745.3,1103.6 736.6,1104.9 727.9,1106.1 719.2,1107.0 710.4,1107.8 701.7,1108.4 692.9,1108.7 684.1,1108.8 675.2,1108.8 666.4,1108.5 657.6,1108.0 648.8,1107.4 640.0,1106.5 631.2,1105.4 622.5,1104.1 613.8,1102.6 605.1,1100.9 596.4,1099.0 587.8,1096.9 579.2,1094.6 570.7,1092.1 562.2,1089.4 553.8,1086.4 545.5,1083.3 537.2,1080.0 529.0,1076.5 520.9,1072.9 512.8,1069.0 504.9,1064.9 497.0,1060.7 489.3,1056.2 481.6,1051.6 474.0,1046.8 466.6,1041.8 459.3,1036.7 452.0,1031.3 444.9,1025.8 438.0,1020.2 431.1,1014.3 424.4,1008.4 417.8,1002.2 411.4,995.9 405.1,989.4 399.0,982.8 393.0,976.1 387.2,969.2 381.5,962.1 376.0,955.0 370.6,947.7 365.5,940.3 360.4,932.7 355.6,925.0 351.0,917.2 346.5,909.3 342.2,901.3 338.1,893.2 334.1,885.0 330.4,876.7 326.9,868.3 323.5,859.9 320.4,851.3 317.4,842.7 314.7,834.0 312.1,825.2 309.8,816.4 307.6,807.5 305.7,798.5 304.0,789.5 302.4,780.5 301.1,771.4 300.0,762.3 299.2,753.1 298.5,744.0 298.0,734.8 297.8,725.6 297.7,716.4 297.9,707.2 298.3,698.0 298.9,688.8 299.8,679.6 300.8,670.4 302.1,661.2 303.5,652.1 305.2,643.0 307.1,633.9 309.2,624.9 311.5,615.9 314.1,607.0 316.8,598.1 319.7,589.3 322.9,580.6 326.3,571.9 329.8,563.3 333.6,554.8 337.5,546.3 341.7,538.0 346.1,529.7 350.6,521.6 355.3,513.5 360.3,505.6 365.4,497.8 370.7,490.1 376.2,482.5 381.8,475.0 387.7,467.7 393.7,460.4 399.9,453.4 406.2,446.4 412.7,439.7 419.4,433.0 426.2,426.6 433.2,420.2 440.3,414.1 447.6,408.1 455.0,402.2 462.6,396.6 470.3,391.1 478.1,385.8 486.1,380.7 494.1,375.7 502.3,371.0 510.6,366.4 519.1,362.0 527.6,357.8 536.2,353.8 544.9,350.1 553.7,346.5 562.6,343.1 571.6,339.9 580.6,337.0 589.8,334.2 598.9,331.7 608.2,329.3 617.5,327.2 626.9,325.3 636.3,323.6 645.7,322.2 655.2,320.9 664.8,319.9 674.3,319.1 683.9,318.5 693.5,318.1 703.1,318.0 712.7,318.1 722.3,318.4 731.9,319.0 741.5,319.7 751.1,320.7 760.6,321.9 770.2,323.3 779.7,325.0 789.1,326.9 798.6,329.0 808.0,331.3 817.3,333.8 826.6,336.6 835.8,339.6 844.9,342.7 854.0,346.2 863.0,349.8 871.9,353.6 880.8,357.6 889.5,361.9 898.2,366.3 906.7,371.0 915.2,375.8 923.5,380.9 931.7,386.1 939.8,391.6 947.8,397.2 955.6,403.0 963.3,409.0 970.9,415.2 978.3,421.6 985.6,428.1 992.8,434.8 999.7,441.7 1006.6,448.7 1013.2,455.9 1019.7,463.3 1026.1,470.8 1032.2,478.5 1038.2,486.3 1044.0,494.2 1049.6,502.3 1055.0,510.6 1060.3,518.9 1065.3,527.4 1070.2,536.0 1074.8,544.7 1079.3,553.5 1083.5,562.5 1087.6,571.5 1091.4,580.6 1095.0,589.9 1098.4,599.2 1101.6,608.6 1104.6,618.0 1107.3,627.6 1109.9,637.2 1112.2,646.9 1114.2,656.6 1116.1,666.4 1117.7,676.2 1119.1,686.1 1120.3,696.0 1121.2,705.9 1121.9,715.9 1122.4,725.8 1122.7,735.8 1122.7,745.8 1122.5,755.8 1122.0,765.8 1121.3,775.8 1120.4,785.8 1119.2,795.8 1117.9,805.7 1116.2,815.6 1114.4,825.5 1112.3,835.4 1110.0,845.1 1107.5,854.9 1104.7,864.6 1101.7,874.2 1098.5,883.8 1095.1,893.2 1091.4,902.6 1087.5,912.0 1083.4,921.2 1079.1,930.4 1074.6,939.4 1069.8,948.4 1064.8,957.2 1059.7,965.9 1054.3,974.5 1048.8,983.0 1043.0,991.4 1037.0,999.6 1030.9,1007.7 1024.5,1015.6 1018.0,1023.4 1011.3,1031.1 1004.4,1038.6 997.3,1045.9 990.0,1053.1 982.6,1060.1 975.0,1066.9 967.3,1073.6 959.4,1080.1 951.3,1086.4 943.1,1092.5 934.7,1098.5 926.3,1104.2 917.6,1109.7 908.9,1115.1 900.0,1120.2 891.0,1125.1 881.8,1129.9 872.6,1134.4 863.2,1138.7 853.8,1142.8 844.2,1146.6 834.6,1150.3 824.9,1153.7 815.1,1156.9 805.2,1159.8 795.2,1162.6 785.2,1165.1 775.1,1167.4 764.9,1169.4 754.7,1171.2 744.5,1172.8 734.2,1174.1 723.9,1175.2 713.6,1176.0 703.2,1176.6 692.8,1177.0 682.4,1177.1 672.0,1177.0 661.6,1176.6 651.2,1176.0 640.8,1175.2 630.5,1174.1 620.1,1172.8 609.8,1171.2 599.5,1169.4 589.3,1167.3 579.1,1165.1 568.9,1162.5 558.8,1159.8 548.8,1156.8 538.8,1153.5 528.9,1150.1 519.1,1146.3 509.4,1142.4 499.7,1138.3 490.2,1133.9 480.7,1129.3 471.4,1124.4 462.1,1119.4 453.0,1114.1 444.0,1108.6 435.1,1102.9 426.4,1097.0 417.8,1090.9 409.3,1084.6 401.0,1078.1 392.8,1071.4 384.8,1064.5 376.9,1057.4 369.2,1050.2 361.7,1042.7 354.3,1035.1 347.1,1027.3 340.1,1019.3 333.3,1011.2 326.7,1002.9 320.2,994.4 314.0,985.8 307.9,977.1 302.1,968.2 296.4,959.1 291.0,950.0 285.8,940.7 280.8,931.2 276.0,921.7 271.4,912.0 267.1,902.3 262.9,892.4 259.1,882.4 255.4,872.4 252.0,862.2 248.8,852.0 245.8,841.7 243.1,831.3 240.7,820.8 238.4,810.3 236.4,799.8 234.7,789.1 233.2,778.5 232.0,767.8 231.0,757.1 230.2,746.3 229.7,735.5 229.5,724.7 229.5,713.9 229.7,703.1 230.3,692.4 231.0,681.6 232.0,670.8 233.3,660.0 234.8,649.3 236.6,638.6 238.6,628.0 240.9,617.4 243.4,606.8 246.1,596.3 249.1,585.8 252.4,575.5 255.9,565.2 259.6,554.9 263.6,544.8 267.8,534.7 272.2,524.8 276.9,514.9 281.8,505.2 286.9,495.6 292.3,486.0 297.9,476.6 303.7,467.4 309.7,458.2 315.9,449.2 322.4,440.4 329.0,431.7 335.9,423.1 343.0,414.7 350.2,406.5 357.7,398.4 365.3,390.5 373.2,382.8 381.2,375.2 389.4,367.9 397.7,360.7 406.2,353.7 414.9,347.0 423.8,340.4 432.8,334.0 442.0,327.8 451.3,321.9 460.7,316.1 470.3,310.6 480.0,305.3 489.9,300.3 499.8,295.4 509.9,290.8 520.1,286.4 530.4,282.3 540.8,278.4 551.3,274.7 561.9,271.3 572.5,268.1 583.2,265.2 594.1,262.5 604.9,260.1 615.9,257.9 626.8,256.0 637.9,254.3 648.9,252.9 660.0,251.7 671.2,250.9 682.3,250.2 693.5,249.8 704.7,249.7 715.9,249.9 727.1,250.3 738.3,251.0 749.5,251.9 760.6,253.1 771.8,254.5 782.9,256.2 793.9,258.2 804.9,260.4 815.9,262.9 826.8,265.7 837.7,268.6 848.5,271.9 859.2,275.4 869.8,279.1 880.4,283.1 890.8,287.4 901.2,291.9 911.5,296.6 921.6,301.6 931.7,306.8 941.6,312.3 951.4,317.9 961.1,323.8 970.6,330.0 980.0,336.3 989.2,342.9 998.3,349.7 1007.3,356.7 1016.1,364.0 1024.7,371.4 1033.1,379.0 1041.4,386.8 1049.5,394.9 1057.4,403.1 1065.1,411.5 1072.6,420.0 1079.9,428.8 1087.0,437.7 1093.9,446.8 1100.6,456.1 1107.1,465.5 1113.4,475.1 1119.5,484.8 1125.3,494.7 1130.9,504.7 1136.2,514.8 1141.4,525.1 1146.3,535.5 1150.9,546.0 1155.3,556.6 1159.5,567.3 1163.4,578.1 1167.0,589.0 1170.5,600.0 1173.6,611.1 1176.5,622.3 1179.1,633.5 1181.5,644.8 1183.6,656.1 1185.5,667.5 1187.1,679.0 1188.4,690.5 1189.4,702.0 1190.2,713.5 1190.7,725.1 1191.0,736.7 1190.9,748.3 1190.6,759.9 1190.1,771.5 1189.2,783.0 1188.1,794.6 1186.8,806.1 1185.1,817.6 1183.2,829.1 1181.0,840.5 1178.6,851.9 1175.9,863.3 1172.9,874.5 1169.6,885.7 1166.1,896.9 1162.4,907.9 1158.4,918.9 1154.1,929.8 1149.6,940.5 1144.8,951.2 1139.7,961.8 1134.5,972.2 1128.9,982.5 1123.2,992.8 1117.2,1002.8 1110.9,1012.8 1104.4,1022.5 1097.7,1032.2 1090.8,1041.7 1083.7,1051.0 1076.3,1060.2 1068.7,1069.2 1060.9,1078.0 1052.9,1086.6 1044.7,1095.1 1036.3,1103.4 1027.7,1111.4 1018.9,1119.3 1009.9,1127.0 1000.7,1134.4 991.4,1141.7 981.9,1148.7 972.2,1155.5 962.4,1162.1 952.4,1168.5 942.3,1174.6 932.0,1180.5 921.6,1186.2 911.0,1191.6 900.3,1196.8 889.5,1201.7 878.6,1206.4 867.6,1210.8 856.4,1215.0 845.2,1218.9 833.8,1222.6 822.4,1225.9 810.9,1229.1 799.3,1231.9 787.7,1234.5 776.0,1236.8 764.2,1238.8 752.4,1240.6 740.5,1242.1 728.6,1243.3 716.7,1244.3 704.7,1244.9 692.8,1245.3 680.8,1245.4 668.8,1245.2 656.8,1244.8 644.8,1244.0 632.8,1243.0 620.9,1241.7 609.0,1240.2 597.1,1238.3 585.3,1236.2 573.5,1233.8 561.7,1231.1 550.0,1228.2 538.4,1224.9 526.9,1221.4 515.4,1217.7 504.0,1213.7 492.7,1209.4 481.5,1204.8 470.5,1200.0 459.5,1194.9 448.6,1189.5 437.9,1184.0 427.3,1178.1 416.8,1172.0 406.4,1165.7 396.3,1159.1 386.2,1152.3 376.3,1145.2 366.6,1137.9 357.1,1130.4 347.7,1122.7 338.5,1114.7 329.4,1106.5 320.6,1098.2 312.0,1089.6 303.5,1080.8 295.3,1071.8 287.3,1062.6 279.5,1053.2 271.9,1043.6 264.5,1033.9 257.3,1024.0 250.4,1013.9 243.7,1003.6 237.3,993.2 231.0,982.7 225.1,972.0 219.4,961.1 213.9,950.1 208.7,939.0 203.7,927.8 199.0,916.4 194.6,905.0 190.4,893.4 186.5,881.7 182.9,870.0 179.5,858.1 176.5,846.2 173.7,834.2 171.2,822.1 168.9,810.0 167.0,797.8 165.3,785.6 163.9,773.3 162.8,761.0 162.0,748.6 161.4,736.3 161.2,723.9 161.2,711.5 161.6,699.1 162.2,686.7 163.1,674.4 164.3,662.0 165.8,649.7 167.6,637.4 169.6,625.1 172.0,612.9 174.6,600.8 177.5,588.7 180.7,576.7 184.2,564.7 187.9,552.8 192.0,541.0 196.3,529.3 200.9,517.7 205.7,506.2 210.9,494.8 216.2,483.5 221.9,472.4 227.8,461.4 234.0,450.5 240.4,439.7 247.1,429.1 254.0,418.7 261.2,408.4 268.6,398.3 276.3,388.3 284.1,378.6 292.2,369.0 300.6,359.6 309.1,350.3 317.9,341.3 326.9,332.5 336.1,323.9 345.5,315.5 355.1,307.3 364.9,299.4 374.8,291.7 385.0,284.2 395.3,276.9 405.8,269.9 416.5,263.1 427.3,256.6 438.3,250.3 449.4,244.3 460.7,238.5 472.1,233.0 483.6,227.8 495.3,222.8 507.1,218.1 519.0,213.6 531.0,209.5 543.1,205.6 555.3,202.0 567.5,198.7 579.9,195.7 592.3,192.9 604.8,190.5 617.4,188.3 630.0,186.5 642.6,184.9 655.3,183.6 668.1,182.6 680.8,181.9 693.6,181.5 706.4,181.5 719.1,181.7 731.9,182.2 744.7,183.0 757.5,184.1 770.2,185.4 782.9,187.1 795.6,189.1 808.2,191.4 820.7,194.0 833.3,196.9 845.7,200.0 858.1,203.5 870.4,207.2 882.6,211.2 894.7,215.5 906.8,220.1 918.7,225.0 930.5,230.2 942.2,235.6 953.7,241.3 965.2,247.3 976.5,253.5 987.6,260.0 998.6,266.8 1009.5,273.8 1020.2,281.1 1030.7,288.6 1041.0,296.4 1051.2,304.4 1061.2,312.7 1071.0,321.2 1080.6,329.9 1090.0,338.9 1099.2,348.0 1108.2,357.4 1116.9,367.0 1125.5,376.8 1133.8,386.8 1141.9,397.0 1149.7,407.4 1157.3,417.9 1164.7,428.7 1171.8,439.6 1178.6,450.7 1185.2,462.0 1191.6,473.4 1197.6,484.9 1203.5,496.6 1209.0,508.5 1214.3,520.4 1219.2,532.5 1223.9,544.7 1228.4,557.1 1232.5,569.5 1236.3,582.0 1239.9,594.6 1243.2,607.3 1246.1,620.1 1248.8,633.0 1251.2,645.9 1253.2,658.9 1255.0,671.9 1256.5,685.0 1257.6,698.1 1258.5,711.2 1259.0,724.4 1259.3,737.5 1259.2,750.7 1258.8,763.9 1258.1,777.1 1257.2,790.2 1255.9,803.4 1254.3,816.5 1252.4,829.6 1250.2,842.6 1247.6,855.6 1244.8,868.5 1241.7,881.4 1238.3,894.2 1234.6,906.9 1230.6,919.5 1226.3,932.1 1221.7,944.5 1216.8,956.9 1211.6,969.1 1206.1,981.2 1200.4,993.2 1194.4,1005.0 1188.1,1016.7 1181.5,1028.3 1174.6,1039.7 1167.5,1051.0 1160.1,1062.1 1152.5,1073.0 1144.6,1083.8 1136.4,1094.3 1128.1,1104.7 1119.4,1114.9 1110.5,1124.9 1101.4,1134.7 1092.1,1144.3 1082.5,1153.6 1072.7,1162.7 1062.7,1171.7 1052.5,1180.3 1042.1,1188.8 1031.5,1197.0 1020.7,1204.9 1009.7,1212.6 998.6,1220.1 987.2,1227.3 975.7,1234.2 964.0,1240.9 952.2,1247.3 940.2,1253.4 928.1,1259.2 915.8,1264.8 903.4,1270.0 890.9,1275.0 878.2,1279.7 865.5,1284.1 852.6,1288.2 839.6,1292.0 826.6,1295.5 813.5,1298.7 800.3,1301.6 787.0,1304.2 773.6,1306.5 760.2,1308.5 746.8,1310.1 733.3,1311.5 719.8,1312.5 706.3,1313.2 692.7,1313.6 679.1,1313.7 665.5,1313.5 652.0,1312.9 638.4,1312.0 624.9,1310.9 611.3,1309.4 597.8,1307.6 584.4,1305.4 571.0,1303.0 557.7,1300.2 544.4,1297.2 531.2,1293.8 518.0,1290.1 505.0,1286.1 492.0,1281.8 479.1,1277.3 466.4,1272.4 453.7,1267.2 441.2,1261.7 428.8,1255.9 416.5,1249.8 404.4,1243.5 392.4,1236.8 380.5,1229.9 368.9,1222.7 357.4,1215.2 346.0,1207.5 334.9,1199.5 323.9,1191.2 313.1,1182.7 302.5,1173.9 292.1,1164.9 282.0,1155.6 272.0,1146.1 262.3,1136.4 252.7,1126.4 243.5,1116.2 234.4,1105.8 225.6,1095.2 217.0,1084.4 208.7,1073.3 200.7,1062.1 192.9,1050.7 185.3,1039.1 178.1,1027.3 171.1,1015.4 164.4,1003.3 157.9,991.0 151.8,978.6 145.9,966.0 140.4,953.3 135.1,940.5 130.1,927.5 125.5,914.5 121.1,901.3 117.0,888.0 113.3,874.6 109.8,861.1 106.7,847.6 103.9,833.9 101.4,820.2 99.2,806.5 97.3,792.7 95.8,778.8 94.6,764.9 93.7,751.0 93.1,737.0 92.9,723.0 93.0,709.1 93.4,695.1 94.1,681.1 95.2,667.2 96.6,653.3 98.3,639.4 100.3,625.5 102.7,611.7 105.3,597.9 108.3,584.2 111.7,570.6 115.3,557.0 119.2,543.5 123.5,530.1 128.1,516.9 133.0,503.7 138.2,490.6 143.7,477.6 149.5,464.8 155.6,452.1 162.0,439.6 168.7,427.2 175.7,414.9 182.9,402.8 190.5,390.9 198.3,379.1 206.4,367.6 214.8,356.2 223.5,345.0 232.4,334.0 241.5,323.2 250.9,312.6 260.6,302.3 270.5,292.2 280.7,282.3 291.0,272.6 301.6,263.2 312.5,254.0 323.5,245.1 334.7,236.4 346.2,228.0 357.8,219.8 369.7,211.9 381.7,204.3 393.9,197.0 406.3,190.0 418.8,183.2 431.5,176.7 444.4,170.6 457.4,164.7 470.5,159.1 483.8,153.9 497.2,148.9 510.7,144.3 524.3,139.9 538.0,135.9 551.8,132.2 565.8,128.9 579.7,125.8 593.8,123.1 607.9,120.7 622.1,118.6 636.3,116.9 650.6,115.5 664.9,114.4 679.3,113.7 693.6,113.2 708.0,113.2 722.4,113.4 736.7,114.0 751.1,115.0 765.4,116.2 779.7,117.8 794.0,119.8 808.2,122.0 822.4,124.6 836.5,127.5 850.6,130.8 864.6,134.4 878.5,138.3 892.3,142.5 906.0,147.1 919.6,151.9 933.1,157.1 946.5,162.6 959.8,168.5 972.9,174.6 985.9,181.0 998.7,187.8 1011.4,194.8 1023.9,202.1 1036.2,209.8 1048.4,217.7 1060.4,225.9 1072.2,234.4 1083.8,243.1 1095.2,252.2 1106.4,261.4 1117.3,271.0 1128.1,280.8 1138.6,290.9 1148.9,301.2 1159.0,311.7 1168.8,322.5 1178.3,333.5 1187.6,344.8 1196.7,356.3 1205.4,367.9 1214.0,379.8 1222.2,391.9 1230.1,404.1 1237.8,416.6 1245.2,429.2 1252.3,442.1 1259.1,455.0 1265.5,468.2 1271.7,481.5 1277.6,494.9 1283.2,508.5 1288.4,522.2 1293.3,536.0 1297.9,549.9 1302.2,564.0 1306.2,578.2 1309.8,592.4 1313.1,606.7 1316.1,621.2 1318.7,635.6 1321.0,650.2 1322.9,664.8 1324.5,679.5 1325.8,694.1 1326.7,708.9 1327.3,723.6 1327.6,738.4 1327.5,753.1 1327.0,767.9 1326.2,782.7 1325.1,797.4 1323.6,812.1 1321.8,826.8 1319.6,841.5 1317.1,856.1 1314.3,870.6 1311.1,885.1 1307.6,899.5 1303.7,913.8 1299.5,928.0 1295.0,942.2 1290.2,956.2 1285.0,970.1 1279.5,984.0 1273.6,997.6 1267.5,1011.2 1261.0,1024.6 1254.3,1037.8 1247.2,1050.9 1239.8,1063.9 1232.1,1076.6 1224.1,1089.2 1215.8,1101.6 1207.2,1113.8 1198.4,1125.9 1189.2,1137.7 1179.8,1149.3 1170.1,1160.6 1160.2,1171.8 1150.0,1182.7 1139.5,1193.4 1128.8,1203.9 1117.8,1214.1 1106.6,1224.0 1095.2,1233.7 1083.5,1243.1 1071.6,1252.3 1059.5,1261.1 1047.2,1269.7 1034.7,1278.0 1022.0,1286.1 1009.1,1293.8 996.0,1301.2 982.8,1308.3 969.4,1315.1 955.8,1321.6 942.1,1327.8 928.2,1333.7 914.2,1339.2 900.0,1344.4 885.8,1349.3 871.4,1353.9 856.9,1358.1 842.3,1362.0 827.6,1365.5 812.9,1368.8 798.0,1371.6 783.1,1374.1 768.1,1376.3 753.1,1378.1 738.0,1379.6 722.9,1380.7 707.8,1381.5 692.6,1381.9 677.5,1382.0 662.3,1381.7 647.2,1381.0 632.0,1380.0 616.9,1378.7 601.8,1377.0 586.7,1374.9 571.7,1372.5 556.7,1369.8 541.8,1366.7 527.0,1363.2 512.3,1359.4 497.6,1355.3 483.0,1350.8 468.6,1346.0 454.2,1340.9 440.0,1335.4 425.9,1329.5 411.9,1323.4 398.1,1316.9 384.4,1310.1 370.9,1303.0 357.5,1295.5 344.3,1287.8 331.3,1279.7 318.5,1271.4 305.8,1262.7 293.4,1253.8 281.2,1244.5 269.2,1235.0 257.4,1225.2 245.8,1215.1 234.5,1204.7 223.4,1194.1 212.5,1183.2 202.0,1172.1 191.6,1160.7 181.5,1149.1 171.7,1137.2 162.2,1125.1 153.0,1112.8 144.0,1100.3 135.3,1087.5 127.0,1074.6 118.9,1061.4 111.1,1048.1 103.7,1034.6 96.5,1020.9 89.7,1007.1 83.2,993.0 77.0,978.9 71.2,964.6 65.7,950.1 60.5,935.5 55.6,920.8 51.1,906.0 47.0,891.1 43.2,876.1 39.7,860.9 36.6,845.7 33.9,830.5 31.5,815.1 29.4,799.7 27.7,784.3 26.4,768.8 25.4,753.3 24.8,737.8 24.6,722.2 24.7,706.6 25.2,691.1 26.0,675.5 27.3,660.0 28.8,644.5 30.8,629.0 33.1,613.6 35.7,598.2 38.7,582.9 42.1,567.6 45.8,552.5 49.9,537.4 54.3,522.4 59.1,507.5 64.2,492.7 69.7,478.0 75.5,463.5 81.6,449.1 88.1,434.8 94.9,420.7 102.1,406.8 109.6,393.0 117.4,379.3 125.5,365.9 133.9,352.7 142.6,339.6 151.7,326.7 161.0,314.1 170.7,301.7 180.6,289.5 190.8,277.5 201.3,265.7 212.1,254.2 223.1,243.0 234.4,232.0 246.0,221.3 257.8,210.8 269.8,200.6 282.1,190.7 294.6,181.1 307.4,171.8 320.3,162.7 333.5,154.0 346.9,145.6 360.5,137.4 374.3,129.6 388.2,122.2 402.3,115.0 416.6,108.2 431.1,101.7 445.7,95.5 460.5,89.7 475.4,84.2 490.4,79.1 505.5,74.3 520.8,69.8 536.1,65.8 551.6,62.0" fill="none" stroke="#b4b4b4" stroke-width="1"/>
<line x1="654.6" y1="469.1" x2="603.2" y2="121.5" stroke="#b4b4b4" stroke-width="1.3"/>
<line x1="835.6" y1="499.0" x2="1019.7" y2="199.7" stroke="#b4b4b4" stroke-width="1.3"/>
<line x1="958.2" y1="642.3" x2="1291.7" y2="531.4" stroke="#b4b4b4" stroke-width="1.3"/>
<line x1="960.0" y1="836.1" x2="1286.7" y2="965.5" stroke="#b4b4b4" stroke-width="1.3"/>
<line x1="833.2" y1="989.6" x2="1000.4" y2="1298.8" stroke="#b4b4b4" stroke-width="1.3"/>
<line x1="632.4" y1="1026.5" x2="561.7" y2="1370.7" stroke="#b4b4b4" stroke-width="1.3"/>
<line x1="450.4" y1="922.9" x2="175.0" y2="1141.2" stroke="#b4b4b4" stroke-width="1.3"/>
<line x1="376.0" y1="721.6" x2="24.6" y2="711.8" stroke="#b4b4b4" stroke-width="1.3"/>
<line x1="450.2" y1="514.8" x2="238.4" y2="326.8" stroke="#b4b4b4" stroke-width="1.3"/>
<circle cx="670.9" cy="1039.4" r="14.3" fill="#b2b2b2"/>
<circle cx="469.0" cy="1043.5" r="14.3" fill="#b2b2b2"/>
<circle cx="268.8" cy="907.5" r="14.3" fill="#b2b2b2"/>
<circle cx="165.5" cy="646.2" r="14.3" fill="#b2b2b2"/>
<circle cx="232.5" cy="333.0" r="14.3" fill="#b2b2b2"/>
<circle cx="623.0" cy="468.7" r="13.6" fill="none" stroke="#b2b2b2" stroke-width="1.7"/>
<circle cx="827.5" cy="411.2" r="13.6" fill="none" stroke="#b2b2b2" stroke-width="1.7"/>
<circle cx="1053.8" cy="510.0" r="13.6" fill="none" stroke="#b2b2b2" stroke-width="1.7"/>
<circle cx="1190.0" cy="752.0" r="13.6" fill="none" stroke="#b2b2b2" stroke-width="1.7"/>
<circle cx="1155.0" cy="1068.0" r="13.6" fill="none" stroke="#b2b2b2" stroke-width="1.7"/>
<polyline points="531.0,517.5 535.8,513.6 540.8,509.8 545.8,506.1 550.9,502.5 556.1,499.0 561.4,495.7 566.8,492.5 572.3,489.4 577.8,486.4 583.4,483.5 589.1,480.8 594.8,478.2 600.7,475.8 606.5,473.4 612.5,471.3 618.4,469.2 624.5,467.3 630.6,465.5 636.7,463.9 642.9,462.4 649.1,461.0 655.3,459.8 661.6,458.8 667.9,457.9 674.2,457.1 680.6,456.5 687.0,456.0 693.4,455.7 699.8,455.5 706.2,455.5 712.6,455.6 719.0,455.9 725.4,456.3 731.8,456.9 738.2,457.6 744.6,458.5 751.0,459.5 757.3,460.7 763.6,462.0 769.9,463.5 776.2,465.1 782.4,466.9 788.6,468.8 794.8,470.8 800.9,473.0 807.0,475.4 813.0,477.9 818.9,480.5 824.8,483.3 830.7,486.2 836.5,489.2 842.2,492.4 847.8,495.7 853.4,499.2 858.9,502.8 864.3,506.5 869.6,510.3 874.8,514.3 880.0,518.4 885.0,522.6 890.0,527.0 894.9,531.4 899.6,536.0 904.3,540.7 908.8,545.5 913.3,550.4 917.6,555.4 921.8,560.5 925.9,565.8 929.9,571.1 933.8,576.5 937.5,582.0 941.1,587.6 944.6,593.3 947.9,599.1 951.2,604.9 954.2,610.8 957.2,616.9 960.0,622.9 962.7,629.1 965.2,635.3 967.6,641.6 969.8,647.9 971.9,654.3 973.8,660.7 975.6,667.2 977.3,673.8 978.8,680.4 980.1,687.0 981.3,693.6 982.3,700.3 983.2,707.1 983.9,713.8 984.5,720.6 984.9,727.3 985.1,734.1 985.2,740.9 985.2,747.7 984.9,754.5 984.5,761.4 984.0,768.2 983.3,775.0 982.4,781.7 981.4,788.5 980.2,795.3 978.9,802.0 977.4,808.7 975.7,815.3 973.9,822.0 972.0,828.6 969.8,835.1 967.6,841.6 965.1,848.1 962.6,854.5 959.8,860.8 956.9,867.1 953.9,873.3 950.7,879.5 947.4,885.6 944.0,891.6 940.3,897.5 936.6,903.4 932.7,909.1 928.7,914.8 924.5,920.4 920.2,925.9 915.8,931.3 911.3,936.6 906.6,941.8 901.8,946.9 896.9,951.9 891.8,956.8 886.7,961.5 881.4,966.1 876.0,970.7 870.5,975.1 864.9,979.3 859.3,983.5 853.5,987.5 847.6,991.4 841.6,995.1 835.5,998.7 829.3,1002.2 823.1,1005.5 816.7,1008.7 810.3,1011.7 803.9,1014.6 797.3,1017.3 790.7,1019.9 784.0,1022.4 777.2,1024.6 770.4,1026.8 763.6,1028.7 756.7,1030.5 749.7,1032.2 742.7,1033.7 735.7,1035.0 728.6,1036.1 721.5,1037.1 714.4,1038.0 707.3,1038.6 700.1,1039.1 692.9,1039.5 685.7,1039.6 678.5,1039.6 671.3,1039.4 664.1,1039.1 656.9,1038.6 649.7,1037.9 642.5,1037.1 635.4,1036.1 628.2,1034.9 621.1,1033.5 614.0,1032.0 606.9,1030.3 599.9,1028.5 592.9,1026.5 586.0,1024.3 579.1,1022.0 572.2,1019.5 565.4,1016.8 558.7,1014.0 552.0,1011.0 545.4,1007.9 538.9,1004.6 532.4,1001.1 526.0,997.5 519.7,993.8 513.5,989.9 507.3,985.8 501.3,981.6 495.3,977.3 489.5,972.8 483.7,968.2 478.1,963.5 472.6,958.6 467.1,953.6 461.8,948.4 456.6,943.1 451.5,937.7 446.6,932.2 441.8,926.6 437.1,920.8 432.5,915.0 428.1,909.0 423.8,902.9 419.6,896.7 415.6,890.5 411.7,884.1 408.0,877.6 404.4,871.0 401.0,864.4 397.8,857.7 394.6,850.8 391.7,843.9 388.9,837.0 386.3,830.0 383.8,822.9 381.5,815.7 379.3,808.5 377.3,801.2 375.5,793.9 373.9,786.5 372.4,779.1 371.1,771.7 370.0,764.2 369.1,756.7 368.3,749.2 367.7,741.6 367.3,734.0 367.0,726.5 367.0,718.9 367.1,711.3 367.3,703.7 367.8,696.0 368.4,688.5 369.3,680.9 370.3,673.3 371.4,665.8 372.8,658.2 374.3,650.7 376.0,643.3 377.9,635.8 379.9,628.5 382.1,621.1 384.5,613.8 387.1,606.6 389.8,599.4 392.7,592.3 395.8,585.2 399.0,578.2 402.4,571.3 406.0,564.4 409.7,557.6 413.6,551.0 417.7,544.4 421.9,537.9 426.2,531.4 430.7,525.1 435.4,518.9 440.2,512.8 445.1,506.8 450.2,500.9 455.4,495.2 460.8,489.5 466.3,484.0 471.9,478.6 477.7,473.3 483.6,468.2 489.6,463.2 495.7,458.3 501.9,453.6 508.3,449.0 514.8,444.5 521.3,440.3 528.0,436.1 534.8,432.1 541.7,428.3 548.6,424.6 555.7,421.1 562.8,417.8 570.0,414.6 577.3,411.6 584.7,408.7 592.2,406.0 599.7,403.5 607.2,401.2 614.9,399.0 622.5,397.1 630.3,395.3 638.1,393.6 645.9,392.2 653.7,390.9 661.6,389.9 669.5,389.0 677.5,388.3 685.4,387.7 693.4,387.4 701.4,387.2 709.4,387.3 717.4,387.5 725.4,387.9 733.4,388.5 741.4,389.3 749.3,390.2 757.3,391.4 765.2,392.7 773.1,394.2 781.0,396.0 788.8,397.8 796.6,399.9 804.4,402.2 812.0,404.6 819.7,407.2 827.3,410.0 834.8,413.0 842.3,416.2 849.6,419.5 857.0,423.0 864.2,426.7 871.3,430.5 878.4,434.5 885.4,438.7 892.3,443.1 899.1,447.6 905.7,452.2 912.3,457.1 918.8,462.0 925.1,467.2 931.4,472.4 937.5,477.9 943.5,483.5 949.3,489.2 955.1,495.0 960.7,501.0 966.1,507.2 971.5,513.4 976.6,519.8 981.7,526.3 986.6,532.9 991.3,539.7 995.9,546.5 1000.3,553.5 1004.5,560.6 1008.6,567.7 1012.6,575.0 1016.3,582.4 1019.9,589.8 1023.3,597.4 1026.6,605.0 1029.6,612.7 1032.5,620.5 1035.2,628.4 1037.8,636.3 1040.1,644.3 1042.3,652.3 1044.3,660.4 1046.0,668.6 1047.6,676.7 1049.0,685.0 1050.3,693.2 1051.3,701.5 1052.1,709.9 1052.7,718.2 1053.2,726.6 1053.4,735.0 1053.5,743.4 1053.3,751.8 1053.0,760.2 1052.5,768.5 1051.7,776.9 1050.8,785.3 1049.7,793.7 1048.4,802.0 1046.8,810.3 1045.1,818.6 1043.2,826.8 1041.1,835.0 1038.9,843.1 1036.4,851.2 1033.7,859.3 1030.9,867.3 1027.8,875.2 1024.6,883.0 1021.2,890.8 1017.6,898.5 1013.8,906.1 1009.9,913.7 1005.7,921.1 1001.4,928.5 996.9,935.8 992.3,942.9 987.5,950.0 982.5,956.9 977.3,963.7 972.0,970.5 966.5,977.0 960.9,983.5 955.1,989.9 949.2,996.1 943.1,1002.1 936.9,1008.1 930.5,1013.9 924.0,1019.5 917.4,1025.0 910.6,1030.3 903.8,1035.5 896.7,1040.6 889.6,1045.4 882.3,1050.1 875.0,1054.7 867.5,1059.0 859.9,1063.2 852.3,1067.3 844.5,1071.1 836.6,1074.8 828.6,1078.2 820.6,1081.5 812.5,1084.6 804.3,1087.6 796.0,1090.3 787.7,1092.8 779.3,1095.2 770.8,1097.3 762.3,1099.3 753.8,1101.1 745.2,1102.6 736.5,1104.0 727.8,1105.1 719.1,1106.1 710.4,1106.9 701.6,1107.4 692.9,1107.8 684.1,1107.9 675.3,1107.8 666.5,1107.6 657.7,1107.1 648.9,1106.4 640.1,1105.5 631.4,1104.5 622.7,1103.2 614.0,1101.7 605.3,1100.0 596.6,1098.1 588.0,1096.0 579.5,1093.7 571.0,1091.2 562.5,1088.5 554.2,1085.6 545.8,1082.5 537.6,1079.2 529.4,1075.7 521.3,1072.0 513.3,1068.1 505.4,1064.1 497.5,1059.8 489.8,1055.4 482.1,1050.8 474.6,1046.0 467.2,1041.1 459.8,1035.9 452.6,1030.6 445.6,1025.1 438.6,1019.5 431.8,1013.6 425.1,1007.7 418.5,1001.5 412.1,995.2 405.8,988.8 399.7,982.2 393.7,975.5 387.9,968.6 382.3,961.6 376.8,954.4 371.4,947.1 366.3,939.7 361.3,932.2 356.4,924.6 351.8,916.8 347.3,908.9 343.0,900.9 338.9,892.8 335.0,884.7 331.3,876.4 327.8,868.0 324.4,859.5 321.3,851.0 318.3,842.4 315.6,833.7 313.0,825.0 310.7,816.1 308.6,807.3 306.6,798.3 304.9,789.4 303.4,780.4 302.1,771.3 301.0,762.2 300.1,753.1 299.4,743.9 299.0,734.8 298.7,725.6 298.7,716.4 298.9,707.2 299.3,698.0 299.9,688.9 300.7,679.7 301.7,670.5 303.0,661.4 304.5,652.3 306.1,643.2 308.0,634.2 310.1,625.2 312.4,616.2 315.0,607.3 317.7,598.4 320.6,589.7 323.8,580.9 327.1,572.3 330.7,563.7 334.4,555.2 338.4,546.8 342.5,538.5 346.9,530.2 351.4,522.1 356.1,514.1 361.1,506.1 366.2,498.3 371.5,490.6 376.9,483.0 382.6,475.6 388.4,468.3 394.4,461.1 400.6,454.0 406.9,447.1 413.4,440.3 420.0,433.7 426.9,427.3 433.8,421.0 440.9,414.8 448.2,408.8 455.6,403.0 463.1,397.4 470.8,391.9 478.6,386.6 486.6,381.5 494.6,376.5 502.8,371.8 511.1,367.2 519.5,362.9 528.0,358.7 536.6,354.7 545.3,350.9 554.0,347.4 562.9,344.0 571.9,340.8 580.9,337.9 590.0,335.1 599.2,332.6 608.4,330.2 617.7,328.1 627.0,326.2 636.4,324.6 645.9,323.1 655.3,321.9 664.8,320.8 674.4,320.0 683.9,319.5 693.5,319.1 703.0,319.0 712.6,319.1 722.2,319.4 731.8,319.9 741.4,320.7 750.9,321.6 760.5,322.8 770.0,324.3 779.5,325.9 788.9,327.8 798.3,329.9 807.7,332.2 817.0,334.7 826.3,337.5 835.5,340.5 844.6,343.6 853.6,347.0 862.6,350.6 871.5,354.5 880.3,358.5 889.1,362.7 897.7,367.2 906.2,371.8 914.7,376.6 923.0,381.7 931.2,386.9 939.2,392.3 947.2,398.0 955.0,403.8 962.7,409.7 970.3,415.9 977.7,422.3 985.0,428.8 992.1,435.5 999.1,442.3 1005.9,449.4 1012.5,456.6 1019.0,463.9 1025.3,471.4 1031.5,479.0 1037.4,486.8 1043.2,494.8 1048.8,502.9 1054.2,511.1 1059.5,519.4 1064.5,527.9 1069.3,536.4 1074.0,545.1 1078.4,553.9 1082.6,562.8 1086.7,571.9 1090.5,581.0 1094.1,590.2 1097.5,599.5 1100.7,608.8 1103.7,618.3 1106.4,627.8 1108.9,637.4 1111.2,647.0 1113.3,656.8 1115.2,666.5 1116.8,676.3 1118.2,686.2 1119.4,696.0 1120.3,706.0 1121.0,715.9 1121.5,725.8 1121.7,735.8 1121.7,745.8 1121.5,755.8 1121.1,765.8 1120.4,775.7 1119.5,785.7 1118.3,795.6 1116.9,805.6 1115.3,815.5 1113.5,825.3 1111.4,835.1 1109.1,844.9 1106.6,854.6 1103.8,864.3 1100.8,873.9 1097.6,883.4 1094.2,892.9 1090.5,902.3 1086.6,911.6 1082.5,920.8 1078.2,929.9 1073.7,939.0 1069.0,947.9 1064.0,956.7 1058.9,965.4 1053.5,974.0 1048.0,982.5 1042.2,990.8 1036.3,999.0 1030.1,1007.1 1023.8,1015.0 1017.3,1022.8 1010.6,1030.4 1003.7,1037.9 996.6,1045.2 989.4,1052.4 982.0,1059.4 974.4,1066.2 966.7,1072.9 958.8,1079.3 950.7,1085.6 942.6,1091.7 934.2,1097.7 925.8,1103.4 917.1,1108.9 908.4,1114.2 899.5,1119.4 890.5,1124.3 881.4,1129.0 872.2,1133.5 862.9,1137.8 853.4,1141.9 843.9,1145.7 834.3,1149.4 824.6,1152.8 814.8,1156.0 804.9,1158.9 795.0,1161.7 785.0,1164.2 774.9,1166.4 764.8,1168.5 754.6,1170.3 744.4,1171.8 734.1,1173.1 723.8,1174.2 713.5,1175.1 703.2,1175.7 692.8,1176.1 682.4,1176.2 672.1,1176.1 661.7,1175.7 651.3,1175.1 640.9,1174.3 630.6,1173.2 620.3,1171.8 610.0,1170.3 599.7,1168.5 589.5,1166.4 579.3,1164.1 569.2,1161.6 559.1,1158.9 549.1,1155.9 539.1,1152.6 529.3,1149.2 519.5,1145.5 509.8,1141.5 500.1,1137.4 490.6,1133.0 481.2,1128.4 471.8,1123.6 462.6,1118.6 453.5,1113.3 444.5,1107.8 435.7,1102.2 427.0,1096.3 418.4,1090.2 409.9,1083.9 401.6,1077.4 393.4,1070.7 385.4,1063.8 377.6,1056.8 369.9,1049.5 362.4,1042.1 355.0,1034.5 347.9,1026.7 340.9,1018.7 334.1,1010.6 327.4,1002.3 321.0,993.9 314.8,985.3 308.7,976.6 302.9,967.7 297.3,958.7 291.8,949.5 286.6,940.2 281.6,930.8 276.8,921.3 272.3,911.7 267.9,901.9 263.8,892.1 260.0,882.1 256.3,872.1 252.9,861.9 249.7,851.7 246.8,841.4 244.0,831.1 241.6,820.6 239.4,810.2 237.4,799.6 235.6,789.0 234.2,778.4 232.9,767.7 231.9,757.0 231.2,746.3 230.7,735.5 230.4,724.8 230.4,714.0 230.7,703.2 231.2,692.4 232.0,681.7 233.0,670.9 234.2,660.2 235.7,649.5 237.5,638.8 239.5,628.2 241.8,617.6 244.3,607.0 247.0,596.6 250.0,586.1 253.3,575.8 256.8,565.5 260.5,555.3 264.4,545.2 268.6,535.1 273.1,525.2 277.7,515.4 282.6,505.6 287.8,496.0 293.1,486.5 298.7,477.1 304.5,467.9 310.5,458.8 316.7,449.8 323.1,441.0 329.8,432.3 336.6,423.7 343.7,415.3 350.9,407.1 358.4,399.1 366.0,391.2 373.8,383.5 381.8,375.9 390.0,368.6 398.3,361.5 406.8,354.5 415.5,347.7 424.3,341.2 433.3,334.8 442.5,328.6 451.8,322.7 461.2,317.0 470.8,311.5 480.5,306.2 490.3,301.1 500.2,296.3 510.3,291.7 520.5,287.3 530.7,283.2 541.1,279.3 551.6,275.6 562.1,272.2 572.8,269.0 583.5,266.1 594.2,263.4 605.1,261.0 616.0,258.8 627.0,256.9 638.0,255.3 649.0,253.8 660.1,252.7 671.2,251.8 682.4,251.2 693.5,250.8 704.7,250.7 715.9,250.8 727.0,251.2 738.2,251.9 749.4,252.8 760.5,254.0 771.6,255.5 782.7,257.2 793.7,259.1 804.7,261.4 815.7,263.8 826.6,266.6 837.4,269.6 848.2,272.8 858.9,276.3 869.5,280.0 880.0,284.0 890.5,288.3 900.8,292.7 911.0,297.5 921.2,302.4 931.2,307.6 941.1,313.1 950.9,318.7 960.5,324.6 970.1,330.8 979.4,337.1 988.7,343.7 997.7,350.5 1006.7,357.5 1015.4,364.7 1024.0,372.1 1032.5,379.7 1040.7,387.5 1048.8,395.5 1056.7,403.7 1064.4,412.1 1071.9,420.7 1079.2,429.4 1086.3,438.3 1093.2,447.4 1099.9,456.6 1106.3,466.0 1112.6,475.6 1118.6,485.3 1124.4,495.1 1130.0,505.1 1135.4,515.2 1140.5,525.5 1145.4,535.8 1150.0,546.3 1154.4,556.9 1158.6,567.6 1162.5,578.4 1166.1,589.3 1169.5,600.3 1172.7,611.3 1175.6,622.5 1178.2,633.7 1180.6,644.9 1182.7,656.3 1184.5,667.6 1186.1,679.1 1187.4,690.5 1188.5,702.0 1189.3,713.6 1189.8,725.1 1190.0,736.7 1190.0,748.2 1189.7,759.8 1189.1,771.4 1188.3,782.9 1187.2,794.5 1185.8,806.0 1184.2,817.5 1182.3,828.9 1180.1,840.3 1177.7,851.7 1174.9,863.0 1172.0,874.3 1168.7,885.4 1165.2,896.5 1161.5,907.6 1157.5,918.5 1153.2,929.4 1148.7,940.1 1143.9,950.8 1138.9,961.3 1133.6,971.8 1128.1,982.1 1122.4,992.3 1116.4,1002.3 1110.1,1012.2 1103.7,1022.0 1097.0,1031.6 1090.1,1041.1 1082.9,1050.4 1075.6,1059.6 1068.0,1068.5 1060.2,1077.3 1052.2,1086.0 1044.0,1094.4 1035.6,1102.7 1027.0,1110.7 1018.3,1118.6 1009.3,1126.2 1000.2,1133.7 990.9,1140.9 981.4,1147.9 971.7,1154.7 961.9,1161.3 951.9,1167.7 941.8,1173.8 931.5,1179.7 921.1,1185.4 910.6,1190.8 899.9,1195.9 889.2,1200.8 878.2,1205.5 867.2,1209.9 856.1,1214.1 844.9,1218.0 833.6,1221.6 822.2,1225.0 810.7,1228.1 799.1,1231.0 787.5,1233.6 775.8,1235.9 764.1,1237.9 752.3,1239.7 740.4,1241.2 728.5,1242.4 716.6,1243.3 704.7,1244.0 692.8,1244.4 680.8,1244.5 668.8,1244.3 656.9,1243.8 644.9,1243.1 633.0,1242.1 621.0,1240.8 609.1,1239.2 597.3,1237.4 585.4,1235.3 573.7,1232.9 562.0,1230.2 550.3,1227.3 538.7,1224.0 527.2,1220.5 515.7,1216.8 504.4,1212.8 493.1,1208.5 481.9,1203.9 470.9,1199.1 459.9,1194.0 449.1,1188.7 438.3,1183.1 427.7,1177.3 417.3,1171.2 407.0,1164.9 396.8,1158.3 386.8,1151.5 376.9,1144.5 367.2,1137.2 357.7,1129.7 348.3,1122.0 339.1,1114.0 330.1,1105.9 321.3,1097.5 312.7,1088.9 304.2,1080.1 296.0,1071.1 288.0,1062.0 280.2,1052.6 272.6,1043.1 265.3,1033.3 258.1,1023.4 251.2,1013.4 244.5,1003.2 238.1,992.8 231.9,982.2 225.9,971.5 220.2,960.7 214.8,949.8 209.5,938.7 204.6,927.4 199.9,916.1 195.5,904.7 191.3,893.1 187.4,881.5 183.8,869.7 180.5,857.9 177.4,846.0 174.6,834.0 172.1,822.0 169.8,809.8 167.9,797.7 166.2,785.5 164.8,773.2 163.7,760.9 162.9,748.6 162.4,736.3 162.1,723.9 162.2,711.5 162.5,699.2 163.1,686.8 164.0,674.5 165.2,662.1 166.7,649.8 168.5,637.6 170.5,625.3 172.9,613.1 175.5,601.0 178.4,588.9 181.6,576.9 185.1,565.0 188.8,553.1 192.9,541.3 197.2,529.7 201.7,518.1 206.6,506.6 211.7,495.2 217.1,484.0 222.7,472.8 228.6,461.8 234.8,451.0 241.2,440.2 247.9,429.7 254.8,419.2 262.0,409.0 269.3,398.9 277.0,388.9 284.9,379.2 293.0,369.6 301.3,360.2 309.8,351.0 318.6,342.0 327.5,333.2 336.7,324.6 346.1,316.3 355.7,308.1 365.4,300.1 375.4,292.4 385.5,285.0 395.8,277.7 406.3,270.7 417.0,263.9 427.8,257.4 438.7,251.1 449.9,245.1 461.1,239.4 472.5,233.9 484.0,228.6 495.7,223.7 507.4,219.0 519.3,214.5 531.3,210.4 543.3,206.5 555.5,202.9 567.8,199.6 580.1,196.6 592.5,193.9 605.0,191.4 617.5,189.3 630.1,187.4 642.7,185.8 655.4,184.6 668.1,183.6 680.8,182.9 693.6,182.5 706.3,182.4 719.1,182.6 731.9,183.1 744.6,183.9 757.3,185.0 770.1,186.4 782.7,188.1 795.4,190.1 808.0,192.3 820.5,194.9 833.0,197.8 845.4,200.9 857.8,204.4 870.1,208.1 882.3,212.1 894.4,216.4 906.4,221.0 918.3,225.9 930.1,231.0 941.7,236.5 953.3,242.2 964.7,248.1 976.0,254.4 987.1,260.8 998.1,267.6 1008.9,274.6 1019.6,281.9 1030.1,289.4 1040.5,297.2 1050.6,305.2 1060.6,313.4 1070.4,321.9 1079.9,330.6 1089.3,339.5 1098.5,348.7 1107.5,358.0 1116.2,367.6 1124.7,377.4 1133.0,387.4 1141.1,397.6 1148.9,407.9 1156.5,418.5 1163.9,429.2 1171.0,440.1 1177.8,451.2 1184.4,462.4 1190.7,473.8 1196.8,485.3 1202.6,497.0 1208.1,508.8 1213.4,520.8 1218.3,532.9 1223.0,545.0 1227.5,557.4 1231.6,569.8 1235.4,582.3 1239.0,594.9 1242.2,607.5 1245.2,620.3 1247.8,633.1 1250.2,646.0 1252.3,659.0 1254.0,672.0 1255.5,685.0 1256.7,698.1 1257.5,711.2 1258.1,724.4 1258.3,737.5 1258.2,750.7 1257.9,763.8 1257.2,777.0 1256.2,790.1 1254.9,803.2 1253.3,816.3 1251.4,829.4 1249.2,842.4 1246.7,855.4 1243.9,868.3 1240.8,881.1 1237.4,893.9 1233.7,906.6 1229.7,919.2 1225.4,931.7 1220.8,944.2 1215.9,956.5 1210.7,968.7 1205.3,980.8 1199.5,992.7 1193.5,1004.6 1187.2,1016.3 1180.7,1027.8 1173.8,1039.2 1166.7,1050.5 1159.4,1061.5 1151.7,1072.5 1143.8,1083.2 1135.7,1093.7 1127.3,1104.1 1118.7,1114.3 1109.8,1124.2 1100.8,1134.0 1091.4,1143.6 1081.9,1152.9 1072.1,1162.0 1062.1,1170.9 1051.9,1179.6 1041.5,1188.0 1031.0,1196.2 1020.2,1204.1 1009.2,1211.8 998.0,1219.3 986.7,1226.5 975.2,1233.4 963.6,1240.0 951.7,1246.4 939.8,1252.5 927.7,1258.3 915.4,1263.9 903.0,1269.2 890.5,1274.1 877.9,1278.8 865.2,1283.2 852.3,1287.3 839.4,1291.1 826.4,1294.6 813.3,1297.8 800.1,1300.7 786.8,1303.3 773.5,1305.5 760.1,1307.5 746.7,1309.2 733.3,1310.5 719.8,1311.5 706.2,1312.3 692.7,1312.7 679.1,1312.7 665.6,1312.5 652.0,1312.0 638.5,1311.1 625.0,1309.9 611.5,1308.4 598.0,1306.6 584.6,1304.5 571.2,1302.1 557.9,1299.3 544.6,1296.3 531.4,1292.9 518.3,1289.2 505.3,1285.2 492.3,1281.0 479.5,1276.4 466.7,1271.5 454.1,1266.3 441.6,1260.8 429.2,1255.0 416.9,1249.0 404.8,1242.6 392.9,1236.0 381.1,1229.1 369.4,1221.9 357.9,1214.5 346.6,1206.7 335.4,1198.7 324.5,1190.5 313.7,1182.0 303.2,1173.2 292.8,1164.2 282.6,1155.0 272.7,1145.5 263.0,1135.7 253.5,1125.8 244.2,1115.6 235.1,1105.2 226.4,1094.6 217.8,1083.8 209.5,1072.8 201.5,1061.6 193.7,1050.2 186.2,1038.6 178.9,1026.9 171.9,1014.9 165.2,1002.9 158.8,990.6 152.7,978.2 146.8,965.7 141.3,953.0 136.0,940.2 131.0,927.2 126.4,914.2 122.0,901.0 117.9,887.7 114.2,874.4 110.8,860.9 107.6,847.4 104.8,833.8 102.3,820.1 100.1,806.3 98.3,792.6 96.8,778.7 95.5,764.8 94.7,750.9 94.1,737.0 93.8,723.1 93.9,709.1 94.3,695.2 95.1,681.2 96.1,667.3 97.5,653.4 99.2,639.5 101.2,625.7 103.6,611.9 106.3,598.1 109.3,584.4 112.6,570.8 116.2,557.3 120.1,543.8 124.4,530.5 129.0,517.2 133.9,504.0 139.1,491.0 144.5,478.0 150.3,465.2 156.4,452.6 162.8,440.0 169.5,427.6 176.5,415.4 183.7,403.3 191.3,391.4 199.1,379.7 207.2,368.1 215.6,356.8 224.2,345.6 233.1,334.6 242.2,323.9 251.6,313.3 261.3,303.0 271.2,292.8 281.3,283.0 291.7,273.3 302.2,263.9 313.0,254.7 324.1,245.8 335.3,237.1 346.7,228.7 358.4,220.6 370.2,212.7 382.2,205.2 394.4,197.8 406.7,190.8 419.2,184.1 431.9,177.6 444.8,171.4 457.7,165.6 470.9,160.0 484.1,154.8 497.5,149.8 511.0,145.2 524.6,140.9 538.3,136.9 552.1,133.2 566.0,129.8 579.9,126.7" fill="none" stroke="#000" stroke-width="1"/>
<line x1="531.0" y1="517.5" x2="506.9" y2="486.0" stroke="#000" stroke-width="1.7"/>
<line x1="583.4" y1="483.5" x2="567.3" y2="447.3" stroke="#000" stroke-width="1.7"/>
<line x1="642.9" y1="462.4" x2="635.3" y2="421.9" stroke="#000" stroke-width="1.7"/>
<line x1="706.2" y1="455.5" x2="708.1" y2="414.4" stroke="#000" stroke-width="1.7"/>
<line x1="769.9" y1="463.5" x2="781.2" y2="424.3" stroke="#000" stroke-width="1.7"/>
<line x1="830.7" y1="486.2" x2="848.8" y2="454.0" stroke="#000" stroke-width="1.7"/>
<line x1="885.0" y1="522.6" x2="912.4" y2="492.9" stroke="#000" stroke-width="1.7"/>
<line x1="929.9" y1="571.1" x2="963.4" y2="548.5" stroke="#000" stroke-width="1.7"/>
<line x1="962.7" y1="629.1" x2="995.4" y2="616.7" stroke="#000" stroke-width="1.7"/>
<line x1="981.3" y1="693.6" x2="1013.0" y2="689.6" stroke="#000" stroke-width="1.7"/>
<line x1="984.5" y1="761.4" x2="1016.3" y2="764.7" stroke="#000" stroke-width="1.7"/>
<line x1="972.0" y1="828.6" x2="1000.6" y2="838.6" stroke="#000" stroke-width="1.7"/>
<line x1="944.0" y1="891.6" x2="967.9" y2="907.0" stroke="#000" stroke-width="1.7"/>
<line x1="901.8" y1="946.9" x2="920.5" y2="966.3" stroke="#000" stroke-width="1.7"/>
<line x1="847.6" y1="991.4" x2="861.3" y2="1014.5" stroke="#000" stroke-width="1.7"/>
<line x1="784.0" y1="1022.4" x2="791.7" y2="1047.0" stroke="#000" stroke-width="1.7"/>
<line x1="714.4" y1="1038.0" x2="716.1" y2="1062.5" stroke="#000" stroke-width="1.7"/>
<line x1="642.5" y1="1037.1" x2="638.6" y2="1060.6" stroke="#000" stroke-width="1.7"/>
<line x1="572.2" y1="1019.5" x2="563.0" y2="1041.5" stroke="#000" stroke-width="1.7"/>
<line x1="507.3" y1="985.8" x2="494.2" y2="1003.9" stroke="#000" stroke-width="1.7"/>
<line x1="451.5" y1="937.7" x2="434.6" y2="952.3" stroke="#000" stroke-width="1.7"/>
<line x1="408.0" y1="877.6" x2="388.5" y2="887.7" stroke="#000" stroke-width="1.7"/>
<line x1="379.3" y1="808.5" x2="357.7" y2="813.9" stroke="#000" stroke-width="1.7"/>
<line x1="367.3" y1="734.0" x2="338.0" y2="734.4" stroke="#000" stroke-width="1.7"/>
<line x1="372.8" y1="658.2" x2="341.6" y2="651.2" stroke="#000" stroke-width="1.7"/>
<line x1="395.8" y1="585.2" x2="358.8" y2="567.1" stroke="#000" stroke-width="1.7"/>
<line x1="435.4" y1="518.9" x2="403.5" y2="492.8" stroke="#000" stroke-width="1.7"/>
<line x1="489.6" y1="463.2" x2="464.4" y2="430.1" stroke="#000" stroke-width="1.7"/>
<line x1="555.7" y1="421.1" x2="536.6" y2="378.2" stroke="#000" stroke-width="1.7"/>
<line x1="630.3" y1="395.3" x2="621.4" y2="348.0" stroke="#000" stroke-width="1.7"/>
<line x1="709.4" y1="387.3" x2="711.9" y2="334.6" stroke="#000" stroke-width="1.7"/>
<line x1="788.8" y1="397.8" x2="803.4" y2="347.2" stroke="#000" stroke-width="1.7"/>
<line x1="864.2" y1="426.7" x2="887.0" y2="386.1" stroke="#000" stroke-width="1.7"/>
<line x1="931.4" y1="472.4" x2="961.9" y2="439.4" stroke="#000" stroke-width="1.7"/>
<line x1="986.6" y1="532.9" x2="1023.3" y2="508.2" stroke="#000" stroke-width="1.7"/>
<line x1="1026.6" y1="605.0" x2="1065.5" y2="590.4" stroke="#000" stroke-width="1.7"/>
<line x1="1049.0" y1="685.0" x2="1088.3" y2="680.0" stroke="#000" stroke-width="1.7"/>
<line x1="1052.5" y1="768.5" x2="1089.9" y2="772.5" stroke="#000" stroke-width="1.7"/>
<line x1="1036.4" y1="851.2" x2="1061.8" y2="860.2" stroke="#000" stroke-width="1.7"/>
<line x1="1001.4" y1="928.5" x2="1022.5" y2="942.0" stroke="#000" stroke-width="1.7"/>
<line x1="949.2" y1="996.1" x2="963.9" y2="1011.3" stroke="#000" stroke-width="1.7"/>
<line x1="882.3" y1="1050.1" x2="890.8" y2="1064.4" stroke="#000" stroke-width="1.7"/>
<line x1="804.3" y1="1087.6" x2="809.3" y2="1103.7" stroke="#000" stroke-width="1.7"/>
<line x1="719.1" y1="1106.1" x2="720.5" y2="1125.7" stroke="#000" stroke-width="1.7"/>
<line x1="631.4" y1="1104.5" x2="628.1" y2="1124.6" stroke="#000" stroke-width="1.7"/>
<line x1="545.8" y1="1082.5" x2="537.7" y2="1102.0" stroke="#000" stroke-width="1.7"/>
<line x1="467.2" y1="1041.1" x2="454.7" y2="1058.2" stroke="#000" stroke-width="1.7"/>
<line x1="399.7" y1="982.2" x2="383.6" y2="996.0" stroke="#000" stroke-width="1.7"/>
<line x1="347.3" y1="908.9" x2="326.5" y2="919.7" stroke="#000" stroke-width="1.7"/>
<line x1="313.0" y1="825.0" x2="285.4" y2="831.8" stroke="#000" stroke-width="1.7"/>
<line x1="299.0" y1="734.8" x2="267.0" y2="735.1" stroke="#000" stroke-width="1.7"/>
<line x1="306.1" y1="643.2" x2="272.0" y2="635.5" stroke="#000" stroke-width="1.7"/>
<line x1="334.4" y1="555.2" x2="297.1" y2="537.0" stroke="#000" stroke-width="1.7"/>
<line x1="382.6" y1="475.6" x2="346.3" y2="445.8" stroke="#000" stroke-width="1.7"/>
<line x1="448.2" y1="408.8" x2="418.1" y2="369.3" stroke="#000" stroke-width="1.7"/>
<line x1="528.0" y1="358.7" x2="505.0" y2="307.0" stroke="#000" stroke-width="1.7"/>
<line x1="617.7" y1="328.1" x2="606.6" y2="268.8" stroke="#000" stroke-width="1.7"/>
<line x1="712.6" y1="319.1" x2="715.5" y2="258.7" stroke="#000" stroke-width="1.7"/>
<line x1="807.7" y1="332.2" x2="822.9" y2="279.3" stroke="#000" stroke-width="1.7"/>
<line x1="897.7" y1="367.2" x2="925.4" y2="317.9" stroke="#000" stroke-width="1.7"/>
<line x1="977.7" y1="422.3" x2="1018.7" y2="377.9" stroke="#000" stroke-width="1.7"/>
<line x1="1043.2" y1="494.8" x2="1093.3" y2="461.0" stroke="#000" stroke-width="1.7"/>
<line x1="1090.5" y1="581.0" x2="1144.2" y2="560.8" stroke="#000" stroke-width="1.7"/>
<line x1="1116.8" y1="676.3" x2="1166.0" y2="670.0" stroke="#000" stroke-width="1.7"/>
<line x1="1120.4" y1="775.7" x2="1157.5" y2="779.7" stroke="#000" stroke-width="1.7"/>
<line x1="1100.8" y1="873.9" x2="1130.9" y2="884.5" stroke="#000" stroke-width="1.7"/>
<line x1="1058.9" y1="965.4" x2="1085.8" y2="982.7" stroke="#000" stroke-width="1.7"/>
<line x1="996.6" y1="1045.2" x2="1015.3" y2="1064.6" stroke="#000" stroke-width="1.7"/>
<line x1="917.1" y1="1108.9" x2="930.7" y2="1131.8" stroke="#000" stroke-width="1.7"/>
<line x1="824.6" y1="1152.8" x2="832.0" y2="1176.7" stroke="#000" stroke-width="1.7"/>
<line x1="723.8" y1="1174.2" x2="725.8" y2="1202.3" stroke="#000" stroke-width="1.7"/>
<line x1="620.3" y1="1171.8" x2="614.8" y2="1204.9" stroke="#000" stroke-width="1.7"/>
<line x1="519.5" y1="1145.5" x2="505.2" y2="1179.5" stroke="#000" stroke-width="1.7"/>
<line x1="427.0" y1="1096.3" x2="402.7" y2="1129.6" stroke="#000" stroke-width="1.7"/>
<line x1="347.9" y1="1026.7" x2="316.6" y2="1053.5" stroke="#000" stroke-width="1.7"/>
<line x1="286.6" y1="940.2" x2="240.8" y2="963.9" stroke="#000" stroke-width="1.7"/>
<line x1="246.8" y1="841.4" x2="188.1" y2="856.0" stroke="#000" stroke-width="1.7"/>
<line x1="230.7" y1="735.5" x2="168.0" y2="736.2" stroke="#000" stroke-width="1.7"/>
<line x1="239.5" y1="628.2" x2="178.3" y2="614.4" stroke="#000" stroke-width="1.7"/>
<line x1="273.1" y1="525.2" x2="220.2" y2="499.4" stroke="#000" stroke-width="1.7"/>
<line x1="329.8" y1="432.3" x2="284.6" y2="395.2" stroke="#000" stroke-width="1.7"/>
<line x1="406.8" y1="354.5" x2="371.4" y2="308.0" stroke="#000" stroke-width="1.7"/>
<line x1="500.2" y1="296.3" x2="476.8" y2="243.5" stroke="#000" stroke-width="1.7"/>
<line x1="605.1" y1="261.0" x2="594.5" y2="204.3" stroke="#000" stroke-width="1.7"/>
<line x1="715.9" y1="250.8" x2="718.5" y2="194.7" stroke="#000" stroke-width="1.7"/>
<line x1="826.6" y1="266.6" x2="841.1" y2="215.9" stroke="#000" stroke-width="1.7"/>
<line x1="931.2" y1="307.6" x2="955.9" y2="263.7" stroke="#000" stroke-width="1.7"/>
<line x1="1024.0" y1="372.1" x2="1058.2" y2="335.0" stroke="#000" stroke-width="1.7"/>
<line x1="1099.9" y1="456.6" x2="1141.3" y2="428.7" stroke="#000" stroke-width="1.7"/>
<line x1="1154.4" y1="556.9" x2="1200.9" y2="539.4" stroke="#000" stroke-width="1.7"/>
<line x1="1184.5" y1="667.6" x2="1233.0" y2="661.5" stroke="#000" stroke-width="1.7"/>
<line x1="1188.3" y1="782.9" x2="1236.5" y2="788.0" stroke="#000" stroke-width="1.7"/>
<line x1="1165.2" y1="896.5" x2="1205.2" y2="910.6" stroke="#000" stroke-width="1.7"/>
<line x1="1116.4" y1="1002.3" x2="1146.8" y2="1021.9" stroke="#000" stroke-width="1.7"/>
<line x1="1044.0" y1="1094.4" x2="1068.9" y2="1120.2" stroke="#000" stroke-width="1.7"/>
<line x1="951.9" y1="1167.7" x2="971.5" y2="1200.8" stroke="#000" stroke-width="1.7"/>
<line x1="844.9" y1="1218.0" x2="857.0" y2="1256.9" stroke="#000" stroke-width="1.7"/>
<line x1="728.5" y1="1242.4" x2="731.4" y2="1283.1" stroke="#000" stroke-width="1.7"/>
<line x1="609.1" y1="1239.2" x2="602.4" y2="1279.8" stroke="#000" stroke-width="1.7"/>
<line x1="493.1" y1="1208.5" x2="476.9" y2="1247.2" stroke="#000" stroke-width="1.7"/>
<line x1="386.8" y1="1151.5" x2="360.1" y2="1188.2" stroke="#000" stroke-width="1.7"/>
<line x1="296.0" y1="1071.1" x2="261.6" y2="1100.7" stroke="#000" stroke-width="1.7"/>
<line x1="225.9" y1="971.5" x2="186.3" y2="992.0" stroke="#000" stroke-width="1.7"/>
<line x1="180.5" y1="857.9" x2="133.8" y2="869.5" stroke="#000" stroke-width="1.7"/>
<line x1="162.4" y1="736.3" x2="114.3" y2="736.8" stroke="#000" stroke-width="1.7"/>
<line x1="172.9" y1="613.1" x2="126.7" y2="602.7" stroke="#000" stroke-width="1.7"/>
<line x1="211.7" y1="495.2" x2="172.0" y2="475.8" stroke="#000" stroke-width="1.7"/>
<line x1="277.0" y1="388.9" x2="241.3" y2="359.6" stroke="#000" stroke-width="1.7"/>
<line x1="365.4" y1="300.1" x2="337.5" y2="263.4" stroke="#000" stroke-width="1.7"/>
<line x1="472.5" y1="233.9" x2="455.2" y2="194.8" stroke="#000" stroke-width="1.7"/>
<line x1="592.5" y1="193.9" x2="584.9" y2="153.4" stroke="#000" stroke-width="1.7"/>
<line x1="719.1" y1="182.6" x2="720.9" y2="145.3" stroke="#000" stroke-width="1.7"/>
<line x1="845.4" y1="200.9" x2="856.1" y2="164.0" stroke="#000" stroke-width="1.7"/>
<line x1="964.7" y1="248.1" x2="983.6" y2="214.6" stroke="#000" stroke-width="1.7"/>
<line x1="1070.4" y1="321.9" x2="1096.4" y2="293.6" stroke="#000" stroke-width="1.7"/>
<line x1="1156.5" y1="418.5" x2="1188.4" y2="397.0" stroke="#000" stroke-width="1.7"/>
<line x1="1218.3" y1="532.9" x2="1258.0" y2="518.0" stroke="#000" stroke-width="1.7"/>
<line x1="1252.3" y1="659.0" x2="1299.2" y2="653.0" stroke="#000" stroke-width="1.7"/>
<line x1="1256.2" y1="790.1" x2="1304.4" y2="795.2" stroke="#000" stroke-width="1.7"/>
<line x1="1229.7" y1="919.2" x2="1277.9" y2="936.2" stroke="#000" stroke-width="1.7"/>
<line x1="1173.8" y1="1039.2" x2="1216.9" y2="1066.9" stroke="#000" stroke-width="1.7"/>
<line x1="1091.4" y1="1143.6" x2="1125.1" y2="1178.5" stroke="#000" stroke-width="1.7"/>
<line x1="986.7" y1="1226.5" x2="1011.8" y2="1268.8" stroke="#000" stroke-width="1.7"/>
<line x1="865.2" y1="1283.2" x2="880.2" y2="1331.3" stroke="#000" stroke-width="1.7"/>
<line x1="733.3" y1="1310.5" x2="736.7" y2="1360.8" stroke="#000" stroke-width="1.7"/>
<line x1="598.0" y1="1306.6" x2="590.2" y2="1354.1" stroke="#000" stroke-width="1.7"/>
<line x1="466.7" y1="1271.5" x2="449.8" y2="1311.9" stroke="#000" stroke-width="1.7"/>
<line x1="346.6" y1="1206.7" x2="320.8" y2="1242.2" stroke="#000" stroke-width="1.7"/>
<line x1="244.2" y1="1115.6" x2="210.6" y2="1144.4" stroke="#000" stroke-width="1.7"/>
<line x1="165.2" y1="1002.9" x2="125.9" y2="1023.1" stroke="#000" stroke-width="1.7"/>
<line x1="114.2" y1="874.4" x2="73.1" y2="884.6" stroke="#000" stroke-width="1.7"/>
<line x1="94.1" y1="737.0" x2="54.5" y2="737.4" stroke="#000" stroke-width="1.7"/>
<line x1="106.3" y1="598.1" x2="67.6" y2="589.4" stroke="#000" stroke-width="1.7"/>
<line x1="150.3" y1="465.2" x2="114.7" y2="447.8" stroke="#000" stroke-width="1.7"/>
<line x1="224.2" y1="345.6" x2="194.8" y2="321.4" stroke="#000" stroke-width="1.7"/>
<line x1="324.1" y1="245.8" x2="301.7" y2="216.4" stroke="#000" stroke-width="1.7"/>
<line x1="444.8" y1="171.4" x2="429.1" y2="136.3" stroke="#000" stroke-width="1.7"/>
<line x1="579.9" y1="126.7" x2="572.8" y2="88.9" stroke="#000" stroke-width="1.7"/>
<line x1="542.5" y1="515.9" x2="536.2" y2="506.9" stroke="#b4b4b4" stroke-width="1"/>
<line x1="595.1" y1="484.6" x2="591.1" y2="474.4" stroke="#b4b4b4" stroke-width="1"/>
<line x1="654.1" y1="466.2" x2="652.5" y2="455.3" stroke="#b4b4b4" stroke-width="1"/>
<line x1="716.3" y1="461.8" x2="717.3" y2="450.8" stroke="#b4b4b4" stroke-width="1"/>
<line x1="778.5" y1="472.0" x2="781.9" y2="461.5" stroke="#b4b4b4" stroke-width="1"/>
<line x1="837.1" y1="496.5" x2="842.9" y2="487.1" stroke="#b4b4b4" stroke-width="1"/>
<line x1="889.0" y1="534.2" x2="896.8" y2="526.4" stroke="#b4b4b4" stroke-width="1"/>
<line x1="931.2" y1="583.3" x2="940.5" y2="577.5" stroke="#b4b4b4" stroke-width="1"/>
<line x1="961.1" y1="641.4" x2="971.5" y2="637.9" stroke="#b4b4b4" stroke-width="1"/>
<line x1="976.9" y1="705.3" x2="987.9" y2="704.4" stroke="#b4b4b4" stroke-width="1"/>
<line x1="977.6" y1="771.8" x2="988.5" y2="773.4" stroke="#b4b4b4" stroke-width="1"/>
<line x1="962.8" y1="837.2" x2="973.0" y2="841.3" stroke="#b4b4b4" stroke-width="1"/>
<line x1="932.9" y1="898.0" x2="942.0" y2="904.3" stroke="#b4b4b4" stroke-width="1"/>
<line x1="889.5" y1="950.7" x2="896.9" y2="958.9" stroke="#b4b4b4" stroke-width="1"/>
<line x1="834.7" y1="992.2" x2="839.9" y2="1001.9" stroke="#b4b4b4" stroke-width="1"/>
<line x1="771.2" y1="1020.3" x2="774.0" y2="1030.9" stroke="#b4b4b4" stroke-width="1"/>
<line x1="702.3" y1="1033.0" x2="702.6" y2="1044.0" stroke="#b4b4b4" stroke-width="1"/>
<line x1="631.8" y1="1029.4" x2="629.6" y2="1040.2" stroke="#b4b4b4" stroke-width="1"/>
<line x1="563.4" y1="1009.5" x2="558.8" y2="1019.5" stroke="#b4b4b4" stroke-width="1"/>
<line x1="501.0" y1="974.1" x2="494.2" y2="982.7" stroke="#b4b4b4" stroke-width="1"/>
<line x1="448.1" y1="924.8" x2="439.4" y2="931.6" stroke="#b4b4b4" stroke-width="1"/>
<line x1="407.6" y1="864.1" x2="397.6" y2="868.7" stroke="#b4b4b4" stroke-width="1"/>
<line x1="382.0" y1="795.1" x2="371.2" y2="797.4" stroke="#b4b4b4" stroke-width="1"/>
<line x1="373.0" y1="721.6" x2="362.0" y2="721.2" stroke="#b4b4b4" stroke-width="1"/>
<line x1="381.2" y1="647.3" x2="370.6" y2="644.5" stroke="#b4b4b4" stroke-width="1"/>
<line x1="406.6" y1="576.4" x2="396.9" y2="571.2" stroke="#b4b4b4" stroke-width="1"/>
<line x1="447.9" y1="512.8" x2="439.7" y2="505.5" stroke="#b4b4b4" stroke-width="1"/>
<line x1="503.3" y1="460.0" x2="497.0" y2="451.0" stroke="#b4b4b4" stroke-width="1"/>
<line x1="569.9" y1="421.2" x2="565.8" y2="411.0" stroke="#b4b4b4" stroke-width="1"/>
<line x1="644.1" y1="398.6" x2="642.5" y2="387.7" stroke="#b4b4b4" stroke-width="1"/>
<line x1="722.2" y1="393.7" x2="723.2" y2="382.8" stroke="#b4b4b4" stroke-width="1"/>
<line x1="799.9" y1="407.1" x2="803.3" y2="396.7" stroke="#b4b4b4" stroke-width="1"/>
<line x1="872.9" y1="438.3" x2="878.7" y2="428.9" stroke="#b4b4b4" stroke-width="1"/>
<line x1="937.3" y1="485.8" x2="945.0" y2="478.0" stroke="#b4b4b4" stroke-width="1"/>
<line x1="989.3" y1="547.4" x2="998.6" y2="541.6" stroke="#b4b4b4" stroke-width="1"/>
<line x1="1025.9" y1="619.8" x2="1036.3" y2="616.3" stroke="#b4b4b4" stroke-width="1"/>
<line x1="1045.0" y1="699.3" x2="1055.9" y2="698.3" stroke="#b4b4b4" stroke-width="1"/>
<line x1="1045.2" y1="781.6" x2="1056.1" y2="783.2" stroke="#b4b4b4" stroke-width="1"/>
<line x1="1026.3" y1="862.4" x2="1036.5" y2="866.4" stroke="#b4b4b4" stroke-width="1"/>
<line x1="988.9" y1="937.1" x2="998.0" y2="943.4" stroke="#b4b4b4" stroke-width="1"/>
<line x1="935.0" y1="1001.6" x2="942.3" y2="1009.8" stroke="#b4b4b4" stroke-width="1"/>
<line x1="867.2" y1="1052.3" x2="872.4" y2="1062.0" stroke="#b4b4b4" stroke-width="1"/>
<line x1="788.9" y1="1086.2" x2="791.8" y2="1096.8" stroke="#b4b4b4" stroke-width="1"/>
<line x1="704.4" y1="1101.2" x2="704.7" y2="1112.2" stroke="#b4b4b4" stroke-width="1"/>
<line x1="618.1" y1="1096.3" x2="615.8" y2="1107.1" stroke="#b4b4b4" stroke-width="1"/>
<line x1="534.7" y1="1071.4" x2="530.0" y2="1081.4" stroke="#b4b4b4" stroke-width="1"/>
<line x1="458.7" y1="1027.7" x2="451.9" y2="1036.3" stroke="#b4b4b4" stroke-width="1"/>
<line x1="394.5" y1="967.2" x2="385.9" y2="974.0" stroke="#b4b4b4" stroke-width="1"/>
<line x1="345.7" y1="893.0" x2="335.7" y2="897.7" stroke="#b4b4b4" stroke-width="1"/>
<line x1="315.1" y1="809.0" x2="304.4" y2="811.3" stroke="#b4b4b4" stroke-width="1"/>
<line x1="304.7" y1="719.6" x2="293.7" y2="719.3" stroke="#b4b4b4" stroke-width="1"/>
<line x1="315.2" y1="629.7" x2="304.6" y2="626.9" stroke="#b4b4b4" stroke-width="1"/>
<line x1="346.4" y1="544.1" x2="336.7" y2="538.9" stroke="#b4b4b4" stroke-width="1"/>
<line x1="396.9" y1="467.4" x2="388.6" y2="460.1" stroke="#b4b4b4" stroke-width="1"/>
<line x1="464.1" y1="404.1" x2="457.7" y2="395.1" stroke="#b4b4b4" stroke-width="1"/>
<line x1="544.6" y1="357.8" x2="540.5" y2="347.5" stroke="#b4b4b4" stroke-width="1"/>
<line x1="634.2" y1="331.0" x2="632.6" y2="320.1" stroke="#b4b4b4" stroke-width="1"/>
<line x1="728.1" y1="325.7" x2="729.0" y2="314.7" stroke="#b4b4b4" stroke-width="1"/>
<line x1="821.3" y1="342.2" x2="824.8" y2="331.8" stroke="#b4b4b4" stroke-width="1"/>
<line x1="908.7" y1="380.1" x2="914.5" y2="370.7" stroke="#b4b4b4" stroke-width="1"/>
<line x1="985.5" y1="437.5" x2="993.3" y2="429.7" stroke="#b4b4b4" stroke-width="1"/>
<line x1="1047.3" y1="511.5" x2="1056.7" y2="505.7" stroke="#b4b4b4" stroke-width="1"/>
<line x1="1090.7" y1="598.3" x2="1101.1" y2="594.8" stroke="#b4b4b4" stroke-width="1"/>
<line x1="1113.0" y1="693.3" x2="1124.0" y2="692.3" stroke="#b4b4b4" stroke-width="1"/>
<line x1="1112.8" y1="791.5" x2="1123.7" y2="793.0" stroke="#b4b4b4" stroke-width="1"/>
<line x1="1089.8" y1="887.5" x2="1100.0" y2="891.6" stroke="#b4b4b4" stroke-width="1"/>
<line x1="1044.9" y1="976.2" x2="1053.9" y2="982.5" stroke="#b4b4b4" stroke-width="1"/>
<line x1="980.5" y1="1052.6" x2="987.8" y2="1060.8" stroke="#b4b4b4" stroke-width="1"/>
<line x1="899.6" y1="1112.4" x2="904.9" y2="1122.1" stroke="#b4b4b4" stroke-width="1"/>
<line x1="806.7" y1="1152.2" x2="809.5" y2="1162.8" stroke="#b4b4b4" stroke-width="1"/>
<line x1="706.4" y1="1169.5" x2="706.8" y2="1180.5" stroke="#b4b4b4" stroke-width="1"/>
<line x1="604.3" y1="1163.2" x2="602.1" y2="1174.0" stroke="#b4b4b4" stroke-width="1"/>
<line x1="505.9" y1="1133.4" x2="501.2" y2="1143.3" stroke="#b4b4b4" stroke-width="1"/>
<line x1="416.4" y1="1081.3" x2="409.6" y2="1089.9" stroke="#b4b4b4" stroke-width="1"/>
<line x1="341.0" y1="1009.6" x2="332.4" y2="1016.4" stroke="#b4b4b4" stroke-width="1"/>
<line x1="283.8" y1="921.9" x2="273.9" y2="926.6" stroke="#b4b4b4" stroke-width="1"/>
<line x1="248.3" y1="822.9" x2="237.5" y2="825.1" stroke="#b4b4b4" stroke-width="1"/>
<line x1="236.4" y1="717.7" x2="225.4" y2="717.4" stroke="#b4b4b4" stroke-width="1"/>
<line x1="249.2" y1="612.1" x2="238.6" y2="609.3" stroke="#b4b4b4" stroke-width="1"/>
<line x1="286.3" y1="511.7" x2="276.6" y2="506.5" stroke="#b4b4b4" stroke-width="1"/>
<line x1="345.8" y1="422.1" x2="337.6" y2="414.8" stroke="#b4b4b4" stroke-width="1"/>
<line x1="424.8" y1="348.2" x2="418.5" y2="339.2" stroke="#b4b4b4" stroke-width="1"/>
<line x1="519.3" y1="294.3" x2="515.2" y2="284.1" stroke="#b4b4b4" stroke-width="1"/>
<line x1="624.2" y1="263.5" x2="622.6" y2="252.6" stroke="#b4b4b4" stroke-width="1"/>
<line x1="734.0" y1="257.6" x2="734.9" y2="246.7" stroke="#b4b4b4" stroke-width="1"/>
<line x1="842.7" y1="277.4" x2="846.2" y2="266.9" stroke="#b4b4b4" stroke-width="1"/>
<line x1="944.5" y1="321.9" x2="950.3" y2="312.6" stroke="#b4b4b4" stroke-width="1"/>
<line x1="1033.7" y1="389.1" x2="1041.5" y2="381.3" stroke="#b4b4b4" stroke-width="1"/>
<line x1="1105.4" y1="475.5" x2="1114.8" y2="469.8" stroke="#b4b4b4" stroke-width="1"/>
<line x1="1155.5" y1="576.7" x2="1166.0" y2="573.2" stroke="#b4b4b4" stroke-width="1"/>
<line x1="1181.0" y1="687.2" x2="1192.0" y2="686.3" stroke="#b4b4b4" stroke-width="1"/>
<line x1="1180.4" y1="801.3" x2="1191.3" y2="802.9" stroke="#b4b4b4" stroke-width="1"/>
<line x1="1153.3" y1="912.7" x2="1163.5" y2="916.7" stroke="#b4b4b4" stroke-width="1"/>
<line x1="1100.9" y1="1015.3" x2="1109.9" y2="1021.6" stroke="#b4b4b4" stroke-width="1"/>
<line x1="1025.9" y1="1103.6" x2="1033.3" y2="1111.8" stroke="#b4b4b4" stroke-width="1"/>
<line x1="932.1" y1="1172.5" x2="937.4" y2="1182.2" stroke="#b4b4b4" stroke-width="1"/>
<line x1="824.4" y1="1218.1" x2="827.3" y2="1228.7" stroke="#b4b4b4" stroke-width="1"/>
<line x1="708.5" y1="1237.8" x2="708.8" y2="1248.8" stroke="#b4b4b4" stroke-width="1"/>
<line x1="590.6" y1="1230.1" x2="588.4" y2="1240.9" stroke="#b4b4b4" stroke-width="1"/>
<line x1="477.1" y1="1195.3" x2="472.4" y2="1205.3" stroke="#b4b4b4" stroke-width="1"/>
<line x1="374.1" y1="1134.9" x2="367.3" y2="1143.6" stroke="#b4b4b4" stroke-width="1"/>
<line x1="287.5" y1="1052.0" x2="278.9" y2="1058.9" stroke="#b4b4b4" stroke-width="1"/>
<line x1="222.0" y1="950.9" x2="212.0" y2="955.5" stroke="#b4b4b4" stroke-width="1"/>
<line x1="181.4" y1="836.8" x2="170.6" y2="839.0" stroke="#b4b4b4" stroke-width="1"/>
<line x1="168.1" y1="715.8" x2="157.1" y2="715.5" stroke="#b4b4b4" stroke-width="1"/>
<line x1="183.2" y1="594.5" x2="172.6" y2="591.7" stroke="#b4b4b4" stroke-width="1"/>
<line x1="226.1" y1="479.4" x2="216.4" y2="474.2" stroke="#b4b4b4" stroke-width="1"/>
<line x1="294.7" y1="376.8" x2="286.5" y2="369.4" stroke="#b4b4b4" stroke-width="1"/>
<line x1="385.6" y1="292.3" x2="379.3" y2="283.3" stroke="#b4b4b4" stroke-width="1"/>
<line x1="494.0" y1="230.9" x2="489.9" y2="220.6" stroke="#b4b4b4" stroke-width="1"/>
<line x1="614.2" y1="195.9" x2="612.6" y2="185.0" stroke="#b4b4b4" stroke-width="1"/>
<line x1="739.8" y1="189.6" x2="740.8" y2="178.6" stroke="#b4b4b4" stroke-width="1"/>
<line x1="864.1" y1="212.5" x2="867.6" y2="202.1" stroke="#b4b4b4" stroke-width="1"/>
<line x1="980.3" y1="263.8" x2="986.1" y2="254.4" stroke="#b4b4b4" stroke-width="1"/>
<line x1="1082.0" y1="340.8" x2="1089.7" y2="333.0" stroke="#b4b4b4" stroke-width="1"/>
<line x1="1163.5" y1="439.6" x2="1172.9" y2="433.8" stroke="#b4b4b4" stroke-width="1"/>
<line x1="1220.3" y1="555.1" x2="1230.8" y2="551.7" stroke="#b4b4b4" stroke-width="1"/>
<line x1="1249.1" y1="681.2" x2="1260.0" y2="680.2" stroke="#b4b4b4" stroke-width="1"/>
<line x1="1248.0" y1="811.1" x2="1258.8" y2="812.7" stroke="#b4b4b4" stroke-width="1"/>
<line x1="1216.8" y1="937.8" x2="1227.0" y2="941.9" stroke="#b4b4b4" stroke-width="1"/>
<line x1="1156.9" y1="1054.4" x2="1165.9" y2="1060.7" stroke="#b4b4b4" stroke-width="1"/>
<line x1="1071.4" y1="1154.5" x2="1078.7" y2="1162.7" stroke="#b4b4b4" stroke-width="1"/>
<line x1="964.6" y1="1232.6" x2="969.8" y2="1242.2" stroke="#b4b4b4" stroke-width="1"/>
<line x1="842.2" y1="1284.1" x2="845.0" y2="1294.7" stroke="#b4b4b4" stroke-width="1"/>
<line x1="710.6" y1="1306.1" x2="710.9" y2="1317.0" stroke="#b4b4b4" stroke-width="1"/>
<line x1="576.9" y1="1297.0" x2="574.6" y2="1307.8" stroke="#b4b4b4" stroke-width="1"/>
<line x1="448.3" y1="1257.2" x2="443.6" y2="1267.2" stroke="#b4b4b4" stroke-width="1"/>
<line x1="331.8" y1="1188.6" x2="325.0" y2="1197.2" stroke="#b4b4b4" stroke-width="1"/>
<line x1="234.0" y1="1094.5" x2="225.3" y2="1101.3" stroke="#b4b4b4" stroke-width="1"/>
<line x1="160.1" y1="979.8" x2="150.1" y2="984.5" stroke="#b4b4b4" stroke-width="1"/>
<line x1="114.5" y1="850.7" x2="103.7" y2="852.9" stroke="#b4b4b4" stroke-width="1"/>
<line x1="99.9" y1="713.9" x2="88.9" y2="713.6" stroke="#b4b4b4" stroke-width="1"/>
<line x1="117.2" y1="576.9" x2="106.6" y2="574.1" stroke="#b4b4b4" stroke-width="1"/>
<line x1="165.9" y1="447.0" x2="156.3" y2="441.8" stroke="#b4b4b4" stroke-width="1"/>
<line x1="243.6" y1="331.4" x2="235.4" y2="324.1" stroke="#b4b4b4" stroke-width="1"/>
<line x1="346.3" y1="236.4" x2="340.0" y2="227.4" stroke="#b4b4b4" stroke-width="1"/></g>
<path d="M666.7 476.4L659.0 476.4L664.5 470.6L666.2 467.7L666.2 466.5L665.6 465.4L664.0 464.2L661.8 464.2L660.7 464.8L660.1 465.4L659.6 466.5L659.6 467.1M676.7 464.2L671.2 464.2L670.6 469.4L672.8 468.3L674.5 468.3L676.1 468.9L677.3 470.0L677.8 471.8L677.8 472.9L677.3 474.7L676.1 475.8L674.5 476.4L672.8 476.4L671.2 475.8L670.6 475.2L670.1 474.1M681.7 471.2L691.6 471.2M696.1 470.0L696.1 464.2L703.2 464.2M696.1 470.0L700.5 470.0M696.1 470.0L696.1 476.4M712.1 474.7L711.0 475.8L709.9 476.4L708.2 476.4L707.1 475.8L706.0 474.7L705.5 472.9L705.5 471.8M705.5 471.8L706.0 470.0L707.1 468.9L708.2 468.3L709.9 468.3L711.0 468.9L712.1 470.6L712.1 471.8L705.5 471.8M716.0 474.7L716.0 470.0M716.0 474.7L717.1 475.8L718.2 476.4L719.8 476.4L720.9 475.8L722.0 474.7L722.6 472.9L722.6 471.8L722.0 470.0L720.9 468.9L719.8 468.3L718.2 468.3L717.1 468.9L716.0 470.0M716.0 474.7L716.0 476.4M716.0 470.0L716.0 464.2" fill="none" stroke="#000" stroke-width="1.0" stroke-linecap="square" shape-rendering="crispEdges"/>
<path d="M840.8 512.8L834.9 507.8L842.9 506.9L846.0 505.7L846.8 504.8L847.1 503.6L846.6 501.6L844.9 500.2L843.7 500.0L842.9 500.0L841.7 500.6L841.3 501.0M850.8 512.1L853.7 512.9L854.9 512.4L855.6 511.5L855.9 510.3L855.0 508.8L853.3 507.3L851.7 506.7L850.5 507.2L849.8 508.1L849.5 509.4L850.8 512.1M850.8 512.1L852.2 513.9L852.3 515.5L851.9 516.8L850.8 518.1L849.6 518.6L848.8 518.7L847.2 518.1L845.5 516.7L844.6 515.2L844.6 514.4L844.9 513.1L846.0 511.8L847.2 511.3L848.8 511.1L850.8 512.1M855.6 518.4L863.3 524.8M867.4 526.7L871.1 522.3L876.6 526.9M867.4 526.7L870.8 529.6M867.4 526.7L863.3 531.6M876.7 540.6L875.1 540.8L873.9 540.5L872.6 539.4L872.1 538.3L872.0 536.7L872.7 535.0L873.5 534.1M873.5 534.1L875.0 533.1L876.6 532.9L877.8 533.2L879.1 534.3L879.6 535.4L879.3 537.5L878.6 538.4L873.5 534.1M879.7 543.1L882.7 539.5M879.7 543.1L879.8 544.7L880.2 545.8L881.5 546.9L882.7 547.2L884.3 547.0L885.9 546.0L886.6 545.1L887.3 543.4L887.2 541.8L886.7 540.7L885.5 539.6L884.2 539.3L882.7 539.5M879.7 543.1L878.5 544.4M882.7 539.5L886.4 535.1" fill="none" stroke="#000" stroke-width="1.0" stroke-linecap="square" shape-rendering="crispEdges"/>
<path d="M964.7 652.7L965.1 651.5L964.9 650.4L964.1 648.9L961.9 648.2L959.2 648.1L957.5 648.4L955.0 649.4L953.2 650.8L952.9 652.6L953.1 653.6L954.0 655.2L956.2 655.9L958.8 656.0L960.6 655.7L963.3 654.6L964.8 653.3L964.7 652.7M955.6 667.8L954.3 660.2L960.9 664.6L964.1 665.7L965.2 665.5L966.3 664.8L967.1 663.0L966.8 660.8L966.0 659.8L965.3 659.3L964.1 659.0L963.5 659.1M961.4 670.7L963.2 680.5M970.5 683.7L970.8 683.7M970.5 683.7L959.5 690.1M970.5 683.7L958.8 685.8M959.5 690.1L972.0 692.4M972.0 692.4L972.3 692.4M972.0 692.4L960.3 694.5M970.1 703.4L968.4 703.7M962.1 704.8L963.9 704.5M968.4 703.7L969.4 702.4L969.8 701.2L969.5 699.6L968.7 698.6L967.4 697.7L965.6 697.5L964.4 697.7L962.8 698.5L961.8 699.8L961.5 701.0L961.8 702.7L962.5 703.6L963.9 704.5M968.4 703.7L963.9 704.5M967.8 708.3L970.9 707.8M967.8 708.3L969.3 708.6L970.6 709.5L971.4 710.5L971.7 712.1M967.8 708.3L962.9 709.2" fill="none" stroke="#000" stroke-width="1.0" stroke-linecap="square" shape-rendering="crispEdges"/>
<path d="M919.5 886.5L918.5 887.2L917.9 888.2L917.6 889.9L918.8 891.9L920.8 893.6L922.3 894.5L924.8 895.3L927.1 895.4L928.5 894.3L929.0 893.3L929.4 891.6L928.1 889.6L926.2 887.8L924.6 886.9L921.9 886.0L919.8 886.1L919.5 886.5M925.1 875.7L922.3 880.5L926.6 883.6L926.7 881.1L927.5 879.7L928.8 878.5L930.4 878.1L932.2 878.5L933.2 879.1L934.4 880.5L934.9 882.0L934.6 883.7L933.7 885.2L932.4 886.3L931.6 886.5L930.3 886.4M933.6 874.9L938.6 866.3M935.0 859.1L934.8 858.9M935.0 859.1L947.6 861.2M935.0 859.1L945.3 865.0M947.6 861.2L939.4 851.4M939.4 851.4L939.2 851.3M939.4 851.4L949.8 857.4M948.0 844.2L949.5 845.1M955.0 848.3L953.5 847.4M949.5 845.1L947.9 845.5L946.9 846.1L946.0 847.6L946.0 848.8L946.4 850.4L947.7 851.7L948.7 852.3L950.5 852.7L952.0 852.3L953.1 851.6L953.9 850.2L954.0 849.0L953.5 847.4M949.5 845.1L953.5 847.4M953.0 842.0L950.2 840.4M953.0 842.0L952.0 840.8L951.5 839.2L951.6 838.0L952.4 836.6M953.0 842.0L957.2 844.5" fill="none" stroke="#000" stroke-width="1.0" stroke-linecap="square" shape-rendering="crispEdges"/>
<path d="M769.3 1002.6L768.0 1002.5L767.0 1002.8L765.6 1003.9L765.3 1006.2L765.7 1008.9L766.3 1010.5L767.7 1012.8L769.4 1014.3L771.2 1014.3L772.2 1013.9L773.6 1012.8L773.9 1010.5L773.6 1007.9L773.0 1006.2L771.4 1003.7L769.8 1002.4L769.3 1002.6M779.7 1003.8L781.9 1001.7L782.0 1000.5L781.6 999.4L780.7 998.5L779.0 998.5L776.9 999.2L775.5 1000.3L775.4 1001.6L775.8 1002.7L776.7 1003.6L779.7 1003.8M779.7 1003.8L782.0 1003.6L783.4 1004.3L784.3 1005.2L784.9 1006.8L784.8 1008.1L784.5 1008.8L783.1 1009.9L781.1 1010.7L779.3 1010.7L778.6 1010.4L777.7 1009.5L777.1 1007.8L777.2 1006.5L777.8 1005.1L779.7 1003.8M787.6 1002.8L796.9 999.4M798.8 991.6L798.7 991.3M798.8 991.6L807.0 1001.2M798.8 991.6L802.9 1002.8M807.0 1001.2L807.1 988.5M807.1 988.5L807.0 988.3M807.1 988.5L811.2 999.7M818.3 988.5L818.9 990.1M821.1 996.1L820.5 994.5M818.9 990.1L817.4 989.4L816.2 989.2L814.6 989.8L813.8 990.7L813.2 992.2L813.2 994.0L813.6 995.1L814.8 996.6L816.2 997.3L817.4 997.5L819.0 996.9L819.8 996.0L820.5 994.5M818.9 990.1L820.5 994.5M823.5 990.0L822.4 987.0M823.5 990.0L823.6 988.4L824.2 987.0L825.0 986.0L826.6 985.5M823.5 990.0L825.2 994.6" fill="none" stroke="#000" stroke-width="1.0" stroke-linecap="square" shape-rendering="crispEdges"/>
<path d="M570.1 995.6L571.3 995.4L573.5 994.3L569.3 1005.8M580.5 999.4L581.7 999.2L583.9 998.1L579.7 1009.6M588.3 1007.1L597.6 1010.5M604.0 1005.8L604.1 1005.5M604.0 1005.8L604.1 1018.5M604.0 1005.8L600.0 1017.0M604.1 1018.5L612.4 1008.8M612.4 1008.8L612.5 1008.5M612.4 1008.8L608.3 1020.0M620.9 1015.9L620.3 1017.6M618.2 1023.6L618.8 1021.9M620.3 1017.6L619.7 1016.1L618.9 1015.2L617.3 1014.6L616.1 1014.8L614.6 1015.5L613.5 1016.9L613.1 1018.0L613.0 1019.9L613.7 1021.3L614.5 1022.3L616.1 1022.8L617.3 1022.7L618.8 1021.9M620.3 1017.6L618.8 1021.9M624.0 1020.5L625.1 1017.5M624.0 1020.5L625.0 1019.3L626.5 1018.6L627.7 1018.4L629.3 1019.0M624.0 1020.5L622.3 1025.1" fill="none" stroke="#000" stroke-width="1.0" stroke-linecap="square" shape-rendering="crispEdges"/>
<path d="M422.0 858.7L423.1 859.3L425.4 859.9L414.9 866.0M431.5 870.4L421.7 869.7L424.5 874.5M431.5 870.4L424.5 874.5M421.0 876.5L424.5 874.5M424.5 874.5L425.9 876.9M428.5 879.2L433.5 887.8M441.5 888.3L441.8 888.2M441.5 888.3L433.4 898.1M441.5 888.3L431.2 894.3M433.4 898.1L445.9 896.0M445.9 896.0L446.2 895.8M445.9 896.0L435.6 901.9M447.9 907.0L446.4 907.8M440.9 911.0L442.4 910.2M446.4 907.8L446.9 906.3L446.8 905.0L446.0 903.6L444.9 902.9L443.4 902.6L441.6 903.0L440.6 903.5L439.3 904.9L438.9 906.4L438.9 907.7L439.8 909.1L440.8 909.8L442.4 910.2M446.4 907.8L442.4 910.2M447.4 912.4L450.1 910.8M447.4 912.4L448.9 912.1L450.5 912.5L451.5 913.2L452.3 914.6M447.4 912.4L443.1 914.9" fill="none" stroke="#000" stroke-width="1.0" stroke-linecap="square" shape-rendering="crispEdges"/>
<path d="M374.4 710.2L374.1 709.0L372.6 707.1L384.7 709.2M373.8 700.6L375.1 692.9L386.2 700.5M382.7 690.3L384.4 680.5M378.6 675.0L378.3 675.0M378.6 675.0L391.1 672.7M378.6 675.0L390.3 677.1M391.1 672.7L380.1 666.3M380.1 666.3L379.8 666.3M380.1 666.3L391.9 668.4M385.7 656.6L387.4 656.9M393.7 658.0L392.0 657.7M387.4 656.9L386.0 657.8L385.3 658.8L385.0 660.4L385.4 661.6L386.3 662.9L387.9 663.8L389.1 664.0L390.9 663.7L392.2 662.8L393.0 661.8L393.3 660.2L392.9 659.0L392.0 657.7M387.4 656.9L392.0 657.7M389.6 652.8L386.4 652.3M389.6 652.8L388.2 652.0L387.3 650.7L386.9 649.5L387.2 647.9M389.6 652.8L394.4 653.7" fill="none" stroke="#000" stroke-width="1.0" stroke-linecap="square" shape-rendering="crispEdges"/>
<path d="M467.8 508.2L461.9 513.2L462.4 505.2L461.8 501.9L461.1 501.0L459.9 500.4L457.9 500.6L456.2 502.0L455.7 503.2L455.6 504.0L456.0 505.2L456.3 505.7M467.1 493.6L465.9 493.9L465.1 494.6L464.2 496.1L464.6 498.4L465.9 500.7L467.0 502.1L469.1 503.7L471.3 504.6L472.9 503.9L473.8 503.2L474.7 501.7L474.2 499.4L472.9 497.1L471.8 495.7L469.5 493.9L467.6 493.3L467.1 493.6M475.9 494.6L483.5 488.2M482.6 480.2L482.4 480.0M482.6 480.2L493.7 486.5M482.6 480.2L490.3 489.4M493.7 486.5L489.4 474.5M489.4 474.5L489.2 474.3M489.4 474.5L497.1 483.7M499.9 470.7L501.0 472.0M505.1 476.9L504.0 475.6M501.0 472.0L499.4 471.8L498.2 472.1L496.9 473.2L496.4 474.3L496.3 475.9L497.0 477.6L497.8 478.5L499.3 479.5L500.9 479.7L502.1 479.4L503.4 478.3L503.9 477.2L504.0 475.6M501.0 472.0L504.0 475.6M505.3 470.3L503.3 467.8M505.3 470.3L504.8 468.8L504.9 467.2L505.4 466.1L506.7 465.0M505.3 470.3L508.5 474.1" fill="none" stroke="#000" stroke-width="1.0" stroke-linecap="square" shape-rendering="crispEdges"/>
<path d="M663.0 407.7L655.3 407.7L660.8 401.9L662.5 399.0L662.5 397.9L661.9 396.7L660.3 395.5L658.0 395.5L656.9 396.1L656.4 396.7L655.8 397.9L655.8 398.4M667.4 395.5L673.5 395.5L670.2 400.2L671.9 400.2L673.5 401.4L674.1 403.1L674.1 404.3L673.5 406.0L672.4 407.2L670.8 407.7L669.1 407.7L667.4 407.2L666.9 406.6L666.3 405.4M678.0 402.5L687.9 402.5M692.3 395.8L692.3 395.5M692.3 395.8L696.8 407.7M692.3 395.8L692.3 407.7M696.8 407.7L701.2 395.8M701.2 395.8L701.2 395.5M701.2 395.8L701.2 407.7M711.7 399.6L711.7 401.4M711.7 407.7L711.7 406.0M711.7 401.4L710.6 400.2L709.5 399.6L707.8 399.6L706.7 400.2L705.6 401.4L705.0 403.1L705.0 404.3L705.6 406.0L706.7 407.2L707.8 407.7L709.5 407.7L710.6 407.2L711.7 406.0M711.7 401.4L711.7 406.0M716.1 402.8L716.1 399.6M716.1 402.8L716.7 401.4L717.8 400.2L718.9 399.6L720.5 399.6M716.1 402.8L716.1 407.7" fill="none" stroke="#000" stroke-width="1.0" stroke-linecap="square" shape-rendering="crispEdges"/>
<path d="M882.1 457.8L876.2 452.8L884.2 451.9L887.3 450.7L888.0 449.9L888.4 448.6L887.8 446.7L886.1 445.2L884.9 445.0L884.1 445.1L883.0 445.6L882.6 446.0M887.9 456.9L889.6 454.9L891.7 453.3L893.8 452.4L895.5 453.1L896.3 453.8L897.2 455.3L896.9 456.5M887.9 456.9L889.2 456.2L890.8 456.0L892.9 457.0L893.8 458.5L893.9 460.1L892.8 462.2L891.3 463.2L889.7 463.4L887.6 462.4L886.7 460.9L886.6 459.3L887.9 456.9M896.9 463.4L904.5 469.8M912.2 467.5L912.4 467.3M912.2 467.5L908.0 479.5M912.2 467.5L904.6 476.6M908.0 479.5L919.0 473.2M919.0 473.2L919.2 473.0M919.0 473.2L911.3 482.3M924.6 482.8L923.5 484.2M919.4 489.1L920.5 487.7M923.5 484.2L923.4 482.6L922.9 481.4L921.7 480.3L920.4 480.1L918.8 480.3L917.3 481.2L916.6 482.1L915.9 483.8L916.0 485.4L916.4 486.6L917.7 487.6L918.9 487.9L920.5 487.7M923.5 484.2L920.5 487.7M926.0 488.1L928.0 485.7M926.0 488.1L927.3 487.4L928.9 487.2L930.1 487.5L931.4 488.5M926.0 488.1L922.8 491.9" fill="none" stroke="#000" stroke-width="1.0" stroke-linecap="square" shape-rendering="crispEdges"/>
<path d="M1020.6 641.3L1019.3 633.7L1026.0 638.1L1029.1 639.3L1030.3 639.1L1031.3 638.3L1032.2 636.5L1031.8 634.3L1031.0 633.3L1030.4 632.9L1029.1 632.5L1028.6 632.6M1030.2 650.3L1032.7 649.3L1033.6 648.0L1033.9 646.3L1033.0 644.2L1031.6 643.3L1029.8 643.1L1027.6 644.0L1026.7 645.3L1026.4 647.0L1027.3 649.1L1028.7 650.0L1030.2 650.3M1030.2 650.3L1027.6 650.8L1025.0 650.7L1022.8 649.9L1021.9 648.4L1021.7 647.3L1022.0 645.6L1023.0 644.8M1028.4 655.1L1030.1 664.9M1037.5 668.1L1037.8 668.1M1037.5 668.1L1026.5 674.5M1037.5 668.1L1025.7 670.2M1026.5 674.5L1039.0 676.8M1039.0 676.8L1039.3 676.8M1039.0 676.8L1027.3 678.9M1037.1 687.8L1035.4 688.1M1029.1 689.2L1030.8 688.9M1035.4 688.1L1036.3 686.8L1036.7 685.7L1036.4 684.0L1035.7 683.0L1034.3 682.1L1032.5 681.9L1031.4 682.1L1029.8 683.0L1028.8 684.2L1028.4 685.4L1028.7 687.1L1029.5 688.1L1030.8 688.9M1035.4 688.1L1030.8 688.9M1034.7 692.7L1037.9 692.2M1034.7 692.7L1036.3 693.0L1037.6 693.9L1038.4 694.9L1038.6 696.5M1034.7 692.7L1029.9 693.6" fill="none" stroke="#000" stroke-width="1.0" stroke-linecap="square" shape-rendering="crispEdges"/>
<path d="M982.2 916.8L981.1 917.5L980.6 918.4L980.3 920.1L981.5 922.1L983.5 923.9L985.0 924.8L987.5 925.6L989.8 925.7L991.1 924.5L991.7 923.6L992.0 921.8L990.8 919.9L988.8 918.1L987.3 917.2L984.5 916.2L982.5 916.3L982.2 916.8M987.3 911.4L987.3 910.2L986.7 907.9L997.2 914.0M996.3 905.1L1001.3 896.5M1007.3 888.5L1004.5 893.3M1007.2 896.7L998.8 886.8M1011.6 889.1L998.8 886.8M1011.5 885.8L1007.5 883.5M1011.5 885.8L1013.0 885.4L1014.1 884.8L1014.9 883.3L1015.0 882.1L1014.5 880.5L1013.3 879.2L1012.3 878.6L1010.5 878.2L1008.9 878.6L1007.9 879.3L1007.1 880.7L1007.0 882.0L1007.5 883.5M1011.5 885.8L1016.5 888.7M1005.9 882.6L1007.5 883.5M1014.0 875.1L1011.2 873.5M1014.0 875.1L1013.0 873.9L1012.5 872.4L1012.6 871.1L1013.4 869.7M1014.0 875.1L1018.2 877.6" fill="none" stroke="#000" stroke-width="1.0" stroke-linecap="square" shape-rendering="crispEdges"/>
<path d="M797.8 1066.1L796.6 1065.9L795.6 1066.3L794.2 1067.4L793.9 1069.7L794.2 1072.3L794.8 1074.0L796.2 1076.2L798.0 1077.8L799.7 1077.8L800.8 1077.4L802.1 1076.3L802.5 1074.0L802.1 1071.3L801.5 1069.7L800.0 1067.1L798.4 1065.9L797.8 1066.1M808.0 1061.7L805.6 1071.3L810.8 1069.4M808.0 1061.7L810.8 1069.4M812.2 1073.2L810.8 1069.4M810.8 1069.4L813.4 1068.4M816.1 1066.2L825.5 1062.8M835.2 1060.5L830.0 1062.4M829.9 1066.8L829.9 1053.8M838.2 1063.8L829.9 1053.8M840.2 1061.2L838.6 1056.8M840.2 1061.2L841.6 1061.9L842.9 1062.1L844.4 1061.5L845.3 1060.6L845.9 1059.1L845.8 1057.3L845.4 1056.2L844.3 1054.7L842.9 1054.0L841.6 1053.8L840.1 1054.4L839.2 1055.3L838.6 1056.8M840.2 1061.2L842.2 1066.6M838.0 1055.2L838.6 1056.8M849.0 1054.6L847.9 1051.6M849.0 1054.6L849.0 1053.0L849.6 1051.5L850.5 1050.6L852.0 1050.1M849.0 1054.6L850.7 1059.2" fill="none" stroke="#000" stroke-width="1.0" stroke-linecap="square" shape-rendering="crispEdges"/>
<path d="M555.5 1062.2L554.6 1061.3L553.6 1060.9L551.8 1060.9L550.1 1062.4L548.7 1064.7L548.1 1066.4L547.7 1069.0L548.1 1071.3L549.4 1072.4L550.5 1072.8L552.2 1072.8L554.0 1071.3L555.4 1069.0L556.0 1067.4L556.4 1064.4L556.0 1062.4L555.5 1062.2M560.9 1063.6L568.2 1066.2L558.8 1075.8M569.4 1074.1L578.8 1077.5M587.7 1082.0L582.5 1080.1M579.6 1083.4L587.9 1073.4M587.9 1086.4L587.9 1073.4M591.1 1085.7L592.7 1081.3M591.1 1085.7L591.7 1087.2L592.6 1088.1L594.1 1088.7L595.4 1088.5L596.8 1087.8L597.9 1086.3L598.3 1085.2L598.4 1083.4L597.7 1081.9L596.9 1081.0L595.3 1080.5L594.1 1080.6L592.7 1081.3M591.1 1085.7L589.1 1091.2M593.3 1079.7L592.7 1081.3M602.0 1086.3L603.1 1083.3M602.0 1086.3L603.1 1085.1L604.5 1084.4L605.7 1084.2L607.3 1084.8M602.0 1086.3L600.4 1090.9" fill="none" stroke="#000" stroke-width="1.0" stroke-linecap="square" shape-rendering="crispEdges"/>
<path d="M365.0 898.4L366.0 899.1L368.4 899.7L357.8 905.8M374.0 910.5L373.9 909.2L373.4 908.3L372.0 907.1L369.7 907.2L367.2 908.0L365.7 908.9L363.7 910.7L362.5 912.7L362.8 914.4L363.3 915.3L364.7 916.5L367.0 916.4L369.5 915.6L371.0 914.7L373.3 912.8L374.2 911.0L374.0 910.5M371.5 919.0L376.4 927.6M380.4 936.8L377.7 932.0M373.3 932.6L386.1 930.3M377.7 940.2L386.1 930.3M380.6 941.8L384.6 939.4M380.6 941.8L380.2 943.3L380.2 944.6L381.0 946.0L382.1 946.7L383.7 947.0L385.4 946.6L386.5 946.1L387.7 944.7L388.1 943.2L388.1 941.9L387.3 940.5L386.2 939.8L384.6 939.4M380.6 941.8L375.6 944.7M386.2 938.6L384.6 939.4M388.6 949.3L391.4 947.7M388.6 949.3L390.2 949.0L391.7 949.4L392.8 950.1L393.6 951.5M388.6 949.3L384.4 951.7" fill="none" stroke="#000" stroke-width="1.0" stroke-linecap="square" shape-rendering="crispEdges"/>
<path d="M306.1 703.5L305.8 702.3L304.3 700.3L316.3 702.5M305.7 692.7L306.7 686.7L310.7 690.8L311.0 689.2L312.5 687.7L314.3 687.5L315.4 687.7L317.0 688.5L318.0 689.8L318.3 691.6L318.0 693.2L317.1 694.7L316.5 695.2L315.2 695.5M314.4 683.6L316.1 673.8M319.0 664.2L318.0 669.6M321.7 672.0L310.5 665.5M323.3 663.2L310.5 665.5M322.0 660.2L317.4 659.4M322.0 660.2L323.4 659.3L324.1 658.3L324.4 656.7L324.0 655.5L323.1 654.2L321.5 653.4L320.3 653.2L318.5 653.4L317.2 654.3L316.4 655.3L316.1 656.9L316.5 658.1L317.4 659.4M322.0 660.2L327.7 661.2M315.7 659.1L317.4 659.4M320.7 649.3L317.6 648.8M320.7 649.3L319.4 648.5L318.4 647.2L318.0 646.0L318.3 644.4M320.7 649.3L325.6 650.2" fill="none" stroke="#000" stroke-width="1.0" stroke-linecap="square" shape-rendering="crispEdges"/>
<path d="M408.4 456.0L408.8 454.8L409.0 452.4L416.8 461.7M419.5 453.8L417.9 451.8L416.6 449.4L416.1 447.2L417.0 445.6L417.9 444.9L419.5 444.3L420.7 444.9M419.5 453.8L419.0 452.3L419.1 450.7L420.4 448.9L422.1 448.2L423.7 448.4L425.6 449.8L426.3 451.5L426.2 453.1L424.9 455.0L423.2 455.6L421.6 455.4L419.5 453.8M427.4 446.0L435.1 439.6M443.4 434.1L439.2 437.7M440.6 441.8L436.1 429.7M447.3 436.2L436.1 429.7M448.3 433.0L445.3 429.5M448.3 433.0L449.9 433.2L451.1 433.0L452.4 431.9L452.9 430.7L453.0 429.1L452.3 427.4L451.5 426.6L450.0 425.6L448.4 425.4L447.2 425.7L445.9 426.7L445.4 427.9L445.3 429.5M448.3 433.0L452.1 437.5M444.2 428.1L445.3 429.5M454.3 423.8L452.3 421.4M454.3 423.8L453.8 422.4L453.9 420.8L454.4 419.6L455.7 418.6M454.3 423.8L457.5 427.6" fill="none" stroke="#000" stroke-width="1.0" stroke-linecap="square" shape-rendering="crispEdges"/>
<path d="M650.3 329.6L651.5 329.0L653.1 327.3L653.1 339.5M666.9 331.6L666.4 329.0L665.3 327.9L663.6 327.3L661.4 327.9L660.3 329.0L659.7 330.8L660.3 333.1L661.4 334.2L663.1 334.8L665.3 334.2L666.4 333.1L666.9 331.6M666.9 331.6L666.9 334.2L666.4 336.9L665.3 338.9L663.6 339.5L662.5 339.5L660.9 338.9L660.3 337.7M671.4 334.2L681.3 334.2M691.3 335.4L685.7 335.4M684.1 339.5L688.5 327.3M692.9 339.5L688.5 327.3M695.7 337.7L695.7 333.1M695.7 337.7L696.8 338.9L697.9 339.5L699.6 339.5L700.7 338.9L701.8 337.7L702.3 336.0L702.3 334.8L701.8 333.1L700.7 331.9L699.6 331.3L697.9 331.3L696.8 331.9L695.7 333.1M695.7 337.7L695.7 343.5M695.7 331.3L695.7 333.1M706.2 334.5L706.2 331.3M706.2 334.5L706.8 333.1L707.9 331.9L709.0 331.3L710.6 331.3M706.2 334.5L706.2 339.5" fill="none" stroke="#000" stroke-width="1.0" stroke-linecap="square" shape-rendering="crispEdges"/>
<path d="M920.4 400.9L914.4 395.9L922.4 395.0L925.5 393.8L926.3 392.9L926.6 391.7L926.1 389.7L924.4 388.3L923.2 388.0L922.4 388.1L921.2 388.7L920.8 389.1M928.8 408.0L922.9 403.0L930.9 402.1L934.0 400.9L934.8 400.0L935.1 398.8L934.6 396.8L932.9 395.4L931.6 395.2L930.8 395.2L929.7 395.8L929.3 396.2M935.2 406.5L942.8 412.9M949.7 420.1L945.4 416.6M941.5 418.6L952.8 412.1M948.3 424.3L952.8 412.1M951.6 424.8L954.6 421.2M951.6 424.8L951.7 426.4L952.1 427.5L953.4 428.6L954.6 428.9L956.2 428.7L957.8 427.7L958.5 426.8L959.2 425.1L959.1 423.5L958.6 422.4L957.4 421.3L956.1 421.0L954.6 421.2M951.6 424.8L947.8 429.2M955.7 419.9L954.6 421.2M961.7 429.1L963.7 426.6M961.7 429.1L963.0 428.3L964.6 428.1L965.8 428.4L967.1 429.5M961.7 429.1L958.5 432.9" fill="none" stroke="#000" stroke-width="1.0" stroke-linecap="square" shape-rendering="crispEdges"/>
<path d="M1086.3 621.6L1085.0 614.0L1091.7 618.4L1094.8 619.6L1096.0 619.4L1097.0 618.6L1097.9 616.8L1097.5 614.6L1096.7 613.6L1096.0 613.2L1094.8 612.8L1094.2 612.9M1100.1 629.3L1099.1 623.9L1093.9 624.2L1095.4 626.2L1095.7 627.8L1095.4 629.6L1094.4 630.9L1092.8 631.7L1091.7 631.9L1089.9 631.7L1088.5 630.8L1087.7 629.3L1087.4 627.6L1087.7 625.9L1088.1 625.2L1089.2 624.5M1094.1 635.4L1095.8 645.2M1096.4 655.2L1095.4 649.8M1091.1 648.9L1103.9 651.1M1092.7 657.6L1103.9 651.1M1094.9 660.0L1099.4 659.2M1094.9 660.0L1093.9 661.3L1093.5 662.5L1093.8 664.1L1094.6 665.1L1095.9 666.0L1097.7 666.2L1098.9 666.0L1100.5 665.2L1101.4 663.9L1101.8 662.7L1101.5 661.1L1100.8 660.1L1099.4 659.2M1094.9 660.0L1089.1 661.0M1101.2 658.9L1099.4 659.2M1099.8 669.8L1103.0 669.2M1099.8 669.8L1101.4 670.1L1102.7 671.0L1103.5 672.0L1103.7 673.6M1099.8 669.8L1095.0 670.6" fill="none" stroke="#000" stroke-width="1.0" stroke-linecap="square" shape-rendering="crispEdges"/>
<path d="M1057.1 947.4L1053.2 954.1L1051.0 946.4L1049.3 943.5L1048.3 942.9L1047.0 942.8L1045.2 943.7L1044.1 945.6L1044.0 946.8L1044.2 947.6L1045.0 948.7L1045.5 949.0M1054.7 937.7L1055.1 934.7L1054.3 933.6L1053.3 933.0L1052.0 932.9L1050.7 934.1L1049.6 936.0L1049.3 937.7L1050.0 938.8L1051.0 939.4L1052.3 939.5L1054.7 937.7M1054.7 937.7L1056.3 936.0L1057.8 935.7L1059.1 935.8L1060.6 936.6L1061.4 937.7L1061.6 938.5L1061.3 940.2L1060.2 942.1L1058.8 943.3L1058.0 943.4L1056.8 943.3L1055.3 942.5L1054.5 941.4L1054.1 939.9L1054.7 937.7M1060.1 931.8L1065.0 923.2M1071.0 915.2L1068.3 920.0M1070.9 923.4L1062.6 913.5M1075.4 915.8L1062.6 913.5M1075.2 912.5L1071.2 910.2M1075.2 912.5L1076.8 912.1L1077.9 911.5L1078.7 910.0L1078.7 908.8L1078.3 907.2L1077.0 905.9L1076.0 905.3L1074.3 904.9L1072.7 905.3L1071.6 906.0L1070.8 907.4L1070.8 908.6L1071.2 910.2M1075.2 912.5L1080.3 915.4M1069.7 909.3L1071.2 910.2M1077.7 901.8L1075.0 900.2M1077.7 901.8L1076.7 900.6L1076.3 899.1L1076.3 897.8L1077.2 896.4M1077.7 901.8L1082.0 904.3" fill="none" stroke="#000" stroke-width="1.0" stroke-linecap="square" shape-rendering="crispEdges"/>
<path d="M825.5 1128.9L824.2 1128.7L823.2 1129.1L821.8 1130.2L821.5 1132.5L821.9 1135.1L822.5 1136.8L823.9 1139.1L825.6 1140.6L827.4 1140.6L828.4 1140.2L829.8 1139.1L830.1 1136.8L829.8 1134.1L829.2 1132.5L827.6 1130.0L826.0 1128.7L825.5 1128.9M832.8 1128.1L833.7 1127.1L834.6 1124.9L838.8 1136.4M843.8 1129.0L853.1 1125.6M855.0 1117.8L854.9 1117.6M855.0 1117.8L863.2 1127.5M855.0 1117.8L859.1 1129.0M863.2 1127.5L863.3 1114.8M863.3 1114.8L863.2 1114.5M863.3 1114.8L867.4 1126.0M874.5 1114.8L875.1 1116.4M877.3 1122.4L876.7 1120.8M875.1 1116.4L873.6 1115.7L872.4 1115.5L870.8 1116.1L870.0 1117.0L869.4 1118.5L869.4 1120.3L869.8 1121.4L871.0 1122.8L872.4 1123.6L873.6 1123.7L875.2 1123.2L876.0 1122.2L876.7 1120.8M875.1 1116.4L876.7 1120.8M881.3 1125.3L881.8 1125.1L882.6 1124.2L883.3 1122.7L883.5 1120.1M877.6 1113.6L883.5 1120.1M883.8 1111.4L883.5 1120.1" fill="none" stroke="#000" stroke-width="1.0" stroke-linecap="square" shape-rendering="crispEdges"/>
<path d="M536.9 1128.3L536.1 1127.3L535.0 1127.0L533.3 1126.9L531.5 1128.5L530.1 1130.7L529.5 1132.4L529.1 1135.0L529.5 1137.3L530.9 1138.4L531.9 1138.8L533.6 1138.8L535.4 1137.3L536.8 1135.0L537.4 1133.4L537.9 1130.5L537.4 1128.5L536.9 1128.3M547.5 1131.5L539.5 1137.3L544.7 1139.2M547.5 1131.5L544.7 1139.2M543.3 1143.0L544.7 1139.2M544.7 1139.2L547.3 1140.1M550.8 1140.1L560.2 1143.5M566.6 1138.8L566.7 1138.5M566.6 1138.8L566.7 1151.5M566.6 1138.8L562.5 1150.0M566.7 1151.5L574.9 1141.8M574.9 1141.8L575.0 1141.5M574.9 1141.8L570.9 1153.0M583.5 1148.9L582.9 1150.6M580.7 1156.6L581.3 1155.0M582.9 1150.6L582.3 1149.1L581.4 1148.2L579.9 1147.6L578.6 1147.8L577.2 1148.5L576.1 1150.0L575.7 1151.0L575.6 1152.9L576.3 1154.3L577.1 1155.3L578.7 1155.8L579.9 1155.7L581.3 1155.0M582.9 1150.6L581.3 1155.0M581.9 1161.4L582.5 1161.5L583.7 1161.4L585.1 1160.7L587.0 1158.9M586.6 1150.1L587.0 1158.9M592.9 1152.4L587.0 1158.9" fill="none" stroke="#000" stroke-width="1.0" stroke-linecap="square" shape-rendering="crispEdges"/>
<path d="M311.8 939.5L311.7 938.3L311.2 937.3L309.8 936.2L307.5 936.3L305.0 937.1L303.5 938.0L301.5 939.7L300.3 941.7L300.6 943.4L301.1 944.4L302.5 945.5L304.8 945.5L307.3 944.7L308.8 943.8L311.1 941.9L312.0 940.0L311.8 939.5M315.0 944.0L318.9 950.8L305.6 952.1M314.8 957.6L319.8 966.2M327.8 966.7L328.0 966.6M327.8 966.7L319.7 976.5M327.8 966.7L317.5 972.7M319.7 976.5L332.2 974.4M332.2 974.4L332.4 974.2M332.2 974.4L321.9 980.3M334.2 985.4L332.7 986.2M327.1 989.4L328.6 988.5M332.7 986.2L333.1 984.7L333.1 983.4L332.2 982.0L331.2 981.3L329.6 981.0L327.8 981.3L326.8 981.9L325.6 983.3L325.1 984.8L325.2 986.1L326.0 987.5L327.1 988.2L328.6 988.5M332.7 986.2L328.6 988.5M325.0 993.8L325.3 994.3L326.3 995.0L327.9 995.4L330.4 995.2M335.8 988.2L330.4 995.2M339.2 994.0L330.4 995.2" fill="none" stroke="#000" stroke-width="1.0" stroke-linecap="square" shape-rendering="crispEdges"/>
<path d="M237.6 701.5L237.2 700.4L235.8 698.4L247.8 700.5M238.4 686.5L237.7 687.5L237.5 688.6L237.8 690.3L239.6 691.8L242.1 692.8L243.8 693.1L246.5 693.0L248.6 692.3L249.5 690.7L249.7 689.6L249.4 687.9L247.6 686.5L245.1 685.5L243.4 685.2L240.5 685.2L238.5 686.0L238.4 686.5M245.8 681.7L247.5 671.9M241.7 666.3L241.4 666.3M241.7 666.3L254.2 664.0M241.7 666.3L253.4 668.4M254.2 664.0L243.2 657.6M243.2 657.6L243.0 657.6M243.2 657.6L255.0 659.7M248.8 647.9L250.5 648.2M256.8 649.3L255.1 649.0M250.5 648.2L249.2 649.1L248.4 650.1L248.1 651.7L248.5 652.9L249.5 654.2L251.1 655.1L252.2 655.3L254.0 655.0L255.4 654.1L256.1 653.2L256.4 651.5L256.0 650.3L255.1 649.0M250.5 648.2L255.1 649.0M261.3 647.3L261.4 646.8L261.0 645.6L260.1 644.3L258.0 642.8M249.4 644.7L258.0 642.8M250.5 638.1L258.0 642.8" fill="none" stroke="#000" stroke-width="1.0" stroke-linecap="square" shape-rendering="crispEdges"/>
<path d="M357.1 410.4L357.5 409.3L357.7 406.9L365.5 416.2M363.6 401.9L368.3 398.0L368.7 403.7L370.0 402.6L372.0 402.4L373.6 403.4L374.3 404.3L375.0 406.0L374.9 407.6L374.0 409.1L372.7 410.2L371.1 410.8L370.3 410.7L369.1 410.2M376.2 400.5L383.8 394.1M382.9 386.1L382.7 385.9M382.9 386.1L393.9 392.4M382.9 386.1L390.5 395.2M393.9 392.4L389.7 380.4M389.7 380.4L389.5 380.2M389.7 380.4L397.3 389.5M400.1 376.6L401.2 377.9M405.4 382.8L404.2 381.5M401.2 377.9L399.7 377.7L398.4 378.0L397.2 379.1L396.7 380.2L396.6 381.8L397.3 383.5L398.0 384.4L399.6 385.4L401.2 385.5L402.4 385.3L403.7 384.2L404.1 383.1L404.2 381.5M401.2 377.9L404.2 381.5M410.1 384.1L410.5 383.8L411.0 382.6L411.1 381.0L410.4 378.5M402.7 374.4L410.4 378.5M407.8 370.2L410.4 378.5" fill="none" stroke="#000" stroke-width="1.0" stroke-linecap="square" shape-rendering="crispEdges"/>
<path d="M640.3 261.7L641.4 261.2L643.1 259.4L643.1 271.6M650.3 267.3L650.3 264.6L650.8 262.0L651.9 260.0L653.6 259.4L654.7 259.4L656.4 260.0L656.9 261.2M650.3 267.3L650.8 265.8L651.9 264.6L654.2 264.1L655.8 264.6L656.9 265.8L657.5 268.1L656.9 269.9L655.8 271.0L653.6 271.6L651.9 271.0L650.8 269.9L650.3 267.3M661.3 266.4L671.3 266.4M675.7 259.7L675.7 259.4M675.7 259.7L680.1 271.6M675.7 259.7L675.7 271.6M680.1 271.6L684.6 259.7M684.6 259.7L684.6 259.4M684.6 259.7L684.6 271.6M695.1 263.5L695.1 265.2M695.1 271.6L695.1 269.9M695.1 265.2L694.0 264.1L692.9 263.5L691.2 263.5L690.1 264.1L689.0 265.2L688.4 267.0L688.4 268.1L689.0 269.9L690.1 271.0L691.2 271.6L692.9 271.6L694.0 271.0L695.1 269.9M695.1 265.2L695.1 269.9M697.8 275.7L698.4 275.7L699.5 275.1L700.6 273.9L701.7 271.6M698.4 263.5L701.7 271.6M705.0 263.5L701.7 271.6" fill="none" stroke="#000" stroke-width="1.0" stroke-linecap="square" shape-rendering="crispEdges"/>
<path d="M958.0 331.0L959.2 331.2L961.6 331.0L953.8 340.3M969.4 343.2L970.7 340.8L970.6 339.2L969.7 337.7L967.6 336.7L966.0 336.9L964.5 337.9L963.4 340.0L963.5 341.6L964.4 343.1L966.4 344.1L968.0 343.9L969.4 343.2M969.4 343.2L967.7 345.2L965.6 346.8L963.5 347.7L961.8 347.1L961.0 346.3L960.1 344.8L960.4 343.6M971.1 348.0L978.7 354.4M986.4 352.2L986.6 351.9M986.4 352.2L982.1 364.1M986.4 352.2L978.8 361.3M982.1 364.1L993.2 357.8M993.2 357.8L993.4 357.6M993.2 357.8L985.5 367.0M998.8 367.5L997.7 368.8M993.6 373.7L994.7 372.4M997.7 368.8L997.6 367.2L997.1 366.1L995.8 365.0L994.6 364.7L993.0 364.9L991.5 365.9L990.7 366.8L990.0 368.5L990.1 370.1L990.6 371.2L991.9 372.3L993.1 372.6L994.7 372.4M997.7 368.8L994.7 372.4M993.1 378.6L993.5 379.0L994.7 379.2L996.3 379.1L998.7 378.0M1001.4 369.6L998.7 378.0M1006.4 373.9L998.7 378.0" fill="none" stroke="#000" stroke-width="1.0" stroke-linecap="square" shape-rendering="crispEdges"/>
<path d="M1151.4 600.0L1150.1 592.4L1156.8 596.8L1159.9 597.9L1161.0 597.7L1162.1 597.0L1162.9 595.1L1162.6 593.0L1161.8 592.0L1161.1 591.5L1159.9 591.2L1159.3 591.3M1153.3 610.9L1152.0 603.2L1158.7 607.7L1161.8 608.8L1163.0 608.6L1164.0 607.9L1164.9 606.0L1164.5 603.8L1163.7 602.9L1163.1 602.4L1161.8 602.1L1161.2 602.2M1159.2 613.8L1160.9 623.6M1168.2 626.8L1168.5 626.7M1168.2 626.8L1157.3 633.2M1168.2 626.8L1156.5 628.8M1157.3 633.2L1169.8 635.5M1169.8 635.5L1170.1 635.4M1169.8 635.5L1158.0 637.6M1167.9 646.5L1166.2 646.8M1159.9 647.9L1161.6 647.6M1166.2 646.8L1167.1 645.5L1167.5 644.3L1167.2 642.7L1166.4 641.7L1165.1 640.8L1163.3 640.6L1162.1 640.8L1160.5 641.6L1159.6 642.9L1159.2 644.1L1159.5 645.7L1160.2 646.7L1161.6 647.6M1166.2 646.8L1161.6 647.6M1156.3 651.3L1156.4 651.9L1157.2 652.9L1158.5 653.7L1161.0 654.4M1168.5 649.8L1161.0 654.4M1169.6 656.3L1161.0 654.4" fill="none" stroke="#000" stroke-width="1.0" stroke-linecap="square" shape-rendering="crispEdges"/>
<path d="M1118.9 977.1L1115.0 983.8L1112.8 976.1L1111.1 973.3L1110.1 972.7L1108.8 972.6L1107.0 973.4L1105.9 975.3L1105.8 976.6L1106.0 977.4L1106.8 978.4L1107.3 978.7M1113.3 962.4L1110.6 967.2L1114.8 970.3L1114.9 967.8L1115.7 966.4L1117.1 965.2L1118.6 964.8L1120.4 965.2L1121.4 965.8L1122.7 967.2L1123.1 968.7L1122.8 970.4L1122.0 971.9L1120.6 973.0L1119.8 973.2L1118.6 973.1M1121.9 961.6L1126.8 953.0M1123.3 945.8L1123.0 945.7M1123.3 945.8L1135.8 947.9M1123.3 945.8L1133.6 951.8M1135.8 947.9L1127.7 938.1M1127.7 938.1L1127.4 938.0M1127.7 938.1L1138.0 944.1M1136.2 930.9L1137.7 931.8M1143.2 935.0L1141.7 934.1M1137.7 931.8L1136.2 932.2L1135.1 932.8L1134.3 934.3L1134.2 935.5L1134.7 937.1L1135.9 938.4L1136.9 939.0L1138.7 939.4L1140.3 939.0L1141.3 938.3L1142.1 936.9L1142.2 935.7L1141.7 934.1M1137.7 931.8L1141.7 934.1M1148.2 934.6L1148.4 934.2L1148.5 932.9L1148.0 931.4L1146.6 929.2M1137.9 928.1L1146.6 929.2M1141.2 922.3L1146.6 929.2" fill="none" stroke="#000" stroke-width="1.0" stroke-linecap="square" shape-rendering="crispEdges"/>
<path d="M864.4 1199.9L857.1 1202.5L860.4 1195.2L860.9 1191.9L860.5 1190.8L859.6 1189.9L857.7 1189.3L855.6 1190.1L854.7 1191.0L854.4 1191.8L854.3 1193.0L854.5 1193.6M868.8 1190.9L871.0 1188.8L871.1 1187.5L870.7 1186.4L869.8 1185.5L868.0 1185.6L866.0 1186.3L864.6 1187.4L864.5 1188.7L864.9 1189.8L865.8 1190.7L868.8 1190.9M868.8 1190.9L871.1 1190.6L872.5 1191.4L873.4 1192.3L874.0 1193.9L873.9 1195.2L873.6 1195.9L872.2 1197.0L870.1 1197.8L868.4 1197.8L867.7 1197.5L866.7 1196.5L866.2 1194.9L866.3 1193.6L866.9 1192.2L868.8 1190.9M876.7 1189.8L886.0 1186.4M887.9 1178.7L887.8 1178.4M887.9 1178.7L896.1 1188.3M887.9 1178.7L892.0 1189.8M896.1 1188.3L896.2 1175.6M896.2 1175.6L896.1 1175.4M896.2 1175.6L900.3 1186.8M907.4 1175.6L908.0 1177.2M910.2 1183.2L909.6 1181.6M908.0 1177.2L906.5 1176.5L905.3 1176.3L903.7 1176.9L902.9 1177.8L902.3 1179.3L902.3 1181.1L902.7 1182.2L903.8 1183.7L905.3 1184.4L906.5 1184.5L908.1 1184.0L908.9 1183.1L909.6 1181.6M908.0 1177.2L909.6 1181.6M914.1 1186.1L914.7 1185.9L915.5 1185.0L916.1 1183.5L916.4 1181.0M910.5 1174.4L916.4 1181.0M916.7 1172.2L916.4 1181.0" fill="none" stroke="#000" stroke-width="1.0" stroke-linecap="square" shape-rendering="crispEdges"/>
<path d="M519.0 1193.9L524.8 1196.0L520.1 1199.3L521.6 1199.8L522.8 1201.5L522.7 1203.3L522.3 1204.4L521.2 1205.8L519.7 1206.6L518.0 1206.5L516.4 1206.0L515.1 1204.9L514.7 1204.1L514.6 1202.8M529.2 1200.1L530.4 1199.9L532.6 1198.9L528.4 1210.3M536.9 1207.9L546.3 1211.3M552.7 1206.5L552.8 1206.2M552.7 1206.5L552.8 1219.2M552.7 1206.5L548.6 1217.7M552.8 1219.2L561.0 1209.5M561.0 1209.5L561.1 1209.3M561.0 1209.5L557.0 1220.7M569.6 1216.7L569.0 1218.3M566.8 1224.3L567.4 1222.7M569.0 1218.3L568.4 1216.8L567.5 1215.9L566.0 1215.3L564.7 1215.5L563.3 1216.2L562.2 1217.7L561.8 1218.8L561.7 1220.6L562.4 1222.1L563.2 1223.0L564.8 1223.6L566.0 1223.4L567.4 1222.7M569.0 1218.3L567.4 1222.7M568.0 1229.1L568.6 1229.3L569.8 1229.1L571.2 1228.4L573.1 1226.6M572.7 1217.8L573.1 1226.6M579.0 1220.1L573.1 1226.6" fill="none" stroke="#000" stroke-width="1.0" stroke-linecap="square" shape-rendering="crispEdges"/>
<path d="M259.0 984.9L258.9 983.6L258.4 982.7L257.0 981.5L254.7 981.6L252.2 982.4L250.7 983.3L248.7 985.1L247.5 987.1L247.8 988.8L248.3 989.7L249.7 990.9L252.0 990.8L254.5 990.0L256.0 989.1L258.3 987.2L259.2 985.4L259.0 984.9M262.8 990.3L265.8 995.6L260.1 995.1L261.0 996.5L260.8 998.5L259.6 999.9L258.5 1000.4L256.8 1000.8L255.2 1000.5L253.9 999.3L253.0 997.9L252.7 996.2L252.9 995.4L253.7 994.3M262.0 1002.9L267.0 1011.6M267.6 1015.0L266.6 1015.6L265.4 1016.9L265.2 1017.7L265.2 1019.0L265.8 1019.9L267.6 1020.8L269.4 1020.4L277.4 1015.7M279.2 1026.9L274.1 1029.8M272.1 1030.9L274.1 1029.8M276.1 1021.6L271.1 1024.5L269.9 1025.8L269.9 1027.1L270.7 1028.5L271.8 1029.2L274.1 1029.8M277.4 1040.0L282.4 1037.1L283.6 1035.8L283.6 1034.5L282.8 1033.1L281.7 1032.4L279.4 1031.9M281.4 1030.7L279.4 1031.9M274.3 1034.8L279.4 1031.9" fill="none" stroke="#000" stroke-width="1.0" stroke-linecap="square" shape-rendering="crispEdges"/>
<path d="M168.0 695.5L167.2 696.5L167.0 697.6L167.3 699.3L169.1 700.8L171.6 701.8L173.3 702.1L176.0 702.0L178.2 701.2L179.0 699.7L179.2 698.6L178.9 696.9L177.1 695.4L174.6 694.4L172.9 694.1L170.0 694.2L168.1 695.0L168.0 695.5M176.2 690.8L173.6 690.3L171.1 689.3L169.3 687.9L169.0 686.2L169.2 685.1L170.1 683.5L171.3 683.2M176.2 690.8L174.8 690.0L173.9 688.7L173.7 686.4L174.6 684.9L175.9 684.0L178.3 683.9L179.9 684.7L180.9 686.0L181.0 688.3L180.2 689.8L178.8 690.7L176.2 690.8M177.2 679.7L179.0 669.9M180.7 666.9L181.8 667.1L183.6 666.8L184.3 666.4L185.1 665.4L185.3 664.3L184.4 662.5L182.8 661.6L173.6 660.0M179.5 650.4L185.2 651.4M187.5 651.8L185.2 651.4M178.4 656.4L184.1 657.4L185.9 657.1L186.7 656.1L187.0 654.5L186.6 653.3L185.2 651.4M189.3 641.4L183.6 640.4L181.8 640.7L181.0 641.7L180.7 643.3L181.1 644.5L182.5 646.4M180.2 646.0L182.5 646.4M188.2 647.4L182.5 646.4" fill="none" stroke="#000" stroke-width="1.0" stroke-linecap="square" shape-rendering="crispEdges"/>
<path d="M307.6 361.1L306.4 361.3L305.6 362.0L304.7 363.5L305.1 365.8L306.4 368.2L307.5 369.5L309.6 371.2L311.8 372.0L313.4 371.4L314.2 370.7L315.1 369.2L314.7 366.9L313.4 364.5L312.3 363.2L310.0 361.3L308.0 360.7L307.6 361.1M319.8 355.8L317.7 354.1L316.1 353.9L314.5 354.6L313.1 356.4L313.0 358.0L313.7 359.7L315.6 361.2L317.2 361.3L318.9 360.7L320.2 358.8L320.3 357.2L319.8 355.8M319.8 355.8L321.5 357.8L322.7 360.1L323.2 362.4L322.3 363.9L321.4 364.6L319.8 365.2L318.6 364.7M324.9 354.9L332.5 348.5M335.8 347.3L336.5 348.2L338.1 349.2L338.9 349.3L340.1 349.0L340.9 348.3L341.5 346.3L340.8 344.6L334.8 337.5M345.4 333.9L349.2 338.3M350.7 340.1L349.2 338.3M340.8 337.8L344.5 342.2L346.1 343.2L347.3 342.9L348.6 341.9L349.0 340.7L349.2 338.3M358.7 333.3L355.0 328.9L353.4 327.9L352.2 328.2L351.0 329.2L350.5 330.4L350.3 332.8M348.8 331.0L350.3 332.8M354.1 337.3L350.3 332.8" fill="none" stroke="#000" stroke-width="1.0" stroke-linecap="square" shape-rendering="crispEdges"/>
<path d="M630.3 193.9L631.4 193.3L633.1 191.6L633.1 203.8M647.5 203.8L639.7 203.8L645.2 197.9L646.9 195.0L646.9 193.9L646.3 192.7L644.7 191.6L642.5 191.6L641.4 192.1L640.8 192.7L640.3 193.9L640.3 194.5M651.3 198.5L661.3 198.5M664.6 199.7L664.6 200.9L665.1 202.6L665.7 203.2L666.8 203.8L667.9 203.8L669.6 202.6L670.1 200.9L670.1 191.6M680.6 195.6L680.6 201.4M680.6 203.8L680.6 201.4M674.5 195.6L674.5 201.4L675.1 203.2L676.2 203.8L677.9 203.8L679.0 203.2L680.6 201.4M691.1 203.8L691.1 197.9L690.6 196.2L689.5 195.6L687.8 195.6L686.7 196.2L685.1 197.9M685.1 195.6L685.1 197.9M685.1 203.8L685.1 197.9" fill="none" stroke="#000" stroke-width="1.0" stroke-linecap="square" shape-rendering="crispEdges"/>
<path d="M993.9 272.5L995.2 272.8L997.5 272.5L989.7 281.9M1007.7 281.1L1003.5 277.5L999.7 281.2L1002.1 281.7L1003.4 282.8L1004.3 284.3L1004.4 285.9L1003.7 287.6L1003.0 288.5L1001.4 289.4L999.8 289.6L998.2 289.0L996.9 287.9L996.0 286.4L996.0 285.6L996.3 284.4M1007.0 289.6L1014.7 296.0M1016.5 299.0L1015.7 299.9L1015.0 301.6L1015.1 302.4L1015.5 303.6L1016.4 304.3L1018.4 304.5L1020.0 303.5L1025.9 296.4M1031.4 306.2L1027.6 310.7M1026.1 312.5L1027.6 310.7M1026.7 302.3L1023.0 306.8L1022.3 308.5L1022.7 309.6L1024.0 310.7L1025.2 310.9L1027.6 310.7M1034.2 319.2L1037.9 314.8L1038.6 313.1L1038.1 311.9L1036.9 310.8L1035.7 310.6L1033.3 310.8M1034.8 309.1L1033.3 310.8M1029.5 315.3L1033.3 310.8" fill="none" stroke="#000" stroke-width="1.0" stroke-linecap="square" shape-rendering="crispEdges"/>
<path d="M1225.2 570.6L1225.9 571.6L1227.9 572.9L1215.9 575.1M1224.6 584.2L1226.2 586.7L1227.5 587.1L1228.6 586.9L1229.7 586.1L1230.0 584.4L1229.6 582.2L1228.7 580.7L1227.5 580.3L1226.3 580.5L1225.3 581.3L1224.6 584.2M1224.6 584.2L1224.4 586.5L1223.5 587.8L1222.4 588.5L1220.7 588.8L1219.5 588.5L1218.8 588.0L1217.9 586.5L1217.6 584.3L1217.8 582.6L1218.3 581.9L1219.4 581.2L1221.1 580.9L1222.3 581.2L1223.7 582.1L1224.6 584.2M1224.2 592.1L1226.0 601.9M1225.4 605.4L1224.3 605.6L1222.6 606.4L1222.2 607.1L1221.8 608.3L1222.0 609.4L1223.4 610.8L1225.2 611.0L1234.4 609.4M1232.2 620.5L1226.5 621.5M1224.2 621.9L1226.5 621.5M1231.1 614.5L1225.4 615.5L1223.8 616.3L1223.4 617.5L1223.7 619.2L1224.5 620.2L1226.5 621.5M1226.0 632.2L1231.7 631.2L1233.3 630.4L1233.7 629.2L1233.4 627.6L1232.7 626.6L1230.7 625.2M1233.0 624.8L1230.7 625.2M1224.9 626.3L1230.7 625.2" fill="none" stroke="#000" stroke-width="1.0" stroke-linecap="square" shape-rendering="crispEdges"/>
<path d="M1184.6 1000.2L1180.7 1006.9L1178.4 999.2L1176.8 996.3L1175.7 995.7L1174.5 995.6L1172.6 996.5L1171.5 998.4L1171.5 999.6L1171.7 1000.4L1172.4 1001.5L1172.9 1001.8M1178.5 990.9L1178.6 989.7L1177.9 987.4L1188.4 993.5M1187.5 984.6L1192.5 976.0M1195.2 973.7L1196.2 974.3L1197.9 974.7L1198.7 974.5L1199.8 973.9L1200.3 972.9L1200.2 970.9L1198.9 969.5L1190.9 964.9M1199.7 957.8L1204.7 960.7M1206.7 961.9L1204.7 960.7M1196.6 963.1L1201.6 966.0L1203.4 966.4L1204.5 965.7L1205.3 964.3L1205.4 963.0L1204.7 960.7M1211.9 952.8L1206.9 949.9L1205.1 949.5L1204.1 950.1L1203.2 951.6L1203.2 952.8L1203.9 955.1M1201.9 954.0L1203.9 955.1M1208.9 958.0L1203.9 955.1" fill="none" stroke="#000" stroke-width="1.0" stroke-linecap="square" shape-rendering="crispEdges"/>
<path d="M899.9 1259.7L892.6 1262.4L895.8 1255.0L896.4 1251.7L896.0 1250.6L895.1 1249.7L893.1 1249.2L891.1 1250.0L890.2 1250.9L889.9 1251.6L889.8 1252.9L890.0 1253.5M904.0 1245.2L901.6 1254.8L906.8 1252.9M904.0 1245.2L906.8 1252.9M908.2 1256.7L906.8 1252.9M906.8 1252.9L909.4 1251.9M912.1 1249.7L921.5 1246.3M925.0 1246.3L925.4 1247.4L926.5 1248.8L927.2 1249.2L928.5 1249.3L929.5 1249.0L930.7 1247.3L930.6 1245.5L927.4 1236.7M938.7 1237.0L940.7 1242.4M941.5 1244.6L940.7 1242.4M933.0 1239.0L935.0 1244.5L936.1 1245.9L937.3 1246.1L938.9 1245.5L939.7 1244.6L940.7 1242.4M951.3 1241.0L949.4 1235.5L948.2 1234.1L947.0 1233.9L945.4 1234.5L944.6 1235.4L943.6 1237.6M942.8 1235.4L943.6 1237.6M945.6 1243.1L943.6 1237.6" fill="none" stroke="#000" stroke-width="1.0" stroke-linecap="square" shape-rendering="crispEdges"/>
<path d="M509.8 1276.3L502.5 1273.7L509.7 1270.1L512.3 1268.0L512.7 1266.9L512.5 1265.6L511.4 1263.9L509.3 1263.2L508.1 1263.3L507.3 1263.7L506.4 1264.6L506.2 1265.1M517.1 1266.0L524.4 1268.7L515.0 1278.2M525.6 1276.5L535.0 1279.9M537.7 1282.2L537.3 1283.3L537.2 1285.1L537.5 1285.8L538.4 1286.7L539.4 1287.1L541.4 1286.6L542.5 1285.1L545.7 1276.4M554.2 1283.8L552.2 1289.3M551.4 1291.5L552.2 1289.3M548.4 1281.7L546.5 1287.2L546.4 1289.0L547.2 1290.0L548.8 1290.5L550.0 1290.4L552.2 1289.3M561.2 1295.1L563.2 1289.6L563.3 1287.8L562.5 1286.9L560.9 1286.3L559.7 1286.5L557.5 1287.5M558.3 1285.3L557.5 1287.5M555.5 1293.0L557.5 1287.5" fill="none" stroke="#000" stroke-width="1.0" stroke-linecap="square" shape-rendering="crispEdges"/>
<path d="M203.1 1023.7L206.1 1029.0L200.4 1028.4L201.3 1029.9L201.1 1031.9L199.8 1033.2L198.8 1033.8L197.1 1034.2L195.5 1033.8L194.2 1032.7L193.3 1031.2L193.0 1029.5L193.2 1028.7L194.0 1027.7M210.3 1037.4L210.3 1036.2L209.7 1035.2L208.4 1034.1L206.1 1034.1L203.5 1034.9L202.0 1035.8L200.0 1037.6L198.8 1039.6L199.1 1041.3L199.7 1042.3L201.0 1043.4L203.3 1043.3L205.9 1042.5L207.4 1041.6L209.6 1039.7L210.6 1037.9L210.3 1037.4M207.8 1045.9L212.8 1054.5M213.4 1057.9L212.4 1058.5L211.2 1059.9L211.0 1060.6L211.0 1061.9L211.6 1062.9L213.4 1063.7L215.2 1063.3L223.3 1058.7M225.0 1069.8L220.0 1072.7M217.9 1073.9L220.0 1072.7M221.9 1064.5L216.9 1067.4L215.7 1068.8L215.7 1070.0L216.6 1071.5L217.6 1072.1L220.0 1072.7M223.2 1083.0L228.2 1080.1L229.5 1078.7L229.4 1077.5L228.6 1076.0L227.5 1075.4L225.2 1074.8M227.2 1073.6L225.2 1074.8M220.2 1077.7L225.2 1074.8" fill="none" stroke="#000" stroke-width="1.0" stroke-linecap="square" shape-rendering="crispEdges"/>
<path d="M99.4 693.6L98.6 694.6L98.4 695.7L98.7 697.4L100.5 698.9L103.0 699.9L104.7 700.2L107.4 700.1L109.6 699.3L110.5 697.8L110.7 696.7L110.4 695.0L108.6 693.5L106.1 692.5L104.4 692.2L101.4 692.3L99.5 693.1L99.4 693.6M100.0 687.0L101.0 681.0L105.0 685.0L105.3 683.4L106.8 682.0L108.6 681.7L109.7 681.9L111.3 682.8L112.3 684.1L112.6 685.8L112.3 687.4L111.4 689.0L110.8 689.4L109.5 689.8M108.7 677.8L110.4 668.0M112.1 665.0L113.3 665.2L115.1 664.9L115.7 664.5L116.5 663.5L116.7 662.4L115.8 660.6L114.2 659.7L105.1 658.1M110.9 648.5L116.6 649.5M118.9 649.9L116.6 649.5M109.8 654.4L115.6 655.5L117.4 655.2L118.1 654.2L118.4 652.6L118.1 651.4L116.6 649.5M119.7 645.5L107.7 643.4" fill="none" stroke="#000" stroke-width="1.0" stroke-linecap="square" shape-rendering="crispEdges"/>
<circle cx="42" cy="28" r="14.5" fill="#b2b2b2"/>
<circle cx="42" cy="84.2" r="13.8" fill="none" stroke="#b2b2b2" stroke-width="1.6"/>
<path d="M78.9 16.2L78.9 27.6L71.7 16.2M71.7 16.2L71.7 27.6M88.6 26.0L87.6 27.1L86.6 27.6L85.0 27.6L84.0 27.1L83.0 26.0L82.5 24.3L82.5 23.2M82.5 23.2L83.0 21.6L84.0 20.5L85.0 20.0L86.6 20.0L87.6 20.5L88.6 22.2L88.6 23.2L82.5 23.2M93.7 27.6L91.7 20.0M93.7 27.6L95.8 20.0M99.8 20.0L97.8 27.6M97.8 27.6L95.8 20.0M111.6 16.4L111.6 16.2M111.6 16.4L115.7 27.6M111.6 16.4L111.6 27.6M115.7 27.6L119.8 16.4M119.8 16.4L119.8 16.2M119.8 16.4L119.8 27.6M130.0 22.7L129.5 21.6L128.5 20.5L127.4 20.0L125.9 20.0L124.9 20.5L123.9 21.6L123.4 23.2L123.4 24.3L123.9 26.0L124.9 27.1L125.9 27.6L127.4 27.6L128.5 27.1L129.5 26.0L130.0 24.3L130.0 22.7M139.7 22.7L139.2 21.6L138.2 20.5L137.2 20.0L135.6 20.0L134.6 20.5L133.6 21.6L133.1 23.2L133.1 24.3L133.6 26.0L134.6 27.1L135.6 27.6L137.2 27.6L138.2 27.1L139.2 26.0L139.7 24.3L139.7 22.7M148.9 27.6L148.9 22.2L148.4 20.5L147.4 20.0L145.8 20.0L144.8 20.5L143.3 22.2M143.3 20.0L143.3 22.2M143.3 27.6L143.3 22.2" fill="none" stroke="#000" stroke-width="1.0" stroke-linecap="square" shape-rendering="crispEdges"/>
<path d="M71.7 77.8L71.7 72.4L78.4 72.4M71.7 77.8L75.8 77.8M71.7 77.8L71.7 83.8M86.6 76.2L86.6 81.6M86.6 83.8L86.6 81.6M80.9 76.2L80.9 81.6L81.5 83.3L82.5 83.8L84.0 83.8L85.0 83.3L86.6 81.6M90.7 83.8L90.7 72.4M94.7 83.8L94.7 72.4M107.0 72.6L107.0 72.4M107.0 72.6L111.1 83.8M107.0 72.6L107.0 83.8M111.1 83.8L115.2 72.6M115.2 72.6L115.2 72.4M115.2 72.6L115.2 83.8M125.4 78.9L124.9 77.8L123.9 76.7L122.8 76.2L121.3 76.2L120.3 76.7L119.3 77.8L118.8 79.4L118.8 80.5L119.3 82.2L120.3 83.3L121.3 83.8L122.8 83.8L123.9 83.3L124.9 82.2L125.4 80.5L125.4 78.9M135.1 78.9L134.6 77.8L133.6 76.7L132.6 76.2L131.0 76.2L130.0 76.7L129.0 77.8L128.5 79.4L128.5 80.5L129.0 82.2L130.0 83.3L131.0 83.8L132.6 83.8L133.6 83.3L134.6 82.2L135.1 80.5L135.1 78.9M144.3 83.8L144.3 78.3L143.8 76.7L142.8 76.2L141.2 76.2L140.2 76.7L138.7 78.3M138.7 76.2L138.7 78.3M138.7 83.8L138.7 78.3" fill="none" stroke="#000" stroke-width="1.0" stroke-linecap="square" shape-rendering="crispEdges"/>
<path d="M1268.3 32.2L1268.3 26.3L1272.9 26.3L1274.4 26.8L1274.9 27.3L1275.4 28.4L1275.4 30.1L1274.4 31.7L1272.9 32.2L1268.3 32.2M1268.3 32.2L1268.3 37.7M1284.6 36.1L1283.6 37.2L1282.6 37.7L1281.1 37.7L1280.0 37.2L1279.0 36.1L1278.5 34.4L1278.5 33.3M1278.5 33.3L1279.0 31.7L1280.0 30.6L1281.1 30.1L1282.6 30.1L1283.6 30.6L1284.6 32.2L1284.6 33.3L1278.5 33.3M1288.2 33.1L1288.2 30.1M1288.2 33.1L1288.7 31.7L1289.7 30.6L1290.8 30.1L1292.3 30.1M1288.2 33.1L1288.2 37.7M1294.9 30.1L1294.9 37.7M1294.6 26.0L1294.9 25.7L1295.4 26.3L1294.9 26.8L1294.3 26.3L1294.6 26.0M1305.1 32.8L1304.6 31.7L1303.5 30.6L1302.5 30.1L1301.0 30.1L1300.0 30.6L1298.9 31.7L1298.4 33.3L1298.4 34.4L1298.9 36.1L1300.0 37.2L1301.0 37.7L1302.5 37.7L1303.5 37.2L1304.6 36.1L1305.1 34.4L1305.1 32.8M1314.3 37.7L1314.3 36.1M1314.3 26.3L1314.3 31.7M1314.3 36.1L1314.3 31.7M1314.3 36.1L1313.3 37.2L1312.2 37.7L1310.7 37.7L1309.7 37.2L1308.7 36.1L1308.1 34.4L1308.1 33.3L1308.7 31.7L1309.7 30.6L1310.7 30.1L1312.2 30.1L1313.3 30.6L1314.3 31.7M1318.6 30.9L1318.4 30.6L1318.9 30.1L1319.4 30.6L1318.9 31.2L1318.6 30.9M1318.9 37.7L1318.4 37.2L1318.9 36.6L1319.4 37.2L1318.9 37.7M1338.3 37.7L1331.1 37.7L1336.2 32.2L1337.8 29.5L1337.8 28.4L1337.3 27.3L1335.7 26.3L1333.7 26.3L1332.7 26.8L1332.2 27.3L1331.6 28.4L1331.6 29.0M1341.4 26.3L1348.5 26.3L1343.4 37.7M1365.9 37.7L1365.9 36.1M1365.9 26.3L1365.9 31.7M1365.9 36.1L1365.9 31.7M1365.9 36.1L1364.9 37.2L1363.8 37.7L1362.3 37.7L1361.3 37.2L1360.3 36.1L1359.8 34.4L1359.8 33.3L1360.3 31.7L1361.3 30.6L1362.3 30.1L1363.8 30.1L1364.9 30.6L1365.9 31.7M1375.6 30.1L1375.6 31.7M1375.6 37.7L1375.6 36.1M1375.6 31.7L1374.6 30.6L1373.5 30.1L1372.0 30.1L1371.0 30.6L1370.0 31.7L1369.5 33.3L1369.5 34.4L1370.0 36.1L1371.0 37.2L1372.0 37.7L1373.5 37.7L1374.6 37.2L1375.6 36.1M1375.6 31.7L1375.6 36.1M1378.1 41.5L1378.7 41.5L1379.7 41.0L1380.7 39.9L1381.7 37.7M1378.7 30.1L1381.7 37.7M1384.8 30.1L1381.7 37.7M1393.0 31.7L1392.5 30.6L1390.9 30.1L1389.4 30.1L1387.9 30.6L1387.3 31.7L1387.9 32.8L1388.9 33.3L1391.4 33.9L1392.5 34.4L1393.0 35.5L1393.0 36.1L1392.5 37.2L1390.9 37.7L1389.4 37.7L1387.9 37.2L1387.3 36.1" fill="none" stroke="#000" stroke-width="1.0" stroke-linecap="square" shape-rendering="crispEdges"/>
<path d="M13.6 1386.0L13.1 1384.9L12.1 1383.8L11.0 1383.3L9.0 1383.3L8.0 1383.8L7.0 1384.9L5.9 1387.6L5.9 1390.3L7.0 1393.1L8.0 1394.2L9.0 1394.7L11.0 1394.7L12.1 1394.2L13.1 1393.1L13.6 1392.0L13.6 1390.3L11.0 1390.3M17.2 1394.7L17.2 1383.3M21.3 1389.8L30.5 1389.8M41.7 1383.3L41.7 1391.4L41.2 1393.1L40.2 1394.2L38.6 1394.7L37.6 1394.7L36.1 1394.2L35.1 1393.1L34.5 1391.4L34.5 1383.3M50.9 1390.9L45.8 1390.9M44.3 1394.7L48.3 1383.3M52.4 1394.7L48.3 1383.3M55.0 1388.7L55.0 1383.3L61.6 1383.3M55.0 1388.7L59.1 1388.7M55.0 1388.7L55.0 1394.7M79.0 1394.7L71.9 1394.7L77.0 1389.2L78.5 1386.5L78.5 1385.4L78.0 1384.3L76.5 1383.3L74.4 1383.3L73.4 1383.8L72.9 1384.3L72.4 1385.4L72.4 1386.0M87.2 1383.8L86.2 1383.3L85.1 1383.3L83.6 1383.8L82.6 1385.7L82.1 1388.2L82.1 1389.8L82.6 1392.2L83.6 1394.2L85.1 1394.7L86.2 1394.7L87.7 1394.2L88.7 1392.2L89.2 1389.8L89.2 1388.2L88.7 1385.4L87.7 1383.8L87.2 1383.8M99.4 1394.7L92.3 1394.7L97.4 1389.2L98.9 1386.5L98.9 1385.4L98.4 1384.3L96.9 1383.3L94.8 1383.3L93.8 1383.8L93.3 1384.3L92.8 1385.4L92.8 1386.0M107.6 1383.3L102.5 1390.9L107.6 1390.9M107.6 1383.3L107.6 1390.9M107.6 1394.7L107.6 1390.9M107.6 1390.9L110.2 1390.9" fill="none" stroke="#000" stroke-width="1.0" stroke-linecap="square" shape-rendering="crispEdges"/>
<path d="M1088.1 1385.9L1087.6 1384.8L1086.6 1383.7L1085.5 1383.2L1083.5 1383.2L1082.5 1383.7L1081.5 1384.8L1080.5 1387.5L1080.5 1390.2L1081.5 1393.0L1082.5 1394.1L1083.5 1394.6L1085.5 1394.6L1086.6 1394.1L1087.6 1393.0L1088.1 1391.9M1097.7 1389.7L1097.2 1388.6L1096.2 1387.5L1095.2 1387.0L1093.6 1387.0L1092.6 1387.5L1091.6 1388.6L1091.1 1390.2L1091.1 1391.3L1091.6 1393.0L1092.6 1394.1L1093.6 1394.6L1095.2 1394.6L1096.2 1394.1L1097.2 1393.0L1097.7 1391.3L1097.7 1389.7M1106.8 1394.6L1106.8 1389.1L1106.3 1387.5L1105.3 1387.0L1103.8 1387.0L1102.8 1387.5L1101.3 1389.1M1101.3 1387.0L1101.3 1389.1M1101.3 1394.6L1101.3 1389.1M1116.5 1394.6L1116.5 1393.0M1116.5 1383.2L1116.5 1388.6M1116.5 1393.0L1116.5 1388.6M1116.5 1393.0L1115.4 1394.1L1114.4 1394.6L1112.9 1394.6L1111.9 1394.1L1110.9 1393.0L1110.4 1391.3L1110.4 1390.2L1110.9 1388.6L1111.9 1387.5L1112.9 1387.0L1114.4 1387.0L1115.4 1387.5L1116.5 1388.6M1126.1 1393.0L1125.1 1394.1L1124.1 1394.6L1122.5 1394.6L1121.5 1394.1L1120.5 1393.0L1120.0 1391.3L1120.0 1390.2M1120.0 1390.2L1120.5 1388.6L1121.5 1387.5L1122.5 1387.0L1124.1 1387.0L1125.1 1387.5L1126.1 1389.1L1126.1 1390.2L1120.0 1390.2M1135.2 1387.0L1135.2 1388.6M1130.7 1397.9L1131.7 1398.4L1133.2 1398.4L1134.2 1397.9L1134.7 1397.3L1135.2 1395.7L1135.2 1393.0M1135.2 1388.6L1134.2 1387.5L1133.2 1387.0L1131.7 1387.0L1130.7 1387.5L1129.6 1388.6L1129.1 1390.2L1129.1 1391.3L1129.6 1393.0L1130.7 1394.1L1131.7 1394.6L1133.2 1394.6L1134.2 1394.1L1135.2 1393.0M1135.2 1388.6L1135.2 1393.0M1139.3 1390.0L1139.3 1387.0M1139.3 1390.0L1139.8 1388.6L1140.8 1387.5L1141.8 1387.0L1143.3 1387.0M1139.3 1390.0L1139.3 1394.6M1151.4 1387.0L1151.4 1388.6M1151.4 1394.6L1151.4 1393.0M1151.4 1388.6L1150.4 1387.5L1149.4 1387.0L1147.9 1387.0L1146.9 1387.5L1145.9 1388.6L1145.4 1390.2L1145.4 1391.3L1145.9 1393.0L1146.9 1394.1L1147.9 1394.6L1149.4 1394.6L1150.4 1394.1L1151.4 1393.0M1151.4 1388.6L1151.4 1393.0M1161.1 1394.6L1161.1 1389.1M1161.1 1389.1L1160.6 1387.5L1159.6 1387.0L1158.0 1387.0L1157.0 1387.5L1155.5 1389.1M1161.1 1389.1L1162.6 1387.5L1163.6 1387.0L1165.1 1387.0L1166.1 1387.5L1166.7 1389.1L1166.7 1394.6M1155.5 1387.0L1155.5 1389.1M1155.5 1394.6L1155.5 1389.1M1178.8 1393.0L1178.8 1388.6M1178.8 1393.0L1179.8 1394.1L1180.9 1394.6L1182.4 1394.6L1183.4 1394.1L1184.4 1393.0L1184.9 1391.3L1184.9 1390.2L1184.4 1388.6L1183.4 1387.5L1182.4 1387.0L1180.9 1387.0L1179.8 1387.5L1178.8 1388.6M1178.8 1393.0L1178.8 1398.4M1178.8 1387.0L1178.8 1388.6M1188.5 1394.6L1188.5 1383.2M1198.6 1389.7L1198.1 1388.6L1197.1 1387.5L1196.1 1387.0L1194.5 1387.0L1193.5 1387.5L1192.5 1388.6L1192.0 1390.2L1192.0 1391.3L1192.5 1393.0L1193.5 1394.1L1194.5 1394.6L1196.1 1394.6L1197.1 1394.1L1198.1 1393.0L1198.6 1391.3L1198.6 1389.7M1202.7 1383.2L1202.7 1387.0M1201.1 1387.0L1202.7 1387.0M1205.2 1394.6L1204.2 1394.6L1203.2 1394.1L1202.7 1392.4L1202.7 1387.0M1204.7 1387.0L1202.7 1387.0M1208.7 1383.2L1208.7 1387.0M1207.2 1387.0L1208.7 1387.0M1211.3 1394.6L1210.3 1394.6L1209.2 1394.1L1208.7 1392.4L1208.7 1387.0M1210.8 1387.0L1208.7 1387.0M1219.9 1393.0L1218.9 1394.1L1217.9 1394.6L1216.3 1394.6L1215.3 1394.1L1214.3 1393.0L1213.8 1391.3L1213.8 1390.2M1213.8 1390.2L1214.3 1388.6L1215.3 1387.5L1216.3 1387.0L1217.9 1387.0L1218.9 1387.5L1219.9 1389.1L1219.9 1390.2L1213.8 1390.2M1229.0 1394.6L1229.0 1393.0M1229.0 1383.2L1229.0 1388.6M1229.0 1393.0L1229.0 1388.6M1229.0 1393.0L1228.0 1394.1L1227.0 1394.6L1225.5 1394.6L1224.5 1394.1L1223.4 1393.0L1222.9 1391.3L1222.9 1390.2L1223.4 1388.6L1224.5 1387.5L1225.5 1387.0L1227.0 1387.0L1228.0 1387.5L1229.0 1388.6M1240.2 1390.8L1240.2 1391.9L1240.7 1393.5L1241.2 1394.1L1242.2 1394.6L1243.2 1394.6L1244.7 1393.5L1245.2 1391.9L1245.2 1383.2M1254.9 1387.0L1254.9 1392.4M1254.9 1394.6L1254.9 1392.4M1249.3 1387.0L1249.3 1392.4L1249.8 1394.1L1250.8 1394.6L1252.3 1394.6L1253.4 1394.1L1254.9 1392.4M1258.9 1394.6L1258.9 1383.2M1275.7 1383.7L1274.6 1383.2L1273.6 1383.2L1272.1 1383.7L1271.1 1385.6L1270.6 1388.1L1270.6 1389.7L1271.1 1392.1L1272.1 1394.1L1273.6 1394.6L1274.6 1394.6L1276.2 1394.1L1277.2 1392.1L1277.7 1389.7L1277.7 1388.1L1277.2 1385.3L1276.2 1383.7L1275.7 1383.7M1287.3 1387.2L1286.8 1384.8L1285.8 1383.7L1284.3 1383.2L1282.3 1383.7L1281.2 1384.8L1280.7 1386.4L1281.2 1388.6L1282.3 1389.7L1283.8 1390.2L1285.8 1389.7L1286.8 1388.6L1287.3 1387.2M1287.3 1387.2L1287.3 1389.7L1286.8 1392.1L1285.8 1394.1L1284.3 1394.6L1283.3 1394.6L1281.7 1394.1L1281.2 1393.0M1305.1 1387.0L1305.1 1388.6M1305.1 1394.6L1305.1 1393.0M1305.1 1388.6L1304.1 1387.5L1303.0 1387.0L1301.5 1387.0L1300.5 1387.5L1299.5 1388.6L1299.0 1390.2L1299.0 1391.3L1299.5 1393.0L1300.5 1394.1L1301.5 1394.6L1303.0 1394.6L1304.1 1394.1L1305.1 1393.0M1305.1 1388.6L1305.1 1393.0M1309.6 1383.2L1309.6 1387.0M1308.1 1387.0L1309.6 1387.0M1312.2 1394.6L1311.2 1394.6L1310.1 1394.1L1309.6 1392.4L1309.6 1387.0M1311.7 1387.0L1309.6 1387.0M1324.3 1385.3L1325.3 1384.8L1326.9 1383.2L1326.9 1394.6M1339.0 1383.2L1334.0 1383.2L1333.5 1388.1L1335.5 1387.0L1337.0 1387.0L1338.5 1387.5L1339.5 1388.6L1340.1 1390.2L1340.1 1391.3L1339.5 1393.0L1338.5 1394.1L1337.0 1394.6L1335.5 1394.6L1334.0 1394.1L1333.5 1393.5L1333.0 1392.4M1343.9 1387.8L1343.6 1387.5L1344.1 1387.0L1344.6 1387.5L1344.1 1388.1L1343.9 1387.8M1344.1 1394.6L1343.6 1394.1L1344.1 1393.5L1344.6 1394.1L1344.1 1394.6M1353.2 1383.7L1352.2 1383.2L1351.2 1383.2L1349.7 1383.7L1348.7 1385.6L1348.2 1388.1L1348.2 1389.7L1348.7 1392.1L1349.7 1394.1L1351.2 1394.6L1352.2 1394.6L1353.7 1394.1L1354.8 1392.1L1355.3 1389.7L1355.3 1388.1L1354.8 1385.3L1353.7 1383.7L1353.2 1383.7M1359.8 1385.3L1360.8 1384.8L1362.4 1383.2L1362.4 1394.6M1384.2 1383.2L1384.2 1391.3L1383.7 1393.0L1382.6 1394.1L1381.1 1394.6L1380.1 1394.6L1378.6 1394.1L1377.6 1393.0L1377.1 1391.3L1377.1 1383.2M1393.8 1383.2L1390.2 1383.2M1390.2 1394.6L1390.2 1383.2M1390.2 1383.2L1386.7 1383.2" fill="none" stroke="#000" stroke-width="1.0" stroke-linecap="square" shape-rendering="crispEdges"/>
<path d="M707.0 49.5L700.2 49.5L705.0 44.4L706.5 41.8L706.5 40.8L706.0 39.8L704.6 38.7L702.6 38.7L701.6 39.3L701.1 39.8L700.7 40.8L700.7 41.3M715.7 38.7L710.9 38.7L710.4 43.4L712.3 42.3L713.8 42.3L715.2 42.8L716.2 43.9L716.7 45.4L716.7 46.4L716.2 48.0L715.2 49.0L713.8 49.5L712.3 49.5L710.9 49.0L710.4 48.5L709.9 47.5M724.5 39.3L723.5 38.7L722.5 38.7L721.1 39.3L720.1 41.1L719.6 43.4L719.6 44.9L720.1 47.2L721.1 49.0L722.5 49.5L723.5 49.5L725.0 49.0L725.9 47.2L726.4 44.9L726.4 43.4L725.9 40.8L725.0 39.3L724.5 39.3" fill="none" stroke="#000" stroke-width="1.5" stroke-linecap="square" shape-rendering="crispEdges"/>
<path d="M701.6 63.3L702.6 62.8L704.1 61.2L704.1 72.0M716.2 65.1L715.7 62.8L714.8 61.8L713.3 61.2L711.4 61.8L710.4 62.8L709.9 64.3L710.4 66.4L711.4 67.4L712.8 67.9L714.8 67.4L715.7 66.4L716.2 65.1M716.2 65.1L716.2 67.4L715.7 69.7L714.8 71.5L713.3 72.0L712.3 72.0L710.9 71.5L710.4 70.5M724.5 61.8L723.5 61.2L722.5 61.2L721.1 61.8L720.1 63.6L719.6 65.9L719.6 67.4L720.1 69.7L721.1 71.5L722.5 72.0L723.5 72.0L725.0 71.5L725.9 69.7L726.4 67.4L726.4 65.9L725.9 63.3L725.0 61.8L724.5 61.8" fill="none" stroke="#000" stroke-width="1.5" stroke-linecap="square" shape-rendering="crispEdges"/>
<path d="M701.6 85.8L702.6 85.3L704.1 83.7L704.1 94.5M710.9 83.7L716.2 83.7L713.3 87.8L714.8 87.8L716.2 88.9L716.7 90.4L716.7 91.4L716.2 93.0L715.2 94.0L713.8 94.5L712.3 94.5L710.9 94.0L710.4 93.5L709.9 92.5M724.5 84.3L723.5 83.7L722.5 83.7L721.1 84.3L720.1 86.1L719.6 88.4L719.6 89.9L720.1 92.2L721.1 94.0L722.5 94.5L723.5 94.5L725.0 94.0L725.9 92.2L726.4 89.9L726.4 88.4L725.9 85.8L725.0 84.3L724.5 84.3" fill="none" stroke="#000" stroke-width="1.5" stroke-linecap="square" shape-rendering="crispEdges"/>
<path d="M671 573.5H706M671 642.5H706" stroke="#000" stroke-width="1.2" fill="none" shape-rendering="crispEdges"/>
<path d="M688 573.3V642.5" stroke="#000" stroke-width="2" fill="none" shape-rendering="crispEdges"/>
<path d="M727.8 578.9L718.9 578.9L725.2 572.6L727.1 569.5L727.1 568.3L726.5 567.0L724.6 565.8L722.1 565.8L720.8 566.4L720.2 567.0L719.5 568.3L719.5 568.9M739.2 565.8L732.8 565.8L732.2 571.4L734.7 570.1L736.6 570.1L738.5 570.8L739.8 572.0L740.4 573.9L740.4 575.1L739.8 577.0L738.5 578.3L736.6 578.9L734.7 578.9L732.8 578.3L732.2 577.6L731.6 576.4M750.5 566.4L749.3 565.8L748.0 565.8L746.1 566.4L744.9 568.6L744.2 571.4L744.2 573.3L744.9 576.1L746.1 578.3L748.0 578.9L749.3 578.9L751.2 578.3L752.4 576.1L753.1 573.3L753.1 571.4L752.4 568.3L751.2 566.4L750.5 566.4M774.0 572.0L773.3 570.8L771.4 570.1L769.5 570.1L767.6 570.8L767.0 572.0L767.6 573.3L768.9 573.9L772.1 574.5L773.3 575.1L774.0 576.4L774.0 577.0L773.3 578.3L771.4 578.9L769.5 578.9L767.6 578.3L767.0 577.0M779.0 578.9L779.0 570.1M777.1 570.1L779.0 570.1M782.2 565.8L780.9 565.8L779.7 566.4L779.0 568.3L779.0 570.1M781.6 570.1L779.0 570.1M793.0 570.1L793.0 576.4M793.0 578.9L793.0 576.4M786.0 570.1L786.0 576.4L786.6 578.3L787.9 578.9L789.8 578.9L791.1 578.3L793.0 576.4" fill="none" stroke="#000" stroke-width="1.0" stroke-linecap="square" shape-rendering="crispEdges"/>
<path d="M720.2 634.0L729.1 634.0L722.7 647.1M739.2 634.6L737.9 634.0L736.7 634.0L734.8 634.6L733.5 636.8L732.9 639.6L732.9 641.5L733.5 644.3L734.8 646.5L736.7 647.1L737.9 647.1L739.8 646.5L741.1 644.3L741.7 641.5L741.7 639.6L741.1 636.5L739.8 634.6L739.2 634.6M762.6 640.2L762.0 639.0L760.1 638.3L758.2 638.3L756.3 639.0L755.6 640.2L756.3 641.5L757.5 642.1L760.7 642.7L762.0 643.3L762.6 644.6L762.6 645.2L762.0 646.5L760.1 647.1L758.2 647.1L756.3 646.5L755.6 645.2M767.7 647.1L767.7 638.3M765.8 638.3L767.7 638.3M770.8 634.0L769.6 634.0L768.3 634.6L767.7 636.5L767.7 638.3M770.2 638.3L767.7 638.3M781.6 638.3L781.6 644.6M781.6 647.1L781.6 644.6M774.6 638.3L774.6 644.6L775.3 646.5L776.5 647.1L778.4 647.1L779.7 646.5L781.6 644.6" fill="none" stroke="#000" stroke-width="1.0" stroke-linecap="square" shape-rendering="crispEdges"/>
<path d="M562.2 709.5L562.2 710.1M562.2 709.5L568.9 706.7M568.9 706.7L570.1 703.3M568.9 706.7L563.3 727.2M567.8 707.8L562.2 727.2M561.0 710.1L562.2 710.1M562.2 709.5L566.7 706.7L570.1 703.3M562.2 710.1L562.2 709.5M589.3 726.6L589.3 727.2M591.0 703.3L590.4 703.8M591.0 703.3L591.0 703.8M591.0 703.3L593.8 703.3M591.0 703.3L591.0 703.8M593.8 703.3L594.4 703.3M593.8 703.3L596.1 705.5L597.2 709.0L597.2 712.4L594.9 720.4L592.7 723.8L589.3 726.6M593.8 703.3L594.4 703.3M589.3 727.2L585.9 727.2M589.3 727.2L589.3 726.6M594.4 703.3L596.1 704.4L597.2 705.5L598.3 709.0L598.3 712.4L596.1 720.4L593.8 723.8L591.5 726.1L589.3 726.6M590.4 703.8L591.0 703.8M590.4 703.8L587.0 706.7L584.8 710.1L582.5 718.1L582.5 721.5L583.6 724.9L585.3 726.6M590.4 703.8L588.1 704.4L585.9 706.7L583.6 710.1L581.4 718.1L581.4 721.5L582.5 724.9L583.6 726.1L585.3 727.2M585.3 727.2L585.3 726.6M585.3 727.2L585.9 727.2M585.9 727.2L585.3 726.6M608.5 726.1L607.4 724.9L606.2 726.1L607.4 727.2L608.5 726.1M634.5 704.4L634.5 703.3M634.5 704.4L633.9 704.4M634.5 704.4L633.9 704.4M630.0 711.2L630.5 710.7M630.0 711.2L630.5 711.2M620.3 705.5L619.8 705.5M620.3 705.5L622.0 704.4L624.3 704.4L628.8 706.1M620.3 705.5L619.8 705.5M629.4 706.7L629.4 706.1M629.4 706.7L628.8 706.1M630.0 711.2L630.5 711.2M629.4 706.7L629.4 706.1M629.4 706.7L632.2 706.7L633.9 704.4M619.8 705.5L618.7 706.7M619.8 703.3L618.7 706.7M630.5 711.2L630.5 710.7M633.9 704.4L633.3 706.7L630.5 710.7M617.5 710.1L618.7 706.7M629.4 706.1L628.8 706.1M630.0 711.2L624.3 716.9L622.0 720.4L620.9 722.6L619.8 727.2M628.8 706.1L624.3 703.3L622.0 703.3L619.8 705.5M630.0 711.2L623.2 720.4L622.0 722.6L620.9 727.2M670.6 722.6L668.4 726.1L665.0 727.2L662.7 727.2L660.5 726.1M664.4 711.8L664.4 711.2M664.4 711.8L664.4 711.2M664.4 711.8L663.9 711.8M660.5 726.1L660.5 725.5M660.5 726.1L659.9 725.5M664.4 711.2L668.4 711.2L670.6 712.4L671.8 714.7L671.8 715.8L670.6 715.8L670.6 714.7M659.9 725.5L658.2 722.6L658.2 719.2L659.3 715.8L661.6 712.4L663.9 711.8M659.9 725.5L660.5 725.5M663.9 711.8L662.7 712.4L660.5 715.8L659.3 719.2L659.3 723.8L660.5 725.5M663.9 711.8L664.4 711.2M683.1 718.7L684.2 714.7L684.2 712.4L683.1 711.2L681.9 711.2M704.0 711.2L703.4 711.2M704.0 711.2L706.8 713.5L706.8 715.8L704.5 722.6L704.5 726.1L705.7 727.2M704.0 711.2L703.4 711.2M711.3 722.6L710.2 724.9L707.9 727.2L705.7 727.2M703.4 711.2L701.1 711.2L698.9 712.4L696.6 714.7L694.9 718.1M692.1 711.2L692.7 711.2M692.1 711.2L694.4 713.5L694.4 715.8L691.0 727.2M683.1 718.7L680.8 727.2M694.9 718.1L695.5 713.5L692.7 711.2M692.1 727.2L694.9 718.1M692.7 711.2L692.1 711.2M705.7 727.2L704.5 727.2L703.4 726.1L703.4 722.6L705.7 715.8L705.7 713.5L703.4 711.2M692.1 711.2L689.8 711.2L687.6 712.4L685.3 714.7L683.1 718.7M679.7 727.2L683.1 714.7L683.1 712.4L681.9 711.2M681.9 711.2L679.7 711.2L677.4 713.5L676.3 715.8M749.2 718.7L747.5 716.9L739.6 712.4L737.3 709.5M749.2 718.7L749.7 718.7M749.2 718.7L749.7 719.2M732.8 726.6L733.9 721.5M732.8 726.6L733.9 724.9L735.0 724.9M732.8 726.6L732.8 727.2M733.9 721.5L733.9 720.4M733.9 721.5L733.9 722.6L735.0 724.9M753.1 710.1L753.1 709.5M754.3 703.8L754.3 703.3M754.3 703.8L753.1 705.5L752.0 705.5M754.3 703.8L753.1 709.5M752.0 705.5L750.9 704.4L747.5 703.3L743.0 703.3L739.6 704.4L737.3 706.7L737.3 709.0M752.0 705.5L753.1 707.8L753.1 709.5M749.7 718.7L747.5 715.8L739.6 711.2L737.3 709.0M749.7 718.7L749.7 719.2M737.3 709.0L737.3 709.5M737.3 709.5L737.3 709.0M735.0 724.9L736.2 726.1L739.6 727.2L744.1 727.2L747.5 726.1L748.6 724.9L749.7 722.6L749.7 719.2M771.2 713.0L771.2 712.4M771.2 713.0L771.2 712.4M771.2 713.0L772.3 714.7L772.3 719.2L771.2 722.6L768.9 726.1L767.8 726.6M767.8 726.6L767.8 727.2M766.1 711.8L766.1 711.2M766.1 711.8L766.1 711.2M766.1 711.8L765.6 711.8M762.2 726.1L762.2 725.5M762.2 726.1L761.6 725.5M762.2 726.1L764.4 727.2L767.8 727.2M766.1 711.2L768.9 711.2L771.2 712.4M761.6 725.5L759.9 722.6L759.9 719.2L761.0 715.8L763.3 712.4L765.6 711.8M761.6 725.5L762.2 725.5M765.6 711.8L764.4 712.4L762.2 715.8L761.0 719.2L761.0 723.8L762.2 725.5M771.2 712.4L773.5 715.8L773.5 719.2L772.3 722.6L770.1 726.1L767.8 726.6M767.8 727.2L767.8 726.6M765.6 711.8L766.1 711.2M785.9 703.3L782.5 703.3M785.9 703.3L787.0 703.3L781.4 723.8L781.4 726.1L782.5 727.2M785.9 703.3L780.2 723.8L780.2 726.1L781.4 727.2L782.5 727.2M782.5 727.2L784.8 727.2L787.0 724.9L788.2 722.6M800.0 711.8L800.0 711.2M800.0 711.8L800.0 711.2M800.0 711.8L799.5 711.8M796.1 726.1L796.1 725.5M796.1 726.1L795.5 725.5M796.1 726.1L798.3 727.2L800.6 727.2L802.8 726.1L805.7 721.5M805.7 720.4L805.7 720.9M800.0 711.2L802.8 711.2L805.1 712.4L806.2 715.8L806.2 718.7M795.5 725.5L793.8 722.6L793.8 719.2L794.9 715.8L797.2 712.4L799.5 711.8M795.5 725.5L796.1 725.5M799.5 711.8L798.3 712.4L796.1 715.8L794.9 719.2L794.9 723.8L796.1 725.5M805.7 720.9L805.7 721.5M813.0 722.6L811.9 724.9L809.6 727.2L807.4 727.2M800.0 711.2L799.5 711.8M805.7 720.9L805.7 720.4M805.7 720.9L805.7 721.5M806.2 718.7L808.5 711.2M806.2 718.7L805.7 720.4M807.4 727.2L806.2 726.1L806.2 723.8L809.6 711.2M807.4 727.2L806.2 727.2L805.1 726.1L805.7 721.5M819.8 727.2L822.1 718.7M820.9 711.2L818.7 711.2L816.4 713.5L815.3 715.8M820.9 711.2L822.1 711.2L823.2 712.4L823.2 714.7L822.1 718.7M820.9 711.2L822.1 712.4L822.1 714.7L818.7 727.2M822.1 718.7L824.3 714.7L826.6 712.4L828.8 711.2L831.1 711.2L832.2 712.4L832.2 713.5L831.1 714.7L830.0 713.5L831.1 712.4" fill="none" stroke="#fa3232" stroke-width="2.0" stroke-linecap="square" shape-rendering="crispEdges"/>
<path d="M603.0 749.5L603.0 748.9M603.0 749.5L605.2 756.3L606.4 757.5L607.5 757.5L608.7 756.3M606.4 735.2L607.5 735.8L608.7 738.1L608.7 740.4L607.5 743.8L605.2 745.5M606.4 735.2L606.4 734.7M599.6 746.1L593.9 746.1M599.6 746.1L605.2 746.1M599.6 746.1L601.8 747.2L603.0 748.3L603.0 748.9M593.9 746.1L597.3 734.7M593.9 746.1L590.5 758.6M606.4 735.2L608.7 735.8L609.8 738.1L609.8 740.4L608.7 743.8L607.5 744.9L605.2 745.5M605.2 745.5L605.2 746.1M592.8 734.7L596.2 734.7M608.7 756.3L608.7 756.9M596.2 734.7L597.3 734.7M596.2 734.7L589.4 758.6M586.0 758.6L589.4 758.6M608.7 756.9L608.7 756.3M608.7 756.9L607.5 758.6L605.2 758.6L604.1 757.5L603.0 749.5M603.0 748.9L603.0 749.5M597.3 734.7L606.4 734.7M605.2 745.5L605.2 746.1M606.4 734.7L606.4 735.2M589.4 758.6L590.5 758.6M590.5 758.6L593.9 758.6M608.7 755.2L608.7 756.3M622.8 743.2L622.8 742.6M622.8 743.2L622.8 742.6M622.8 743.2L622.3 743.2M618.9 757.5L618.9 756.9M618.9 757.5L618.3 756.9M618.9 757.5L621.1 758.6L623.4 758.6L625.7 757.5L628.5 752.9M628.5 751.8L628.5 752.3M622.8 742.6L625.7 742.6L627.9 743.8L629.1 747.2L629.1 750.1M618.3 756.9L616.6 754.0L616.6 750.6L617.7 747.2L620.0 743.8L622.3 743.2M618.3 756.9L618.9 756.9M622.3 743.2L621.1 743.8L618.9 747.2L617.7 750.6L617.7 755.2L618.9 756.9M628.5 752.3L628.5 752.9M635.9 754.0L634.7 756.3L632.5 758.6L630.2 758.6M622.8 742.6L622.3 743.2M628.5 752.3L628.5 751.8M628.5 752.3L628.5 752.9M629.1 750.1L631.3 742.6M629.1 750.1L628.5 751.8M630.2 758.6L629.1 757.5L629.1 755.2L632.5 742.6M630.2 758.6L629.1 758.6L627.9 757.5L628.5 752.9M646.6 743.2L646.6 742.6M646.6 743.2L646.6 742.6M646.6 743.2L646.1 743.2M642.7 757.5L642.7 756.9M642.7 757.5L642.1 756.9M642.7 757.5L644.9 758.6L647.2 758.6L649.5 757.5L652.3 752.9M652.3 751.8L652.3 752.3M646.6 742.6L649.5 742.6L651.7 743.8L652.9 747.2L652.9 750.1M642.1 756.9L640.4 754.0L640.4 750.6L641.5 747.2L643.8 743.8L646.1 743.2M642.1 756.9L642.7 756.9M646.1 743.2L644.9 743.8L642.7 747.2L641.5 750.6L641.5 755.2L642.7 756.9M652.3 752.3L652.3 752.9M659.7 754.0L658.5 756.3L656.3 758.6L654.0 758.6M646.6 742.6L646.1 743.2M652.3 752.3L652.3 751.8M652.3 752.3L652.3 752.9M652.9 750.1L657.4 734.7M652.9 750.1L652.3 751.8M654.0 758.6L652.9 757.5L652.9 755.2L658.5 734.7L657.4 734.7M654.0 758.6L652.9 758.6L651.7 757.5L652.3 752.9M654.0 734.7L657.4 734.7M667.6 742.6L665.4 742.6L663.1 744.9L661.9 747.2M667.6 742.6L668.8 742.6L669.9 743.8L669.9 747.2L667.6 754.0L667.6 757.5L668.8 758.6M667.6 742.6L668.8 743.8L668.8 747.2L666.5 754.0L666.5 757.5L667.6 758.6L668.8 758.6M674.4 754.0L673.3 756.3L671.0 758.6L668.8 758.6M669.9 735.8L671.0 734.7L672.2 735.8L671.0 736.9L669.9 735.8M690.3 744.4L690.3 743.8M690.3 744.4L690.3 743.8M690.3 744.4L691.4 746.1L691.4 750.6L690.3 754.0L688.0 757.5L686.9 758.0M686.9 758.0L686.9 758.6M685.2 743.2L685.2 742.6M685.2 743.2L685.2 742.6M685.2 743.2L684.6 743.2M681.2 757.5L681.2 756.9M681.2 757.5L680.7 756.9M681.2 757.5L683.5 758.6L686.9 758.6M685.2 742.6L688.0 742.6L690.3 743.8M680.7 756.9L679.0 754.0L679.0 750.6L680.1 747.2L682.4 743.8L684.6 743.2M680.7 756.9L681.2 756.9M684.6 743.2L683.5 743.8L681.2 747.2L680.1 750.6L680.1 755.2L681.2 756.9M690.3 743.8L692.6 747.2L692.6 750.6L691.4 754.0L689.2 757.5L686.9 758.0M686.9 758.6L686.9 758.0M684.6 743.2L685.2 742.6M736.8 741.5L736.8 740.9M727.7 750.6L728.9 746.1M736.8 740.9L736.8 734.7M736.8 740.9L737.9 734.7L736.8 734.7M722.1 746.1L725.5 734.7M722.1 746.1L718.6 758.6M722.1 746.1L728.9 746.1M736.8 734.7L725.5 734.7M722.1 758.6L718.6 758.6M728.9 746.1L730.0 741.5M724.3 734.7L720.9 734.7M724.3 734.7L725.5 734.7M724.3 734.7L717.5 758.6M717.5 758.6L714.1 758.6M717.5 758.6L718.6 758.6M748.1 734.7L744.7 734.7M748.1 734.7L749.3 734.7L743.6 755.2L743.6 757.5L744.7 758.6M748.1 734.7L742.5 755.2L742.5 757.5L743.6 758.6L744.7 758.6M744.7 758.6L747.0 758.6L749.3 756.3L750.4 754.0M777.6 754.0L776.5 756.3L774.2 758.6L771.9 758.6M770.8 751.2L769.7 755.2L769.7 757.5L770.8 758.6L771.9 758.6M761.7 758.6L761.2 758.0M761.7 758.6L761.2 758.6M761.7 758.6L764.0 758.6L766.3 757.5L768.5 755.2L770.8 751.2M761.2 758.0L759.5 756.3L759.5 754.0L761.7 747.2L761.7 743.8L760.6 742.6L759.5 742.6M761.2 758.0L761.2 758.6M759.5 742.6L757.2 742.6L754.9 744.9L753.8 747.2M759.5 742.6L760.6 743.8L760.6 747.2L758.3 754.0L758.3 756.3L761.2 758.6M770.8 751.2L773.1 742.6M771.9 758.6L770.8 757.5L770.8 755.2L774.2 742.6M782.2 747.2L784.4 743.8L786.7 742.6L789.0 742.6M791.2 758.6L790.1 756.3L790.1 752.9L791.2 748.3M791.2 758.6L790.1 758.6L789.0 756.3L789.0 752.9M791.2 758.6L793.5 758.6L795.8 757.5L798.0 754.0M789.0 752.9L790.1 748.3L790.1 744.9L789.0 742.6M789.0 752.9L787.8 755.2L785.6 757.5L783.3 758.6L782.2 758.6L781.0 757.5L781.0 756.3L782.2 755.2L783.3 756.3L782.2 757.5M789.0 742.6L790.1 742.6L791.2 744.9L791.2 748.3M798.0 743.8L796.9 744.9L798.0 746.1L799.2 744.9L799.2 743.8L798.0 742.6L796.9 742.6L794.6 743.8L792.4 746.1L791.2 748.3" fill="none" stroke="#fa3232" stroke-width="2.0" stroke-linecap="square" shape-rendering="crispEdges"/>
<path d="M637.3 780.1L652.8 780.1L641.7 803.6M670.7 781.2L668.4 780.1L666.2 780.1L662.9 781.2L660.6 785.1L659.5 790.2L659.5 793.5L660.6 798.6L662.9 802.5L666.2 803.6L668.4 803.6L671.8 802.5L674.0 798.6L675.1 793.5L675.1 790.2L674.0 784.6L671.8 781.2L670.7 781.2M711.8 791.3L710.7 789.0L707.4 787.9L704.0 787.9L700.7 789.0L699.6 791.3L700.7 793.5L702.9 794.6L708.5 795.8L710.7 796.9L711.8 799.1L711.8 800.2L710.7 802.5L707.4 803.6L704.0 803.6L700.7 802.5L699.6 800.2M720.7 803.6L720.7 787.9M717.4 787.9L720.7 787.9M726.3 780.1L724.1 780.1L721.9 781.2L720.7 784.6L720.7 787.9M725.2 787.9L720.7 787.9M745.2 787.9L745.2 799.1M745.2 803.6L745.2 799.1M733.0 787.9L733.0 799.1L734.1 802.5L736.3 803.6L739.7 803.6L741.9 802.5L745.2 799.1" fill="none" stroke="#fa3232" stroke-width="1.6" stroke-linecap="square" shape-rendering="crispEdges"/>
<path d="M584.6 885.4L573.4 885.4L573.4 865.0M599.5 871.8L599.5 874.7M599.5 885.4L599.5 882.5M599.5 874.7L597.7 872.8L595.8 871.8L593.0 871.8L591.1 872.8L589.3 874.7L588.3 877.6L588.3 879.6L589.3 882.5L591.1 884.4L593.0 885.4L595.8 885.4L597.7 884.4L599.5 882.5M599.5 874.7L599.5 882.5M607.9 865.0L607.9 871.8M605.1 871.8L607.9 871.8M612.6 885.4L610.7 885.4L608.9 884.4L607.9 881.5L607.9 871.8M611.7 871.8L607.9 871.8M628.5 882.5L626.6 884.4L624.7 885.4L621.9 885.4L620.1 884.4L618.2 882.5L617.3 879.6L617.3 877.6M617.3 877.6L618.2 874.7L620.1 872.8L621.9 871.8L624.7 871.8L626.6 872.8L628.5 875.7L628.5 877.6L617.3 877.6M644.3 874.7L643.4 872.8L640.6 871.8L637.8 871.8L635.0 872.8L634.1 874.7L635.0 876.7L636.9 877.6L641.5 878.6L643.4 879.6L644.3 881.5L644.3 882.5L643.4 884.4L640.6 885.4L637.8 885.4L635.0 884.4L634.1 882.5M651.8 865.0L651.8 871.8M649.0 871.8L651.8 871.8M656.4 885.4L654.6 885.4L652.7 884.4L651.8 881.5L651.8 871.8M655.5 871.8L651.8 871.8M662.5 873.2L662.0 872.8L663.0 871.8L663.9 872.8L663.0 873.7L662.5 873.2M663.0 885.4L662.0 884.4L663.0 883.5L663.9 884.4L663.0 885.4M698.4 885.4L685.4 885.4L694.7 875.7L697.5 870.8L697.5 868.9L696.6 866.9L693.8 865.0L690.0 865.0L688.2 866.0L687.2 866.9L686.3 868.9L686.3 869.8M713.4 866.0L711.5 865.0L709.6 865.0L706.8 866.0L705.0 869.4L704.0 873.7L704.0 876.7L705.0 881.0L706.8 884.4L709.6 885.4L711.5 885.4L714.3 884.4L716.2 881.0L717.1 876.7L717.1 873.7L716.2 868.9L714.3 866.0L713.4 866.0M724.1 873.2L723.6 872.8L724.6 871.8L725.5 872.8L724.6 873.7L724.1 873.2M724.6 885.4L723.6 884.4L724.6 883.5L725.5 884.4L724.6 885.4M741.3 866.0L739.5 865.0L737.6 865.0L734.8 866.0L733.0 869.4L732.0 873.7L732.0 876.7L733.0 881.0L734.8 884.4L737.6 885.4L739.5 885.4L742.3 884.4L744.1 881.0L745.1 876.7L745.1 873.7L744.1 868.9L742.3 866.0L741.3 866.0M760.0 866.0L758.1 865.0L756.3 865.0L753.5 866.0L751.6 869.4L750.7 873.7L750.7 876.7L751.6 881.0L753.5 884.4L756.3 885.4L758.1 885.4L760.9 884.4L762.8 881.0L763.7 876.7L763.7 873.7L762.8 868.9L760.9 866.0L760.0 866.0M798.3 865.0L798.3 879.6L797.3 882.5L795.5 884.4L792.7 885.4L790.8 885.4L788.0 884.4L786.1 882.5L785.2 879.6L785.2 865.0M816.0 865.0L809.5 865.0M809.5 885.4L809.5 865.0M809.5 865.0L802.9 865.0" fill="none" stroke="#fa3232" stroke-width="2.0" stroke-linecap="square" shape-rendering="crispEdges"/>
<path d="M608.4 910.4L595.3 910.4L604.6 900.9L607.4 896.1L607.4 894.2L606.5 892.3L603.7 890.3L600.0 890.3L598.1 891.3L597.2 892.3L596.2 894.2L596.2 895.1M623.3 891.3L621.4 890.3L619.6 890.3L616.8 891.3L614.9 894.6L614.0 898.9L614.0 901.8L614.9 906.1L616.8 909.4L619.6 910.4L621.4 910.4L624.2 909.4L626.1 906.1L627.0 901.8L627.0 898.9L626.1 894.2L624.2 891.3L623.3 891.3M645.7 910.4L632.6 910.4L642.0 900.9L644.8 896.1L644.8 894.2L643.8 892.3L641.0 890.3L637.3 890.3L635.4 891.3L634.5 892.3L633.6 894.2L633.6 895.1M660.6 890.3L651.3 903.7L660.6 903.7M660.6 890.3L660.6 903.7M660.6 910.4L660.6 903.7M660.6 903.7L665.3 903.7M670.9 901.8L687.7 901.8M693.3 903.7L693.3 905.6L694.2 908.5L695.1 909.4L697.0 910.4L698.9 910.4L701.7 908.5L702.6 905.6L702.6 890.3M720.3 897.0L720.3 906.6M720.3 910.4L720.3 906.6M710.1 897.0L710.1 906.6L711.0 909.4L712.9 910.4L715.7 910.4L717.5 909.4L720.3 906.6M727.8 910.4L727.8 890.3M735.3 901.8L752.0 901.8M767.9 891.3L766.0 890.3L764.2 890.3L761.4 891.3L759.5 894.6L758.6 898.9L758.6 901.8L759.5 906.1L761.4 909.4L764.2 910.4L766.0 910.4L768.8 909.4L770.7 906.1L771.6 901.8L771.6 898.9L770.7 894.2L768.8 891.3L767.9 891.3M783.8 898.9L788.4 897.0L789.4 895.1L789.4 893.2L788.4 891.3L785.6 890.3L781.9 890.3L779.1 891.3L778.2 893.2L778.2 895.1L779.1 897.0L783.8 898.9M783.8 898.9L787.5 899.9L789.4 901.8L790.3 903.7L790.3 906.6L789.4 908.5L788.4 909.4L785.6 910.4L781.9 910.4L779.1 909.4L778.2 908.5L777.2 906.6L777.2 903.7L778.2 901.8L780.0 899.9L783.8 898.9" fill="none" stroke="#fa3232" stroke-width="2.0" stroke-linecap="square" shape-rendering="crispEdges"/></svg></body></html>
